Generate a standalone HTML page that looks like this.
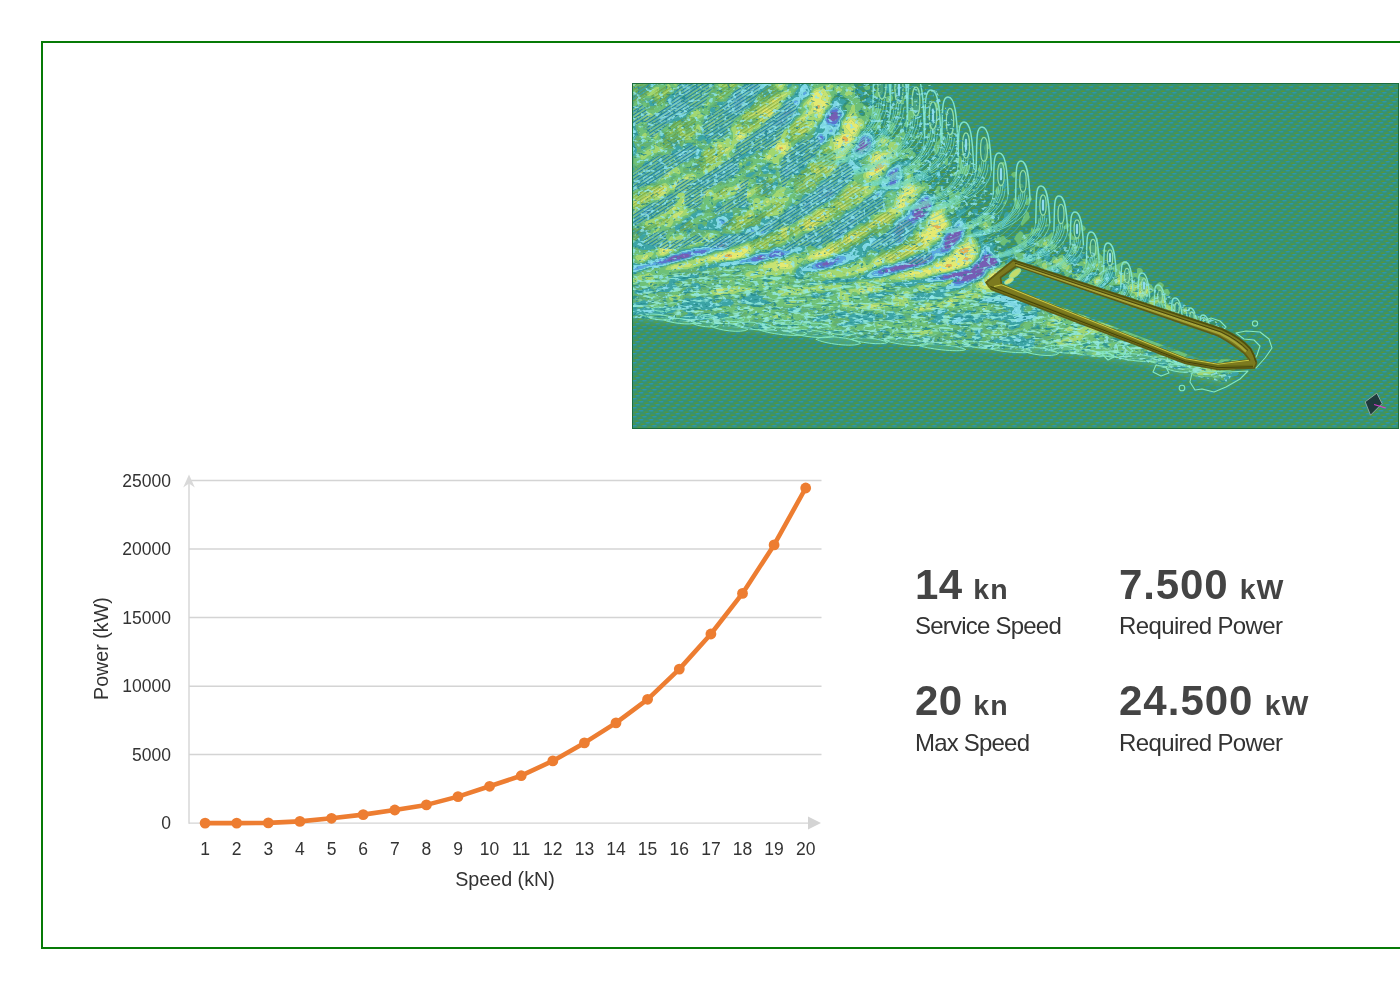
<!DOCTYPE html>
<html lang="en"><head><meta charset="utf-8"><title>Speed / Power</title>
<style>
html,body{margin:0;padding:0;background:#fff;}
body{width:1400px;height:990px;position:relative;overflow:hidden;font-family:"Liberation Sans","DejaVu Sans",sans-serif;}
.frame{position:absolute;left:41px;top:41px;width:1380px;height:903.5px;border:2px solid #077a07;border-right:none;box-sizing:content-box;}
.wave{position:absolute;left:632px;top:83px;width:767px;height:346px;display:block;}
.chart{position:absolute;left:0;top:0;width:1400px;height:990px;display:block;}
.ax{font-family:"Liberation Sans","DejaVu Sans",sans-serif;font-size:17.5px;fill:#333;}
.at{font-family:"Liberation Sans","DejaVu Sans",sans-serif;font-size:19.7px;fill:#333;}
.stat{position:absolute;color:#444;white-space:nowrap;}
.stat .num{font-weight:700;font-size:42px;line-height:40px;letter-spacing:0.45px;}
.stat .unit{font-weight:700;font-size:28.5px;letter-spacing:1.1px;margin-left:-1.5px;}
.stat .lab{font-size:24px;line-height:26px;color:#333;margin-top:4.4px;letter-spacing:-0.8px;}
</style></head><body>
<div class="frame"></div>
<svg class="wave" viewBox="0 0 767 346">
<defs>
<pattern id="mesh" width="10" height="9" patternUnits="userSpaceOnUse">
<rect width="10" height="9" fill="#37926f"/>
<ellipse cx="-2.50" cy="2.25" rx="2.3" ry="0.8" fill="#6f9716" opacity="0.58"/>
<ellipse cx="2.50" cy="0.75" rx="2.3" ry="0.8" fill="#2598dc" opacity="0.58"/>
<ellipse cx="7.50" cy="2.25" rx="2.3" ry="0.8" fill="#6f9716" opacity="0.58"/>
<ellipse cx="12.50" cy="0.75" rx="2.3" ry="0.8" fill="#2598dc" opacity="0.58"/>
<ellipse cx="-0.83" cy="3.75" rx="2.3" ry="0.8" fill="#2598dc" opacity="0.58"/>
<ellipse cx="9.17" cy="3.75" rx="2.3" ry="0.8" fill="#2598dc" opacity="0.58"/>
<ellipse cx="4.17" cy="5.25" rx="2.3" ry="0.8" fill="#6f9716" opacity="0.58"/>
<ellipse cx="5.83" cy="6.75" rx="2.3" ry="0.8" fill="#2598dc" opacity="0.58"/>
<ellipse cx="0.83" cy="8.25" rx="2.3" ry="0.8" fill="#6f9716" opacity="0.58"/>
<ellipse cx="10.83" cy="8.25" rx="2.3" ry="0.8" fill="#6f9716" opacity="0.58"/>
</pattern>
<pattern id="hatch_dark" width="6" height="3" patternUnits="userSpaceOnUse" patternTransform="rotate(-33)">
<rect x="0" y="0" width="6" height="1.5" fill="#1f7f9c"/>
<rect x="0" y="1.5" width="6" height="0.7" fill="#86daea" opacity="0.8"/>
<rect x="0" y="2.2" width="6" height="0.8" fill="#8fc65a" opacity="0.6"/>
</pattern>
<pattern id="hatch_lite" width="6" height="3" patternUnits="userSpaceOnUse" patternTransform="rotate(-33)">
<rect x="0" y="0" width="6" height="1.4" fill="#6f962a"/>
</pattern>
<linearGradient id="hg" x1="0" y1="0" x2="1" y2="0"><stop offset="0" stop-color="#fff" stop-opacity="1"/><stop offset="0.7" stop-color="#fff" stop-opacity="0.8"/><stop offset="1" stop-color="#fff" stop-opacity="0"/></linearGradient>
<mask id="hm"><path d="M0 0 L175 0 L360 188 L250 186 L100 172 L0 182 Z" fill="url(#hg)"/></mask>
<filter id="spk" x="0" y="0" width="100%" height="100%" color-interpolation-filters="sRGB">
<feTurbulence type="fractalNoise" baseFrequency="0.22 0.30" numOctaves="2" seed="11" result="t"/>
<feColorMatrix in="t" type="matrix" values="0 0 0 0 0.13  0 0 0 0 0.52  0 0 0 0 0.56  7 0 0 0 -4.45" result="dark"/>
<feColorMatrix in="t" type="matrix" values="0 0 0 0 0.56  0 0 0 0 0.90  0 0 0 0 0.94  0 7 0 0 -4.0" result="lite"/>
<feMerge><feMergeNode in="dark"/><feMergeNode in="lite"/></feMerge>
<feComposite in2="SourceGraphic" operator="in"/>
</filter>
<filter id="spk2" x="0" y="0" width="100%" height="100%" color-interpolation-filters="sRGB">
<feTurbulence type="fractalNoise" baseFrequency="0.10 0.36" numOctaves="2" seed="5" result="t"/>
<feColorMatrix in="t" type="matrix" values="0 0 0 0 0.15  0 0 0 0 0.55  0 0 0 0 0.56  7 0 0 0 -4.2" result="dark"/>
<feColorMatrix in="t" type="matrix" values="0 0 0 0 0.58  0 0 0 0 0.92  0 0 0 0 0.86  0 7 0 0 -3.9" result="lite"/>
<feMerge><feMergeNode in="dark"/><feMergeNode in="lite"/></feMerge>
<feComposite in2="SourceGraphic" operator="in"/>
</filter>
<filter id="bl" x="-5%" y="-5%" width="110%" height="110%"><feGaussianBlur stdDeviation="5"/></filter>
<clipPath id="wc"><rect x="0" y="0" width="767" height="346"/></clipPath>
</defs>
<g clip-path="url(#wc)">
<rect x="0" y="0" width="767" height="346" fill="url(#mesh)"/>
<path d="M-10 -10 L172 -10 L250 70 L368 186 L372 205 L520 262 L600 288 L596 300 L557 291 L511 278 L419 268 L328 263 L200 252 L-10 233 Z" fill="#7cc77a" opacity="0.6" filter="url(#bl)"/>
<g opacity="0.94">
<path fill="#7858b8" fill-rule="evenodd" d="M199 30l1-1 2 0 2 0 2 1 1 2-1 2 0 1-1 1-1 1-2 1-1 0-1 0-2 0-1 0 0-2 0-2 1-2 0-1zM230 58l2-1 2 1 1 2 1 2-1 2 0 2-1 1-1 1-1 0-2 1-2 0-2-1-1-2 1-1 1-1 0-2 1-1 0-1zM261 90l1-1 1 1-1 2-1 0 0 2-1 1 0-1 0-2 0-1zM292 118l2-1 2 1 1 2 1 2 0 2-1 2-1 1-1 1-1 2-1 2-1 1-2 1-2 1-2 1-1 0-1 0-2 1-1-1 0-2 1-2 0-2 0-1 0-1 1-2 1-1 1-1 1-2 2-2 1 0 1-1zM268 142l2 0 1 0 1 2-1 2-1 2-1 0-1 0-1 0-1-1 0-1 0-1 0-1zM323 146l1 0 2 0 1 0 1 1 0 1 0 2 0 2-1 2-1 2-2 2-1 2-1 0-2 2-1 2-1 1-2 1-2 0-1 0-1-2 1-2 0-2 0-2 1-2 0-1 1-1 1-1 1-1 1-1 1-1 1-2 2-1zM87 162l1-1 2 0 2 0 2 1-2 2-2 0-2 0-1 0zM146 170l2 0 1 0 0 2-1 0-1 0zM48 172l2-1 2 0 2 0 2 0 2 1-1 2-1 0-2 1-2 0-2 0-2 1-2 0-1 0-1 0-2 1-2 0-1 1-1 0-2 0-2 0-1 0 1 0 2-1 1-1 1-1 1-1 1 0 2-1 2 0 2 0zM126 174l2-1 2 0 2 1 1 0-1 1-2 1-2 0-2 0-2 0-2 0 2 0 2-1zM352 174l0-1 2-1 2 0 2 1 2 1 2 1 1 1 1 1 1 1 0 2-1 2-2 1-2 0-2 1-1 0-1 0-2 1-1 1-1 1-1 1-1 2-1 2-1 1-1 1-1 0-2 1-2 0-2 1-2 1-2 1-2 0-2 0-2 0-2 0-2 1-2-1-1 0 1 0 2-2 2-1 1-1-1-1-2 0-2 1-2 0-2 1-2 0-2 0-2 0-2 0-2-1 2-1 2 0 2 0 1-1 1 0 2-1 2-1 2 0 2 0 2-1 2-1 1 0 1 0 2 0 2 0 1 0 1 1 1-1 1-2 2-2 2-2 2-1 1-1 1 0 2-2 1-2zM283 176l1 0 2 0 2 0 2-1 2 0 2 1 0 2-2 1-1 1-1 0-2 1-1 1-1 0-2 1-2 0-2 1-2 0-2 0-2 1-2 1-1 0-1 0-2 0-2 1-2 0-2 1-1 0-1 0-2 0-2 1-2 0-2 0-2 0-1-1 1 0 2-1 2-1 2 0 2 0 2-1 2-1 2-1 2 0 2 0 2-1 2-1 2-1 2-1 1-1 1 0 2-1 2-1zM191 180l1 0 2-1 2 0 2 1-2 2-1 0-1 0-2 1-2-1-1 0 1 0z"/>
<path fill="#5a72d6" fill-rule="evenodd" d="M120 0l2 0 2 0 2 0-2 1-2 0zM156 26l2 1 1 1-1 2-2 1-2 1-1 0-1 0 0-2 1-2 1-1zM199 28l1-1 2 0 2-1 2 1 1 1 1 1 0 1 1 2-1 2-1 2-1 2-1 2-1 1-2 0-2 0-2-1-2 0-2-2 1-2 0-2 1-2 1-2 1-1zM200 29l-1 1-1 1 0 1-1 2 0 2 0 2 1 0 2 0 1 0 1 0 2-1 1-1 1-1 0-1 1-2-1-2-2-1-2 0zM150 36l2 2-1 2-1 1-1-1-1-2zM187 54l1-1 2 0 1 1 0 2-1 1-2-1zM231 54l1 0 1 0 1 0 2 1 1 1 1 2 1 2 0 2 0 2-1 1-1 1-1 1-1 1-1 1-2 1-2 1-2 0-2-1-1 0-1-1-1-1 1-2 1-2 1-2 1-2 1-2 1-2 1-1zM230 58l-2 2 0 1-1 1 0 2-1 1-1 1 1 2 2 1 2 0 2-1 1 0 1-1 1-1 0-2 1-2-1-2-1-2-2-1zM260 88l2-1 2-1 2 2 0 2-1 2-1 2 0 1 0 1 1 2-1 2 0 1-1 1-1 1-2 0-2 0-1-1 1-2 0-1 0-1 0-1 0-1-1-2 0-2 1-2zM262 89l-1 1-1 1 0 1 0 2 0 1 1-1 0-2 1 0 1-2zM195 108l1 0 2 0 1 0 1 1 1 1-1 2-2 2-2 0-1 0-1-1 0-1 0-2zM291 116l1-1 2 0 2 0 1 1 1 1 0 1 1 2 0 2 0 2-1 2-1 2-1 1-1 1-1 2-2 2-2 1-2 1-2 1-2 1-2 2-2 1-1 1-1 0-2 2-2 2-2 2-1 2-1 1-1 1 0 2 1 1 0 1-2 2-2 0 0-2 1-2-1-2-2 0-2-1 0-1 0-1 1-1 1-2 0-1 0-1 1-2 1-1 1-1 1-1 2 0 2-1 2 0 2-2 2-2 2-2 0-2 0-2 1-2 1-2 2-2 2-2 2-1 1-1 1-1zM292 118l-2 1-1 1-1 0-2 2-1 2-1 1-1 1-1 2 0 1 0 1 0 2-1 2 0 2 1 1 2-1 1 0 1 0 2-1 2-1 2-1 1-1 1-2 1-2 1-1 1-1 1-2 0-2-1-2-1-2-2-1zM268 142l-2 2 0 1 0 1 0 1 1 1 1 0 1 0 1 0 1-2 1-2-1-2-1 0zM15 128l1-1 2 1-1 2-1 0-1 0zM325 144l1 0 2-1 2 1 1 2-1 2 0 1 0 1-1 2 0 2-1 1 0 1-2 2-2 2-2 2-2 2-2 2-2 2-1 0-1 0-2 1-2 0-2-1 0-1 1-1 1-2 1-2 1-2 0-2 0-1 0-1 1-2 1-1 1-1 1-1 1-1 1-1 1-1 1-1 1-1 1-1 2-1zM324 146l-1 0-1 1-2 1-1 2-1 1-1 1-1 1-1 1-1 1 0 1-1 2 0 2 0 2-1 2 1 2 1 0 2 0 2-1 1-1 1-2 2-2 1 0 1-2 2-2 1-2 1-2 0-2 0-2 0-1-1-1-1 0zM87 160l1-1 2 0 2 0 2 0 2 0 1 1-1 2-1 2-1 0-2 1-2 0-2 0-2 0-2 0-2 0-1-1 1-1 1-1 1-1 2 0zM88 161l-1 1 0 2 1 0 2 0 2 0 2-2-2-1-2 0zM63 168l1 0 2 0 2-1 2 0 2 0 2 0 1 1-1 1-1 1-1 0-2 1-2 0-2-1-2 0 0-1 0 1-2 1-1 1-1 1-1 1-1 0-2 1-2 0-2 1-1 0-1 0-2 1-2 0-2 1-1 0-1 0-2 1-2 0-2 0-2 1-2 0-2 1-2-1-2 0-2 0 2-1 2-1 2 0 2-1 1-1 1 0 2-1 1-1 1 0 2-1 2-1 2 0 1 0 1 0 2-1 2-1 2 0 2 0 2-1 2 0 2 0 2-1zM48 172l-2 1-2 0-2 0-2 1-1 0-1 1-1 1-1 1-2 1-1 0 1 0 2 0 2 0 1 0 1-1 2 0 2-1 1 0 1 0 2 0 2-1 2 0 2 0 2-1 1 0 1-2-2-1-2 0-2 0-2 0zM143 168l1 0 2 0 2 0 2 1 2 1 0 1 0 1-2 1-2 1-2-1-2 0-2 1-1 0-1 0-2 0-1 0 0-2 1-1 1-1 1 0 2-2zM146 170l1 2 1 0 1 0 0-2-1 0zM128 172l2 0 2 0 2 1 2 1-2 1-1 1-1 0-2 1-2 0-2 1-2 0-2 0-2 0-2-2 2-1 2-1 2 0 2-1zM128 173l-2 1 0 1-2 1-2 0 2 0 2 0 2 0 2 0 2-1 1-1-1 0-2-1zM298 172l2-1 0 1 1 2-1 2-2 1-1 1-1 0-2 2-2 1-2 0-1 1-1 0-2 1-2 1-2 0-2 0-2 1-2 0-2 1-2 1-2 0-2 0-2 1-2 0-2 1-2 0-2 1-1 0-1 0-2 1-2 0-2 0-2 0-2-1 0-2 2-1 2-1 1 0 1-1 2 0 2 0 2-1 1 0 1 0 2-1 2-1 1 0 1-1 2 0 2-1 1 0 1 0 2-1 1-1 1 0 2-1 2-1 2-1 2 0 2-1 2 0 1 0 1 0 2-1 2 0 2 0zM284 176l-1 0-1 0-2 1-2 1-1 0-1 1-2 1-2 1-2 1-2 1-2 0-2 0-2 1-2 1-2 1-2 0-2 0-2 1-2 1-1 0 1 1 2 0 2 0 2 0 2-1 2 0 1 0 1 0 2-1 2 0 2-1 2 0 1 0 1 0 2-1 2-1 2 0 2 0 2-1 2 0 2-1 1 0 1-1 2-1 1 0 1-1 2-1 0-2-2-1-2 0-2 1-2 0zM351 172l1-1 2 0 2 0 2 0 1 1 1 0 2 2 2 1 1 1 1 1 0 1 1 2-1 1 0 1-2 1-2 1-1 0-1 0-2 1-2 0-1 1-1 0-1 2-1 1 0 1-1 2-1 1-1 1-1 0-2 1-2 1-1 0-1 1-2 0-1 1-1 0-2 1-2 0-2 1-1 0-1 0-2 1-2 0-2 0-2-1-2 0 2-2 0-1 2 0 1-1-1-1-2 0-2 0-2 0-2 1-2 0-2 1-2 0-2-1-1 0 0-2 1 0 2-1 1-1 1 0 2 0 2 0 2-1 2-1 2 0 2-1 2 0 2 0 1-1 1-1 2 0 2 0 2 0 2-1 2-2 2-2 2-2 2-1 2-1 1-2 1-2zM352 173l0 1-1 2-1 2-2 2-1 0-1 1-2 1-2 2-2 2-1 2-1 1-1-1-1 0-2 0-2 0-1 0-1 0-2 1-2 1-2 0-2 0-2 1-2 1-1 0-1 1-2 0-2 0-2 1 2 1 2 0 2 0 2 0 2 0 2-1 2 0 2-1 2 0 1 1-1 1-2 1-2 2-1 0 1 0 2 1 2-1 2 0 2 0 2 0 2 0 2-1 2-1 2-1 2 0 2-1 1 0 1-1 1-1 1-2 1-2 1-1 1-1 1-1 2-1 1 0 1 0 2-1 2 0 2-1 1-2 0-2-1-1-1-1-1-1-2-1-2-1-2-1-2 0zM202 176l2 0 2-1 2 1 2 0-2 0-2 1 0 1-2 1-1 1-1 1-1 1-1 0-2 1-2 1-1 0-1 0-2 1-2 0-2 0-2 0-2-1-1-2 1-1 2-1 2 0 2-1 2 0 2-1 2 0 2-1 2 0zM192 180l-1 0-1 2-1 0 1 0 2 1 2-1 1 0 1 0 2-2-2-1-2 0z"/>
<path fill="#5aa8e8" fill-rule="evenodd" d="M117 0l1 0 2 0 2 1 2 0 2-1 2 0 2 0 2 0-2 1-2 1-1 0-1 1-1 1-1 1-1 1-1 1-1 1-1 1-2 0-2 1-1-2 1-1 1-1 1-2 0-2zM171 10l1-1 2-1 1 2-1 2-2 0-1 0zM103 12l1-1 2-1 2 1 2 1 1 2 1 2 0 1 0 1 0 2 0 1-2 1-1 2-1 2-2 2-2 0-2-1-2-1-1 0 1-2 2-2 0-1 0-1 0-1 0-1 0-2 0-1 0-1zM162 18l2-1 2 1 0 2 0 1-1 1-1 1-2-1-1-2zM43 24l1-1 2-1 2 2-2 1-2 0zM155 24l1-1 1 1 1 0 2 2 2 2 0 1 0 1 0 1-2 1-2 0-2 1-1 1-1 2 1 2-1 2-2 2-2 1-2 0-2-1-2 0-2 1-1-1-1-1 0-1 2-2 2 1 0-1 2-2 1-2 1-2 2-2 0-1 1-1 1-1 1-1 1-1zM156 26l-2 1-1 1-1 2 0 2 1 0 1 0 2-1 2-1 1-2-1-1zM150 36l-2 2 1 2 1 1 1-1 1-2zM203 24l1-1 2 0 0 1 1 2 1 1 1 1 1 2 0 2 0 1-1 1-1 2-1 2 0 2 0 2-1 1-2 1-1 0-1 0-2-1-2-1-2 0-2-1-1-1 0-2 0-2 1-2 0-1 1-1 0-2 1-1 1-1 1-1 2-1 2-2zM200 27l-1 1-1 1-1 1-1 2-1 2 0 2-1 2 2 2 2 0 2 1 2 0 2 0 1-1 1-2 1-2 1-2 1-2-1-2 0-1-1-1-1-1-2-1-2 1zM37 30l1-1 1 1-1 2-1 2-1 2-2 2-2-1-1-1 0-2 1-1 1-1 1 0 2-1zM134 46l2 1 1 1-1 1-2 0-2 1 0-2 0-1zM200 46l1 2-1 1-2 0-2-1 2-1zM187 52l1-1 2 0 2 1 1 2 0 2-1 2-2 2-1 0-1 0-1 0-1-2-1-2 0-2 1-1zM188 53l-1 1 1 2 2 1 1-1 0-2-1-1zM232 52l1 0 1 0 2 1 2 1 2 2 0 2 0 2 1 2-1 2 0 1-1 1-1 1-1 1-1 1-2 1-2 1-2 1-2 0-1 0-1 0-2-1-1-1-1-2 1-2 1-2 1-2 1-2 1-2 1-2 0-1 1-1 1-1zM232 54l-1 0-1 1-1 1-1 2-1 2-1 2-1 2-1 2-1 2 1 1 1 1 1 0 2 1 2 0 2-1 2-1 1-1 1-1 1-1 1-1 1-1 0-2 0-2-1-2-1-2-1-1-2-1-1 0zM49 72l1-1 2 0 2 0 2 1-2 1-2 1-2 0zM155 86l1-1 1 1-1 2 0 1 0 1-2 1-1-1 0-2 1-1zM261 86l1-1 2 0 2-1 1 2 0 2 1 2 0 1 0 1 0 2 0 1-1 1-1 2 0 2-1 2-1 2-2 0-2 1-2 0-2 0-2-1 0-2 2-2 0-1 1-1-1-2-1-2 0-2 1-2 2-2 2-2zM260 88l-2 2-1 2 0 2 1 2 0 1 0 1 0 1 0 1-1 2 1 1 2 0 2 0 1-1 1-1 0-1 1-2-1-2 0-1 0-1 1-2 1-2 0-2-2-2-2 1zM214 90l2-1 1 1 1 2-2 2 0 1-1 1-1 0-2 2-1 0-1 0-1 0 0-2 1-1 1-1 1-2zM188 104l2-1 2 0 2 1 2 0 2 1 2 1 2 1 2 0 0 1 0 1-1 1-1 2-1 2-1 1-2 0-1 1-1 0-2 1-2 0-2 1-2 1-2-1 0-2 0-1 0-1 0-2 1-2 0-2 0-2zM196 108l-1 0-1 2 0 2 0 1 1 1 1 0 2 0 2-2 1-2-1-1-1-1-1 0zM246 110l2 0-1 2-1 1-2 1-1-2 1-1zM292 114l2-1 2 0 1 1 1 1 1 1 1 2 0 2 0 2 0 1 0 1-1 2-1 1 0 1-2 2 0 1-1 1-1 2-2 1-1 1-1 0-2 1-2 1-2 2-2 2 0 1-1 1-1 0-2 1-1 1-1 1-2 1-1 2-1 2 0 2 0 2-1 2-1 1-2 1-1 0-1 0-2 0-2-2 0-1-2-1-2-2 1-2 1-2 0-1 1-1 1-2 1-2 1-2 1-2 1-1 1-1 1 0 2-1 2-1 2-2 2-2 2-1 0-1 0-2 1-2 1-1 1-1 1-1 1-1 1-1 1-1 1-1 1-1 1-1 1-1 1-1zM292 115l-1 1-1 1-1 1-1 1-2 1-2 2-2 2-1 2-1 2 0 2 0 2-2 2-2 2-2 2-2 0-2 1-2 0-1 1-1 1-1 1-1 2 0 1 0 1-1 2-1 1 0 1 0 1 2 1 2 0 1 2-1 2 0 2 2 0 2-2 0-1-1-1 0-2 1-1 1-1 1-2 2-2 2-2 2-2 1 0 1-1 2-1 2-2 2-1 2-1 2-1 2-1 2-2 1-2 1-1 1-1 1-2 1-2 0-2 0-2-1-2 0-1-1-1-1-1-2 0zM177 116l1-2 1 2-1 2 1 2 0 2-1 2 0 1-2 1-2 1-1-1 0-2-1-1-1-1 0-2 1-1 2-1 2-1zM16 126l2 0 1 0 1 2-1 2-1 1-2 1-1 0-1 0-2 0 0-2 1-2 1-1zM16 127l-1 1 0 2 1 0 1 0 1-2zM219 134l1-2 2 1 2 0 1 1-1 1 0 1-1 2-1 1-2 1-2 2 0 2-2 2-2 2-2 2-2 2-2 2-1 0-1 1-2 0-1-1 0-2 0-2 1-1 1-1 1-2 2-2 2 1 2 1 2-2 1-2 1-2 0-2 1-2 1-1zM87 136l1 0 2 0 2 1 1 1 0 2-1 1-2 1-2 0-1-2 0-2zM325 142l1-1 2-1 2 1 1 1 1 2 0 2 0 1 0 1-1 2-1 2 0 1 0 1-1 2-1 1-1 1-1 1-1 1-1 1-1 1-1 1-1 1-1 2-2 2-2 1-2 1-1 0-1 0-2 1-2 0-2 0-2-1-1 2-1 2 0 1 0 1-2 2-1 0-1 1-2 1-2 1-2 1-1 0-1 0-2 1-2 1-1 0-1 0-2 1-2 0-2 0-2 1-2 1-2 0-2 1-2 0-2 1-2 0-2 1-1 0-1 0-2 1-2 0-2 1-2 0-2 1-2 0-2 0-2 0-2 0-2-1-1-2 1 0 2-2 2 0 2-1 2-1 1 0 1-1 2-1 2 0 1 0 1 0 2 0 2-1 2-1 1 0 1-1 2-1 1 0 1 0 2-1 2 0 1-1 1 0 2-1 1-1 1 0 2-1 2-1 1 0 1 0 2-1 2 0 2 0 2-1 2 0 2-1 1-1 1-1 2-1 2 0 2-1 0-1 2-1 2-1 1-2 1-2 1-2 0-2 1-2 1-2 1-1 1-1 1-1 1-1 1-1 1-1 1-1 2-1 2-1zM326 144l-1 0-1 0-2 1-1 1-1 1-1 1-1 1-1 1-1 1-1 1-1 1-1 1-1 2 0 1 0 1 0 2-1 2-1 2-1 2-1 1 0 1 2 1 2 0 2-1 1 0 1 0 2-2 2-2 2-2 2-2 2-2 2-2 0-1 1-1 0-2 1-2 0-1 0-1 1-2-1-2-2-1zM298 172l-2 1-2 0-2 0-2 1-1 0-1 0-2 0-2 1-2 0-2 1-2 1-2 1-1 0-1 1-2 1-1 0-1 0-2 1-2 0-1 1-1 0-2 1-2 1-1 0-1 0-2 1-2 0-2 0-1 1-1 0-2 1-2 1 0 2 2 1 2 0 2 0 2 0 2-1 1 0 1 0 2-1 2 0 2-1 2 0 2-1 2 0 2 0 2-1 2-1 2 0 2-1 2 0 2 0 2-1 2-1 1 0 1-1 2 0 2-1 2-2 1 0 1-1 2-1 1-2-1-2 0-1zM136 144l2 0 0 2-2 1-1 1-1 0-2 2-2 1-2-1 2-2 2-1 1-1 1-1zM120 146l1 0 1 1 1 1-1 1-2 0-2-1zM93 156l1-1 2 0 2 0 2 0 2 1 0 2-2 2-2 2-2 2-2 1-2 1-2 0-2 0-2 0-2 0-2 0-2 1-2 1-2 1-1 1-1 0-2 1-2 1-2 0-2 0-2 0-2 1-2 1-2 1-2 0-2 1-2 1-2 0-2 1-2 0-2 0-2 1-2 0-2 1-1 0-1 0-2 1-2 0-2 1-1 0-1 0-2 0-2 1-2-1-2 1-2 0-2 0-2 1-2 1-2 1-1 0-1 0-2 1-2 0-2 0-2 1 0-2 0-2 2 0 2 0 2-1 2 0 2 0 2-1 2 0 2-1 2-1 2 0 2-1 2-1 2-1 2-1 2 0 1 0 1 0 2-2 1 0 1 0 2-1 2-1 2 0 2-1 2 0 2-1 2-1 2 0 2 0 2-1 1 0 1 0 2-1 2-1 2 0 2 0 2 0 2 0 2-1 2 0 2 0 2 0 0-1 2-1 1-1 1-1 2-1 2-1 2-1 2-1 2 0zM64 168l-1 0-1 0-2 1-2 0-2 0-2 1-2 0-2 0-2 1-2 1-1 0-1 0-2 0-2 1-2 1-1 0-1 1-2 1-1 0-1 1-2 1-2 0-2 1-2 1 2 0 2 0 2 1 2-1 2 0 2-1 2 0 2 0 2-1 1 0 1 0 2-1 2 0 2-1 1 0 1 0 2-1 2 0 2-1 1 0 1-1 1-1 1-1 2-1 0-1 0 1 2 0 2 1 2 0 2-1 1 0 1-1 1-1-1-1-2 0-2 0-2 0-2 1zM88 159l-1 1-1 1-2 0-1 1-1 1-1 1 1 1 2 0 2 0 2 0 2 0 2 0 2-1 1 0 1-2 1-2-1-1-2 0-2 0-2 0zM250 158l2-2 2 2-2 1zM353 166l1-1 0 1 0 2 2 1 1 1 1 0 2 1 1 1 1 1 2 1 2 2 1 2 0 2 0 2-1 1-2 1-2 0-2 1-2 0-1 1-1 0-2 2-1 2-1 2-2 2-2 1-2 1-1 0-1 1-2 1-2 1-2 0-2 1-1 0-1 0-2 1-2 1-2 1-2 0-2 0-2 0-2 0-2 0-2-1 2 0 2-2 1-2 1-1 2 0 1-1-1-1-2 0-2 1-1 0-1 0-2 1-2 0-2 0-2 0-2 0-2 0-2 0-2 0-2 0-2-1 2 0 2-1 1-1 1 0 2-1 2-1 1 0 1 0 2-1 2 0 2 0 2-1 1 0 1-1 2 0 2 0 2 0 1-1 1 0 2-1 2-1 2 0 2 0 2-1 1-1 1-1 1-1 1-1 1-1 1-1 2-1 2-2 1-2 1-2 1-2 1-2 1 0zM352 171l-1 1-1 2-1 2-1 2-2 1-2 1-2 2-2 2-2 2-2 1-2 0-2 0-2 0-1 1-1 1-2 0-2 0-2 1-2 0-2 1-2 1-2 0-2 0-1 0-1 1-2 1-1 0 0 2 1 0 2 1 2 0 2-1 2 0 2-1 2 0 2 0 2 0 1 1-1 1-2 0 0 1-2 2 2 0 2 1 2 0 2 0 2-1 1 0 1 0 2-1 2 0 2-1 1 0 1-1 2 0 1-1 1 0 2-1 2-1 1 0 1-1 1-1 1-2 0-1 1-1 1-2 1 0 1-1 2 0 2-1 1 0 1 0 2-1 2-1 0-1 1-1-1-2 0-1-1-1-1-1-2-1-2-2-1 0-1-1-2 0-2 0zM140 168l2-1 2-1 2 0 2 1 2 0 2 1 2 0 2-1 2 0 1 1-1 1-1 1-1 0-2 1 0 1-2 1-1 1-1 0-2 0-2 0-2 0-2 1-2 0-2 0-2 1-2 0-2 1-2 1-2 0-2 1-2 0-2 0-2 0-2 0-2 0-2 0-2 0-2 1-2 0-1-2 1 0 2-1 2 0 2 0 1-1 1 0 2-1 2-1 2-1 2-1 1 0 1 0 2-1 2 0 2 0 2 0 2 0 1-1 1-1zM144 168l-1 0-1 0-2 2-1 0-1 1-1 1 0 2 1 0 2 0 1 0 1 0 2-1 2 0 2 1 2-1 2-1 0-1 0-1-2-1-2-1-2 0zM128 172l-2 1-2 1-2 0-2 1-2 1 2 2 2 0 2 0 2 0 2-1 2 0 2-1 1 0 1-1 2-1-2-1-2-1-2 0zM204 174l2-1 2 0 2 0 2 0 2 1 0 2 0 2-2 1-2 1-2 0-1 0-1 1-1 1-1 0-2 1-2 1-1 0-1 0-2 1-2 0-2 1-1 0-1 0-2 0-2 0-2 1-2-1-2 0 0-2 0-2 2-1 1-1 1 0 2-1 2 0 2-1 1 0 1 0 2-1 2 0 2-1 2 0 2-1zM204 176l-2 0-2 1-2 0-2 1-2 0-2 1-2 0-2 1-2 0-2 1-1 1 1 2 2 1 2 0 2 0 2 0 2-1 1 0 1 0 2-1 2-1 1 0 1-1 1-1 1-1 2-1 0-1 2-1 2 0-2 0-2-1z"/>
<path fill="#80daec" fill-rule="evenodd" d="M48 0l2 0 2 0 2 0 2 2 2 2 2 2-2 2 0 1-2 1 0 1-2 1-2-2 0-2 0-2-2-2-1-2zM72 0l2 0 2 0 2 0-2 1-2 0-2 0zM115 0l1 0 1 0 1 2 0 2-1 2-1 1-1 1 1 2 2-1 2 0 1-1 1-1 1-1 1-1 1-1 1-1 1-1 1 0 2-1 2-1 2 0 2 0 1 0-1 2-2 1-1 1-1 1-2 1-2 1-1 1-1 1-1 1-1 1-1 1-1 1-2 0-2-1-1 0-1 0-2 2 0 2 0 1 0 1 1 2 0 2-1 2-2 1-2 1-1 2-1 1-1 1-1 1-2 0-2 0-2 0-1-1-1 0-2-2-2-2-2-2 2-2 2 0 2-1 1-1-1-2 1-2 1-2 1-2 1-1 0-1 2-2 1 0 1-1 2 0 2 0 1-1 1-1 1-1 1 0 1-2zM104 11l-1 1-1 2 0 1 0 1 0 2 0 1 0 1 0 1 0 1-2 2-1 2 1 0 2 1 2 1 2 0 2-2 1-2 1-2 2-1 0-1 0-2 0-1 0-1-1-2-1-2-2-1-2-1zM170 2l2-1 2 0 1 1 1 2 1 2 1 2-1 2 0 2-1 1-2 1-2 1-2 0-2 1 0 2 0 2-1 2-1 1-1 1-1 1 0 1 0 1 0 1 1 2 0 2-1 1-2 1-1 2-1 2-2 2-2 1-1 1-1 1-2 1-1 0-1 0-2 1-2 0-2 1-1 0-1 1-1 1-1 2 0 1-2 1-1 0-1 1-2 0-2 0-2 0-2 0-2 0-2-1 2-1 1-1 1-1 1-1 1-1 1-1 1-1 2-1 2 0 1-2 0-2 1-1 1-1 1-1 2-1 2-1 1-1 1-1 1-1 1-2 1-2 1-1 1-1 1-1 1-1 0-2 1-2 2-2 1 0 1 0 2-1 1-1 1-1 2-1 2 0 1 0-1-2 0-2 2-2 0-2 1-2zM172 9l-1 1 0 2 1 0 2 0 1-2-1-2zM134 46l-2 1 0 1 0 2 2-1 2 0 1-1-1-1zM156 23l-1 1-1 1-1 1-1 1-1 1-1 1 0 1-2 2-1 2-1 2-2 2 0 1-2-1-2 2 0 1 1 1 1 1 2-1 2 0 2 1 2 0 2-1 2-2 1-2-1-2 1-2 1-1 2-1 2 0 2-1 0-1 0-1 0-1-2-2-2-2-1 0zM162 18l-1 2 1 2 2 1 1-1 1-1 0-1 0-2-2-1zM44 14l2-1 2 1 1 2 0 2 1 2 2-1 2 0 0 1 1 2 0 2 1 2 0 2 0 1-1 1-1 2-2 1-1 1-1 0-2 1-1-1 0-2 0-2-1-1-2 0-1 1-1 0-1 2-1 1 0 1-1 2-1 1-1 1-1 1-2 1-2-1-2 0-2 0-2-1 0-1 0-1 1-2 1-1 1-1 1-1 2-1 2-2 2-1 1-1 1 0 1-2 1-2 0-1 0-1 2-2 1-2zM38 29l-1 1-1 1-2 1-1 0-1 1-1 1 0 2 1 1 2 1 2-2 1-2 1-2 1-2zM44 23l-1 1 1 1 2 0 2-1-2-2zM203 18l1 0 1 0 1 1 1 1 1 2 1 2 0 2 1 1 1 1 1 2 0 2-1 2-1 1-1 1-1 2 0 2 0 2-1 2-1 2-1 0-1 2-1 2-1 1-2 0-2 1-2-1-1 1 0 2 0 2-1 2-2 2-2 1-2 1-2 1-2-1-1-2-1-2 1-2 0-2 1-1 1-1 1-2 1 0 1 0 2 0 2-2 1-2-1-1-2 0-2 0 0-1 0-2 2-2 1-2 1-2 1-2 0-2 1-1 0-1 2-2 2-2 2-2 1-2 0-2 1-2zM204 23l-1 1-1 0-2 2-2 1-1 1-1 1-1 1 0 2-1 1 0 1-1 2 0 2 0 2 1 1 2 1 2 0 2 1 2 1 1 0 1 0 2-1 1-1 0-2 0-2 1-2 1-2 1-1 0-1 0-2-1-2-1-1-1-1-1-2 0-1zM188 51l-1 1-1 1-1 1 0 2 1 2 1 2 1 0 1 0 1 0 2-2 1-2 0-2-1-2-2-1zM200 46l-2 1-2 1 2 1 2 0 1-1zM0 42l0-1 1 1 0 2 1 2 1 2 1 2-1 2-1 2-2 2 0-2 0-1 0-1 1-2-1-1 0-1 0-2 0-2zM232 50l2 0 2 1 2 0 2 1 1 2 1 2-1 2 1 2 0 2 0 2-2 2-2 2 0 1-2 1-2 2-1 0-1 1-1 1-1 0-2 0-2 0-2 0-2-2-1-2-1-2 1-2 1-1 1-1 1-2 1-2 1-2 1-2 1-2 1-2 1-1zM232 52l-2 1-1 1-1 1 0 1-1 2-1 2-1 2-1 2-1 2-1 2 1 2 1 1 2 1 1 0 1 0 2 0 2-1 2-1 2-1 1-1 1-1 1-1 1-1 0-1 1-2-1-2 0-2 0-2-2-2-2-1-2-1-1 0zM66 66l2 2-1 2-1 2-2 0-2-2-2 1 0 1-1 2-1 0-2 1-2 1-2 1-2 0-2 0-2-1-1-2-1-2-2-2 2 0 1-2 1-1 2-1 2 2 1 0 1 0 2 0 2 0 2 0 1 0 1-1 2 0 2 0zM50 71l-1 1 1 2 2 0 2-1 2-1-2-1-2 0zM117 68l1 0 2 0 1 0 0 2-1 1-2 0-2-1zM166 68l2 0 0 2-1 2-1 1-2 0-1-1 1-2zM159 76l1-1 1 1-1 2 1 2 1 1 2 0 1 1 1 2 0 1 0 1 0 2-1 2-1 0-1 0-1-1-2 0-2 1-1 2-1 2-2 0-2-1-1-1-1-2 0-2 1-2 1 0 2-2 0-1 1-1 1-1 1-1 1-2 0-1zM156 85l-1 1-1 1-1 1 0 2 1 1 2-1 0-1 0-1 1-2zM217 78l1-1 2 0 1 1 1 1 1 1 1 2 1 0 1 1 2 1 0 2 0 1-2 1-2 1-2 0-1 1-1 1 0 1-1 2-1 1-1 1-1 1-1 1-1 0-2 2-2 2 0 1-1 1-1 2 0 1-1 1-1 1 0 1-2 2-1 2-1 1-1 1-1 0-2 1-2 1-1 0-1 0-2 1-2 1-2 1-2 0-2 0-2 1-1 2-1 2-2 2-1 0-1 0-2 2-1 0-1 0-2 1-2 0-1-1 1-2 1-2 0-2-1-2 1-2 1-2 2-2 2-2 2-1 1-1 1 0 2 0 2 0 2-1 1-1 0-2 0-2 1-1 0-1 2-2 2-2 2-1 2 0 2 0 2 1 2 2 2 2 2-1 2-1 0-2 0-2 0-1 0-1 2-2 1-2 0-2 0-2 0-2 1 0 2-1 2 0 2 1 1-2-1-2 0-2zM178 114l-1 2-1 1-2 1-2 1-1 1 0 2 1 1 1 1 0 2 1 1 2-1 2-1 0-1 1-2 0-2-1-2 1-2zM190 103l-2 1-1 2 0 2 0 2-1 2 0 2 0 1 0 1 0 2 2 1 2-1 2-1 2 0 2-1 1 0 1-1 2 0 1-1 1-2 1-2 1-1 0-1 0-1-2 0-2-1-2-1-2-1-2 0-2-1zM214 90l-2 2-1 2-1 1-1 1 0 2 1 0 1 0 1 0 2-2 1 0 1-1 0-1 2-2-1-2-1-1zM98 80l2 0 2 0 1 2 0 2 1 0 2 2 0 2-2 1-1 1-1 1-2 1-2 0-1 0 0-2 1-1 1-1-1-1-2 0-2 1-1 2 0 2 0 2-1 2-2-1-2 0-2 0-2 0-2 0-1-1 0-2 1-1 1-1 1 0 2-1 2-1 2-2 2-1 1-1 1-1 1-1 1-1zM169 80l1-1 2 0 1 1-1 1-2 0zM264 82l2-1 2 1 1 2 0 2 0 2 1 2 0 1 0 1 1 2-1 2-2 2 0 1 0 1-1 2-1 2 0 1-2 1-2 0-1 0-1 0-1 0-1 0-2 1-2 0-2-1-2-2 0-1-1-1 0-2 1-2 0-1 1-1 1-1 1-1 1-2 1-2 1-2 2-2 2-1 1-1 1 0zM262 85l-1 1-1 0-2 2-2 2-1 2 0 2 1 2 1 2-1 1 0 1-2 2 0 2 2 1 2 0 2 0 2-1 2 0 1-2 1-2 0-2 1-2 1-1 0-1 0-2 0-1 0-1-1-2 0-2-1-2-2 1zM25 88l1 0 1 0 1 1 0 1-1 2-1 1-2 1-1-2 0-2 1-2zM12 92l2 0 1 0 1 1 2 0 2 1 1 0 1 0 0 2 0 1-2 1-2 1-2 0-2 0-2 0-2-1 1-2 0-2zM285 92l1-1 2 0 2 1 0 1-2 0-2 0zM74 96l2-1 2 0 2 1-2 2 0 1-1 1-1 1-2 1-1 0-1 0-2 0-2-2 2-1 2-1zM126 98l2-2 2 2-2 1zM134 102l2-1 2 1 1 0 0 2-1 2-2 0-2-2 0-1zM248 108l2 0 1 2-1 2-2 2-2 2-2 1-2 0-2 1-1 0-1 1-2 0-1-1 1-2 2-2 2-1 1-1 1-1 1-1 1-1 2-1zM246 110l-2 1-1 1 1 2 2-1 1-1 1-2zM292 112l2-1 2 1 1 0 1 1 2 1 0 1 1 1 1 2 0 2-1 2 0 2-1 1 0 1-1 2-1 1-1 1-1 2-1 2-1 1-2 1 0 1-2 0-1 1-1 0-2 1-1 1-1 2-1 2-1 1-1 1-1 1-2 1 0 1 0 1-2 2-1 2-1 1 0 1-2 2-2 2-2 1-2 1-2 0-1 0-1 0-2 1-2 0-2-1-2 0-2 0-2-1-2 0-1 1-1 1-1 1-1 1-2 1-2 0-2-2 0-1-2 0-1 1-1 2-1 2-1 2-1-2 0-2-1-2 1-2 1-1 2-1 2 0 2 1 0-1 0-1-1-1-1-2 1-2 1-2 1 0 1 0 2 2 2 2 2 1 2-1 2-1 2-1 2-1 2 0 0-1 2-2 0-1 1-1 1-2 2-2 1-2 0-2 1-1 1-1 1-1 2-1 2-1 1-1 1 0 1-2 1-1 1-1 1-1 0-1 2-2 1-2 1-1 1-1 1-1 1-1 1-1 1-1 1-1 1-1 1-1 1-1 1-1zM292 114l-2 1-1 1-1 1-1 1-1 1-1 1-1 1-1 1-1 1-1 1-1 1-1 1-1 2 0 2 0 1-2 1-2 2-2 2-2 1-2 1-1 0-1 1-1 1-1 2-1 2-1 2-1 2-1 1 0 1-1 2-1 2 2 2 2 1 0 1 2 2 2 0 1 0 1 0 2-1 1-1 1-2 0-2 0-2 1-2 1-2 2-1 1-1 1-1 2-1 1 0 1-1 0-1 2-2 2-2 2-1 2-1 1 0 1-1 2-1 1-2 1-1 0-1 2-2 0-1 1-1 1-2 0-1 0-1 0-2 0-2-1-2-1-1-1-1-1-1-2 0zM252 156l-2 2 2 1 2-1zM110 120l2-1 2 1 0 2 0 1-1 1-1 0-1 0-1 0-2-2zM160 124l2 0 1 0 1 2-2 2-2 2-2 1-2 1-1 0 1 0 2 1 1 1 1 0 1 2-1 1-2 1-2 0-2-1-2-1 0-2 2-2 0-1 1-1 0-2 1-1 1-1 1-1zM227 124l1-1 1 1-1 1-1 1-1 1-1 1 1 1 2 0 2 0 2-1 0 2-1 2 0 2 0 2-1 1-1-1-1 0-1 0-1 1-1 1-1 1 0 1-2 2-1 2-1 0-1 2-1 0-2 2-2 2-2 1-1 1-1 1-1 1-1 1-2 1-2 1-2-1-1 0-1-2 1-2 0-2 1-1 1-1 1-2 1-2 1-2 2 0 2 0 2 0 1-2 0-2 0-2-1-1-1-1 1-1 1-1 1-1 1-1 1 0 2-1 1-1 1 0 2-1 1-1 1-1 2 0zM220 132l-1 2-1 1-1 1-1 2 0 2-1 2-1 2-2 2-2-1-2-1-2 2-1 2-1 1-1 1 0 2 0 2 1 1 2 0 1-1 1 0 2-2 2-2 2-2 2-2 2-2 0-2 2-2 2-1 1-1 1-2 0-1 1-1-1-1-2 0zM13 126l1-1 2 0 2-1 2 1 1 1 0 2-1 2-2 2-2 1-2 1-2 0-2 0-2-2 1-2 1-1 1-1 1-1zM16 126l-2 1-1 1-1 2 0 2 2 0 1 0 1 0 2-1 1-1 1-2-1-2-1 0zM87 134l1 0 2-1 2 0 2 1 2 2 1 2-1 2-2 2-2 1-2 1-2 1-2-1-1 0 0-2 0-2-1-2 0-1 0-1 2-2zM88 136l-1 0 0 2 0 2 1 2 2 0 2-1 1-1 0-2-1-1-2-1zM139 138l1-1 2-1 2 0 1 2-1 2-1 0-1 1-1 1 0 2 0 2-1 1-1 1-1 0-2 1-1 1-1 1-1 1-1 1-2 1-2-1-2-1-2 0-2 2-2 0-2-2-2-1-2 1 1 2 1 2-2 2-2 1-2 0-2 0-2 0-1 1-1 0-2 1-1 1-1 0-2 2-2 1-2 1-2 1-2 0-2 0-2 0-2 0-2 1-2 1-2 1-1 0-1 0-2 1-1 1-1 0-2 1-2 0-2 0-2 0-2 1-1 0-1 1-2 1-2 0-2 1-2 0-2 1-1 0-1 0-2 1-2 0-2 1-2 0-2 1-2 0-2 1-1 0-1 1-2 0-2 0-2 1-2 0-2 0-2 0-2 0-2 1-2 0-1 1-1 0-2 1-2 0-2 1-2 1-2 0-2 0 0-1 2-1 2 0 2 0 2-1 1 0 1 0 2-1 2-1 2-1 2 0 2 0 2-1 2 1 2-1 2 0 1 0 1 0 2-1 2 0 2-1 1 0 1 0 2-1 2 0 2-1 2 0 2 0 2-1 2 0 2-1 2-1 2 0 2-1 2-1 2-1 2 0 2 0 2 0 2-1 2-1 1 0 1-1 2-1 2-1 2-1 2 0 2 0 2 0 2 0 2 0 2-1 2-1 2-2 2-2 2-2 0-2-2-1-2 0-2 0-2 0-1 1-1 1-2 0-2 1-2 1-2 1-2 1-1 1-1 1-2 1 0 1-2 0-2 0-2 0-2 1-2 0-2 0-2 0-2 0-2 1-2 1-1 0-1 0-2 1-2 0-2 0-2 1-2 1-2 0-2 1-2 0-2 1-2 1-1 0-1 0-2 2-1 0-1 0-2 0-2 1-2 1-2 1-2 1-2 0-2 1-2 1-2 0-2 1-2 0-2 0-2 1-2 0-2 0 0-1 2-1 2 0 2 0 2 0 2-1 2 0 2-1 1 0 1-1 2 0 2-1 2-1 2-1 2 0 2-1 2 0 2 0 1-1 1 0 2-1 2-1 2-1 2 0 2 0 2-1 2-1 2-1 1 0 1 0 2-1 2 0 2 0 2-1 2-1 2 0 2 0 2 0 2-1 2 0 2 0 2-1 2 0 1-1 1-1 2-1 2-1 2-1 2-1 1-1 1-1 2-1 2-1 2 0 2 0 2 0 2 0 2 0 2 0 2-1 2-1 2 0 1-1 1-2 1-2 1 0 2-1 2-1 2 0 2 0 2 2 2 0 2-1 1-1 1-1 1-1 1 0 2-1 2-1zM120 146l-2 2 2 1 2 0 1-1-1-1-1-1zM136 144l-2 1-1 1-1 1-2 1-2 2 2 1 2-1 2-2 1 0 1-1 2-1 0-2zM325 138l1-1 2 0 2 1 2 2 1 2 0 2 0 2 0 2-1 2 0 1 0 1-1 2-1 2-1 2-1 1-1 1-1 1-2 1-2 2-1 2-1 1-1 1-1 1-2 1-2 1-2 1-2 1-2 0-2 0-2 1-1 2-1 1-1 1-1 1-2 1-2 1-2 1-2 1-2 0-2 1-2 1-2 0-2 0-2 1-2 0-2 1-2 1-2 0-1 0-1 0-2 1-2 0-2 1-1 0-1 0-2 1-2 1-1 0-1 0-2 1-2 0-2 1-2 0-2 0-2 0-2 0-2 1-2 0-2-1-1 0 0-2 1-1 1-1 1-1 2-1 2-1 2 0 2-1 1 0 1-1 2-1 2-1 2 0 2 0 2 0 2-1 1 0 1 0 2-1 1-1 1-1 2 0 2-1 1 0 1 0 2-1 2-1 2-1 2-1 2-1 2 0 2-1 1 0 1 0 2-1 2 0 2-1 2-1 1-1 1 0 2-2 2-2 2-1 2-1 1 0 1-2 1-2 1-1 0-1 1-2 1-1 0-1 2-2 2-2 2-2 2-2 2-2 1-2 1-1zM326 141l-1 1-1 1-2 1-2 1-1 1-1 1-1 1-1 1-1 1-1 1-1 1-1 2-1 2 0 2-1 2-1 2-1 2-2 1-2 1 0 1-2 1-2 0-2 1-1 1-1 1-2 1-2 0-2 1-2 0-2 0-2 1-1 0-1 0-2 1-2 1-1 0-1 1-2 1-1 0-1 1-2 0-2 1-1 0-1 0-2 1-1 1-1 0-2 1-2 1-2 0-1 0-1 0-2 0-2 1-1 1-1 0-2 1-2 1-2 0-2 2-1 0 1 2 2 1 2 0 2 0 2 0 2 0 2-1 2 0 2-1 2 0 2-1 1 0 1 0 2-1 2 0 2-1 2 0 2-1 2 0 2-1 2-1 2 0 2 0 2-1 1 0 1 0 2-1 2-1 1 0 1 0 2-1 2-1 2-1 1-1 1 0 2-2 0-1 0-1 1-2 1-2 2 1 2 0 2 0 2-1 1 0 1 0 2-1 2-1 2-2 1-2 1-1 1-1 1-1 1-1 1-1 1-1 1-1 1-1 1-2 0-1 0-1 1-2 1-2 0-1 0-1 0-2-1-2-1-1-2-1zM0 140l0-1 2 1-2 2 0 1 0-1zM174 152l2-1 2-1 2 0 2 2 1 2 1 2-2 1-2 0-2-1-1 0-1 0-2-1-1-1zM187 154l1 0 1 0 1 1 0 1-2 2-1 0-1-1-2-1 2-1zM6 160l2 0 1 0 1 1 1 1 1 1 1 1-1 0-2 0-2-1-2-1-1 0zM156 164l2-1 2 1 1 0 1 0 2 0 1 0 1 0 1 0 1 0 2 1 1 1-1 1-1 1-1 0-2 0-2 0-2 1-2 1-2 1-2 1-2 1-1 1-1 0-2 1-2 0-2 0-2 0-2 1-1 0-1 0-2 0-2 1-2 0-2 1-1 0-1 0-2 1-2 1-1 0-1 0-2 1-2 0-2-1-2 0-2 0-2 1-2 0-2 0-2 0-2 0-2 1-1 0-1 0-2 0-2 1-2 0-2 0-2 0-2 0-2-1-1 0 1 0 2-1 1-1 1 0 2 0 2-1 2 0 2 0 2 0 2-1 2 0 2 0 2-1 2-1 1 0 1 0 2-1 2 0 2-1 2-1 2-1 2-1 2 0 2-1 2 0 2 0 2 0 1 0 1 0 2-2 2-1 1-1 1 0 2-1 2 0 2 0 2 1 1 0 1 0 2 0zM140 168l-2 1-1 1-1 1-2 0-2 0-2 0-2 0-2 1-1 0-1 0-2 1-2 1-2 1-2 1-1 0-1 1-2 0-2 0-2 1-1 0 1 2 2 0 2-1 2 0 2 0 2 0 2 0 2 0 2 0 2 0 2-1 2 0 2-1 2-1 2 0 2-1 2 0 2 0 2-1 2 0 2 0 2 0 1 0 1-1 2-1 0-1 2-1 1 0 1-1 1-1-1-1-2 0-2 1-2 0-2-1-2 0-2-1-2 0-2 1zM351 164l1-1 2-1 2 1 2 1 0 2 0 1 0 1 2 1 1 1 1 1 1 1 1 1 1 1 1 0 2 2 0 1 1 1-1 2 0 1 0 1-2 1-1 1-1 1-2 0-2 1-1 0-1 0-2 2-2 2-1 2-1 1-1 1-1 1-2 1-1 0-1 1-2 1-2 1-2 0-2 1-2 1-2 1-2 1-1 1-1 0-2 1-2 0-2 0-2 0-2 1-2 0-2 0-2 0-1-2 1 0 1-2 1 0 2-1 1-1 1-1 1-1 1-2 2 1 1-1-1-1-2 1-1 0-1 0-2 1-2 0-2 0-2 1-2 0-2 0-2 0-2 0-2 1-2 0-2 0-2 0-2-1-1 0 0-2 1 0 2-1 2 0 2-1 1 0 1-1 2 0 2-1 1 0 1 0 2-1 2 0 2 0 2-1 1 0 1 0 2-1 2-1 2 0 1 0 1 0 2-1 2-1 1 0 1 0 2-1 2 0 1-1 1 0 2-2 2-2 2-2 2-2 2-2 0-1 0-1 1-2 1-2 1-2zM354 165l-1 1 0 2-1 0-1 2-1 2-1 2-1 2-2 2-2 1-1 1-1 1-1 1-1 1-1 1-1 1-2 1-2 0-2 0-2 1-2 1-1 0-1 1-2 0-2 0-2 0-1 1-1 0-2 1-2 0-2 0-2 1-1 0-1 0-2 1-2 1-1 0-1 1-2 1-2 0 2 1 2 0 2 0 2 0 2 0 2 0 2 0 2 0 2 0 2-1 1 0 1 0 2-1 2 0 1 1-1 1-2 0-1 1-1 2-2 2-2 0 2 1 2 0 2 0 2 0 2 0 2 0 2-1 2-1 2-1 1 0 1 0 2-1 2 0 2-1 2-1 1-1 1 0 2-1 2-1 2-2 1-2 1-2 2-2 1 0 1-1 2 0 2-1 2 0 2-1 1-1 0-2 0-2-1-2-2-2-2-1-1-1-1-1-2-1-1 0-1-1-2-1 0-2zM221 166l1-2 2 1 2 1-2 2-2 1-1 1 0 2 1 0 2 1 1-1 1 0 2 0-1 2-1 0-2 1-1 1-1 1-2 0-2 0-1 1-1 1-2 1-2 1-2 1-1 0-1 0-2 1-2 0-2 1-2 1-2 0-2 0-2 1-2 1-2 0-2 0-2 0-2 1-2 0-2 0-2 0-1 0-1 0-2 0-2 0-2 1-2 1-1-2 1-1 1-1 1 0 2-2 1 0 1-1 2-1 2-1 2-1 1 0 1-1 2 0 2 0 2-1 1 0 1 0 2-1 2-1 1 0 1 0 2-1 2 0 2-1 2-1 2-1 1 0 1 0 2-1 2-1 2 0 2 0 2-1 2-1 0-1zM204 174l-2 1-2 1-2 0-2 1-2 0-2 1-1 0-1 0-2 1-2 0-2 1-1 0-1 1-2 1 0 2 0 2 2 0 2 1 2-1 2 0 2 0 1 0 1 0 2-1 2 0 2-1 1 0 1 0 2-1 2-1 1 0 1-1 1-1 1 0 2 0 2-1 2-1 0-2 0-2-2-1-2 0-2 0-2 0zM408 168l1 0 1 1 0 1-2 1-1-1zM396 172l2-1 1 1 1 0 1 2 0 2-1 2-1 0-1 0-2 1-1-1 0-2 0-2zM446 186l1 0 0 2-1 1-2-1zM475 194l1 0 1 0 0 2-1 1-1 1-1 0 0-2 0-2zM41 196l1 0 2-1 2 0 2 1-2 0-2 1-2-1zM453 196l1-1 2-1 1 2-1 1-2 1-2 0zM381 198l1-1 1 1 1 2-2 1-2-1zM270 200l2 0 2 0 2 0 2-1 2 0 1 1-1 1-2 0-2 0-2 0-2 0zM33 204l1 0 2 0 2 0 1 0-1 0-2 2-2 0-2 1-2-1-1 0 1-1 2-1zM483 206l1-1 2 0 1 1-1 1-2 1zM382 210l2 1 1 1 1 1 1 1-1 2 0 1 0 1-1 2 1 1 2 0 2 1 1 0-1 1-1 1-1 2 2 2-2 2 0 1-2 0-2 0-2 0-2 0 0-1 0-2 2-2-2-2-2 0-2 0-2-1-2-1 0-1 0-1-2-1-2-1-2 0-2 0-2 1-2 0-2 0-2 0-2 0-2 0-2-1 2-1 2-1 2-1 2 0 2 0 2-1 2-1 2-1 2 0 2 1 2 0 2 0 2-1 1 0 1 0 2-1zM242 212l2 0 2-1 2 0 2 0 1 1-1 0-2 1-2 0-2-1zM299 212l1 0 1 0 1 1 0 1 0 1 0 1-2 0-2 0-2 0-2 0-1 0 1-1 2 0 1-1 1-1zM287 214l1-1 2 1 1 0-1 1-2 1zM400 216l2-1 2 0 2 0 2 0 0 1-2 1-2 1-1 0-1 0-2 0-1 0zM52 224l2-1 2 0 2-1 2 0 1 2-1 0-2 1-2 1-2 0zM12 228l2-1 2 0 2 0 2 0 2 0 0 1 0 1-2 1-2 0-2 0-2 1-2-1zM307 228l1 0 2 0 1 0-1 2-2 1-2 0-2-1-1 0 1 0 2-1zM400 232l1 2-1 1-2 1-2 0-2 1-2 0-1 1-1 0-2 1-2 0-2 0-1-1-1-2 0-2 2-1 2-1 2 0 2 0 2 1 2 0 2 0 2-1zM326 234l2-1 2 0 2 1 1 0 0 2-1 1-1 1-1 0-2 2-1 0-1 1-2 0-2 0-2-1 0-2 1-2 1-1 2 0zM370 234l2-2 2 2 2 0 2 0 1 0-1 1-2-1-2 0-2 0zM381 256l1 0 2-1 2 0 2 1 1 0 0 2-1 1-2 0-2-1-2 0z"/>
<path fill="#3aa4a8" fill-rule="evenodd" d="M15 2l1-1 2-1 2 0 2 0 2 0 2 0 1 0-1 1-2 0-1 1-1 0-2 2-2 2-2 1-2 1-2 2-2 2-1 0-1 0-2 1-1 1-1 1-1 1-1 1-2 1 0-2 0-2 0-2 2 0 2-1 1-1 1-2 0-2 0-2 2-1 2 1 2-1 2-1zM47 0l1 0 1 2 1 2 2 2 0 2 0 2 2 2 2-1 0-1 2-1 0-1 2-2-2-2-2-2-2-2 2 0 1 0 1 2 2 1 2 0 2 0 2 0 1 1-1 1-2 1-2 1-1 1-1 0-1 2-1 1-1 1-1 2 0 2 0 2 0 2 1 2 1 2 2 0 2-1 2 0 0 1-2 1-1 1-1 1-1 1-1 1-1 1-1 1-1 1-1 2-2 2 0 2-2 0-2-1-2 1-2 0-1 0-1 0-2 2-2 0-2 1-2 0-2 0-2 0-2 0-2 0-2-1 0-1-1-1 0-2 1-2 2-2 2-2 2-1 1-1 1-1 1-1 1-1 2 0 1-1 1-2-2-2-1-2-1-2 1-2 1-1 2-1 2-1 2-1 0-2 2-1 1 1-1 2-1 0 0 2 1 0 2-1 2 0 2-1 1-2-1-2-1-2-1-1 0-1zM46 13l-2 1-1 2-1 2-2 2 0 1 0 1-1 2-1 2-1 0-1 1-2 1-2 2-2 1-1 1-1 1-1 1-1 2 0 1 0 1 2 1 2 0 2 0 2 1 2-1 1-1 1-1 1-1 1-2 0-1 1-1 1-2 1 0 1-1 2 0 1 1 0 2 0 2 1 1 2-1 1 0 1-1 2-1 1-2 1-1 0-1 0-2-1-2 0-2-1-2 0-1-2 0-2 1-1-2 0-2-1-2zM70 0l2 0 0 1 2 0 2 0 2-1 2 0 2 0 1 0-1 1-2 1-2-1-2 1-2 1-2 0-2-1zM112 2l2-2 1 0 0 2-1 2-1 0-1 1-1 1-1 1-2 0-2 0-1 1-1 0-2 2 0 1-1 1-1 2-1 2-1 2 1 2-1 1-2 1-2 0-2 2 2 2 2 2 2 2 1 0 1 1 2 0 2 0 2 0 1-1 1-1 1-1 1-2 2-1 2-1 1-2 0-2-1-2 0-1 0-1 0-2 2-2 1 0 1 0 2 1 2 0 1-1 1-1 1-1 1-1 1-1 1-1 2-1 2-1 1-1 1-1 2-1 1-2 1 0 1 0 0 2 0 2-1 1-2 0-1 1-1 2 2 1 2-1 1 0 1-1 0 1 0 2-2 1-2 1-2 1-1 1-1 0-1 0 0-2 1-2-2-1-2 1-2 2-2 2-1 2 0 2-1 2-1 2-1 1-1 1-1 1-2 0-2 1-1 0-1 0-1 2-1 1-1 1-1 2-2 1-2 0-1 1-1 1-2 1-2-2-2-1-2 0-2 0-1-1 0-2 1-2-1-2-1-1-2-1-2-2-1 0 0-2 1-1 2 0 2 0 2 0 2 0 1-1 1-2 2-2 1-2 1-1 1-1 1-2 2-1 2-1 2-1 1-1 1-1zM116 14l-1 2 1 2 2 2 1-2 0-2-1-1zM156 2l2-2 2 0 2 0 2 0 2 0 2 0 2 0 2 0 2 0 2 0 1 2 1 1 0 1 1 2 0 2-1 2 0 1 0 1-2 2-2 1-1 1-1 0-2 2 0 1-1 1-1 2 0 1-1 1-1 2 0 1 0 1 2 2-1 2-1 1-2 1-2 2 0 1-1 1-1 2-2 1-1 1-1 1-2 1-2 1-2 1-2 0-2 1-2 1-1 2-1 2-1 2-1 2-1 2-1 1-2 1-2 0 0-2-1-2-1-1-2 0-2 0-2 0-2 1-2 2-2 1-2 1 0-2 1-2 1-2 1-2 1-1 1-1 1 0 2-1 2-1 1-2 1-1 1-1 1-1 2-1 1-2 1-1 1-1 1-1 2-1 2-1 1-1 1 0 2-2 0-1 1-1 1-2 1-2 1-1 1-1 0-2 1-2 0-1 1-1 1-1 2-1 2-1 2-1 2-2 1-2 1-2 2-2 1-2-1-2-2 0-2-1-2-1 0 2-2 2-2 1-1-1zM170 2l-1 2-1 2 0 2-2 2 0 2 1 2-1 0-2 0-2 1-1 1-1 1-2 1-1 0-1 0-2 2-1 2 0 2-1 1-1 1-1 1-1 1-1 2-1 2-1 1-1 1-1 1-2 1-2 1-1 1-1 1-1 1 0 2-1 2-2 0-2 1-1 1-1 1-1 1-1 1-1 1-1 1-2 1 2 1 2 0 2 0 2 0 2 0 2 0 1-1 1 0 2-1 0-1 1-2 1-1 1-1 1 0 2-1 2 0 2-1 1 0 1 0 2-1 1-1 1-1 2-1 2-2 1-2 1-2 2-1 1-1 0-2-1-2 0-1 0-1 0-1 1-1 1-1 1-1 1-2 0-2 0-2 2-1 2 0 2-1 2-1 1-1 0-2 1-2-1-2-1-2-1-2-1-1-2 0zM255 0l1 0 2 0 2 0 0 2 0 2-1 2-1 2 0 1-2 1-2-1 0-1-1-2 1-2 0-1 1-1zM226 8l0-1 2 0 2 1 1 2 1 2-2 0-2-1-2-1zM206 14l2 1 2 1 1 0 1 0 2 2-1 2-1 1-1 1-1 2 1 2 1 1 1 1 1 2-1 2-1 2-1 2-1 1-1 1 0 2 0 2-1 2 0 2-1 2-1 1 0 1-2 1-2 1-2 1-2 1-2 2 0 1-1 1-1 2-2 1-1 1-1 0-2 2 0 2-2 1-2-1-2-2-2-2-2-1-1 1-1 1-1 1-1 2-1 2 0 2-1 1-1 1-1 1 0 1 2 1 2 1 1 2 0 2 0 2 0 2-1 1-1 1-1 1-2 0-1 1-1 2-1 2-1 1-2-1-2-1-2 0-1 1-1 2 0 2-2 0-2-1-2 0-1-1-1-1 0-1-1-2 0-2 0-2 1-1 2-1 1-2 1-2 1-2 1-1 1-1 1-1 1-1 1-1 1-1 1-2 0-1 1-1 1-2 0-2 0-1 0-1 0-1 0-1 2-1 2 1 2 2 2 0 2-1 2 0 1-1 1-1 1-1 1-1 0-1 1-2 1-2 0-2 1-2 1-1 0-1 1-2 1-1 0-1 2-2 2-2 1-2 1-2 1-2 0-2 1-1 1-1 1-2 1 0 1-1 1-1 1-2 0-2 0-2 2-2 2-2zM170 79l-1 1 1 1 2 0 1-1-1-1zM160 75l-1 1-1 1 0 1-1 2-1 1-1 1-1 1 0 1-2 2-1 0-1 2 0 2 1 2 1 1 2 1 2 0 1-2 1-2 2-1 2 0 1 1 1 0 1 0 1-2 0-2 0-1 0-1-1-2-1-1-2 0-1-1-1-2 1-2zM166 68l-2 2-1 2 1 1 2 0 1-1 1-2 0-2zM204 18l-1 0-1 0-1 2 0 2-1 2-2 2-2 2-2 2 0 1-1 1 0 2-1 2-1 2-1 2-2 2 0 2 0 1 2 0 2 0 1 1-1 2-2 2-2 0-1 0-1 0-1 2-1 1-1 1 0 2-1 2 1 2 1 2 2 1 2-1 2-1 2-1 2-2 1-2 0-2 0-2 1-1 2 1 2-1 2 0 1-1 1-2 1-2 1 0 1-2 1-2 0-2 0-2 1-2 1-1 1-1 1-2 0-2-1-2-1-1-1-1 0-2-1-2-1-2-1-1-1-1zM233 16l1-1 2 0 2-1 1 2 1 0 2 2 0 1 2 1 2 0 2 0 0 1-2 0-2-1-2 1-2 0-2 0-2-1-2-2zM16 18l2-1 2 0 2 0 1 1 1 1 1 1-1 2-2 1-2 0-2 0 0-1-1-2zM80 24l1 0 1 1 1 1 0 2-1 1-2 1-2-1 0-1 0-2zM297 26l1-1 2 1 0 1-2 1zM313 28l1-1 2 1 0 1 0 1-2 0-1 0zM0 38l0-1 1 1 1 1 1 1 0 2 1 2 0 1 0 1 1 2 1 2-1 2-1 2-1 2-1 1-1 1 1 2 1 2 0 2 1 1 1 1 0 2-1 2 0 1-1 1-1 1-2 1 0 2 0-2 0-2 0-2 0-2 0-2 0-2 0-2 0-2 0-2 0-2 2-2 1-2 1-2-1-2-1-2-1-2 0-2-1-1 0-1zM239 38l1-1 2 0 1 1 0 2-1 1-2 0-1-1zM88 42l2-1 0 1 1 2 1 1 1 1 1 2-1 2-1 0-2 2-2 0-2-1-1 1-1 0-2 1-2 1 0 1 0 1-1 2-1 2-2 1-1-1-1-2-2-2-2 1-1 1-1 0-2 0-1-2 1-1 0-1 2-1 1-1 1-1 2-1 2 1 2 0 2-1 2-2 2-1 1-1 1-1 1-1 1-1zM249 46l1 0 2-1 2 0 0 1 1 2 1 2-2 2-2-1-2-1-2 0-1 0-1-1-1-1 1 0 2-2zM232 48l2 0 2 0 1 0 1-1 2 1 1 0 1 1 0 1 1 2 0 2 0 2 0 2 0 2 0 2 0 2-1 2-2 2-2 2-2 2-2 1-1 1-1 1-2 1-2 1-2 0 0 1 2 2 2 2 0 1 0 1 0 1 0 1-1 2-1 1-2 1-1 0-1 0-2 1-1 1-1 2 0 1-1 1-1 1-1 1-1 1-2 1-1 2-1 1-1 1-1 2-1 2-1 1-1 1-1 1-1 1-1 2-1 2-1 1-2 0-2 1-2 1-2 1-2 0-2 2-1 0-1 1-2 0-2 0-2 1-1 2-1 2-2 1-2 1-2 1-2 1-1 0-1 1-2 0-2 0-2-1-1 2 0 2-1 2 0 1-2 1-2 0-2 0-2 0-2-1-2-1-2 0-2 2-2 2-1 2 0 2-1 2-2 1-2 1-1 0-1 1-1 1-1 1-2 1-2 1-2 0-2 0-2 1-2 1-2 1-2 0-1 0-1 0-2 1-2 1-2 0-2 1-2 0-1 1-1 0-2 1-2 1-1 0-1 1-2 1-2 1-2 0-2 1-2 0-1 0-1 0-2 0-2 1-2 1-2 1-2 0-2 1-2 1-2 0-2 0-2 0-2 1-1 0-1 1-2 0-1 1-1 0-2 1-2 0-2 1-1 0-1 0-2 1-2 0-2 1-1 0-1 0-2 1-2 0-2 1-1 0-1 1-2 0-2 1-2 0-2 1-2 0-2 0-2 0-2 0-2 1-1 0-1 1-2 0-2 1-2 1-2 0-2 1-2 1-2 0 0-1 0-1 2 0 2 0 2-1 2-1 2 0 2-1 1 0 1-1 2 0 2-1 2 0 2 0 2 0 2 0 2-1 2 0 2 0 1-1 1 0 2-1 2 0 2-1 2 0 2-1 2 0 2-1 1 0 1 0 2-1 2 0 2-1 2 0 2-1 1-1 1 0 2-1 2 0 2 0 2 0 2-1 1 0 1-1 2-1 1 0 1 0 2-1 2-1 2-1 2 0 2 0 2 0 2 0 2-1 2-1 2-1 2-2 1 0 1-1 2-1 1 0 1-1 2 0 2 0 2 0 2-1 2-2-1-2-1-2 2-1 2 1 2 2 2 0 2-2 2 0 2 1 2 1 2-1 1-1 1-1 1-1 1-1 2-1 1 0 1-1 1-1 0-2 0-2 1-1 1-1 1 0 1-2-1-2-2 0-2 1-1 1-1 2-2 1-2 1-1 0-1 1-1 1-1 1-2 1-2 0-2-2-2 0-2 0-2 1-2 1-1 0-1 2-1 2-1 1-2 0-2 1-2 1-2 0-2 0-2 0-2 0-2 0-2 0-2 1-2 1-1 1-1 1-2 1-2 1-2 1-2 1-1 1-1 1-2 0-2 1-2 0-2 0-2 1-2 0-2 0-2 0-2 1-2 1-2 0-2 0-2 1-1 0-1 0-2 1-2 1-2 1-2 0-2 0-2 1-2 1-2 1-1 0-1 1-2 0-2 0-2 1-2 0-2 1-2 1-2 1-2 0-1 1-1 0-2 1-2 0-2 1-2 0-2 0-2 0-2 1 0-1 0-2 0-1 2 1 1 0 1 1 2 0 2 0 2 0 2-1 2-1 2-1 2 0 2-2 1 0 1 0 2-1 2 0 2 0 2 0 1-1 1 0 2-1 2-1 1 0 1-1 2 0 2-1 2 0 2-1 1-1 1-1 2 0 2-1 2 0 2 0 1 0 1 0 2-1 2-1 2 0 2 0 2-1 2 0 2 0 2-1 2 0 2 0 2-1 1-1 1-1 2-1 2-1 1-1 1-1 1-1 1-1 1-1 1-2 2 1 2 0 2 0 2 0 2 0 2 0 2 0 2-1 2-1 1-1 1-1 1-1 1-1 2-1 2-1 2 0 2 0 2 0 2 0 2 0 1-1 0-2 0-2 0-2 1-1 2 0 2 1 1 0 1 0 2 0 2-1 2 0 2 0 2 0 2 1 2-2 0-1 1-1 1-2 2-2 0-1 1-1 1-1 1-1 1-1 1-1 1-1 2 0 2 1 2 0 1-2 1-1 1-1 0-2 1-1 0-1 2-2 1 0 1-1 2 0 2-1 1 0 1 0 2 0 2-2 0-1 0-1 1-2 1-1 1-1 1-2 1-2 1 0 2-1 2 0 2 1 2 1 2 0 2 1 1 0 0-2 1-1 0-1 2-2 1-2 0-2 0-2 0-2 1-2 2-1 2 0 1-1 1-1 0-1 1-2 1-2 0-1 2-1 2-2-1-2 0-2 1-1 0-1 2-2 2-2 0-1 0-1 1-2 1-2 1-2 1-2 1-2 1-1zM232 50l-2 1-1 1-1 2-1 2-1 2-1 2-1 2-1 2-1 1-1 1-1 2 1 2 1 2 2 2 2 0 2 0 2 0 1 0 1-1 1-1 1 0 2-2 2-1 0-1 2-2 2-2 0-2 0-2-1-2 1-2-1-2-1-2-2-1-2 0-2-1zM160 124l-2 1-1 1-1 1-1 1 0 2-1 1 0 1-2 2 0 2 2 1 2 1 2 0 2-1 1-1-1-2-1 0-1-1-2-1-1 0 1 0 2-1 2-1 2-2 2-2-1-2-1 0zM218 77l-1 1-1 2 0 2 1 2-1 2-2-1-2 0-2 1-1 0 0 2 0 2 0 2-1 2-2 2 0 1 0 1 0 2 0 2-2 1-2 1-2-2-2-2-2-1-2 0-2 0-2 1-2 2-2 2 0 1-1 1 0 2 0 2-1 1-2 1-2 0-2 0-1 0-1 1-2 1-2 2-2 2-1 2-1 2 1 2 0 2-1 2-1 2 1 1 2 0 2-1 1 0 1 0 2-2 1 0 1 0 2-2 1-2 1-2 2-1 2 0 2 0 2-1 2-1 2-1 1 0 1 0 2-1 2-1 1 0 1-1 1-1 1-2 2-2 0-1 1-1 1-1 0-1 1-2 1-1 0-1 2-2 2-2 1 0 1-1 1-1 1-1 1-1 1-2 0-1 1-1 1-1 2 0 2-1 2-1 0-1 0-2-2-1-1-1-1 0-1-2-1-1-1-1-1-1zM29 52l1-2 2 1 1 1 0 2 1 2 1 0-1 0-1 0-1 0-2 0-2-2zM45 58l1 0 0 2 1 2 1 1 1 1 1 1 2 1 2 0 0-2-1-2 1-1 1-1 1 0 2 0 2 1 1 1 0 2 1 0 2 1 2-1 2 1 2 1 0 2-1 2 0 2-1 2 0 1-2 0-2 0-2 0-2 0-1 1-1 1-2 1-1 0-1 1-2 0-2 0-2 0-2 0-2-1 0-1 0-1-2-2-2-1-1-1 0-2 1-2 2-1 1-1-1-1-2-1-2-2 1-2 1-1 2 0 2-1zM66 66l-2 1-2 0-2 0-1 1-1 0-2 0-2 0-2 0-1 0-1 0-2-2-2 1-1 1-1 2-2 0 2 2 1 2 1 2 2 1 2 0 2 0 2-1 2-1 2-1 1 0 1-2 0-1 2-1 2 2 2 0 1-2 1-2zM274 58l0-1 2 1 1 2-1 2-2 1-1-1-1-2zM9 64l1-1 2 0 0 1 0 1-1 1-1 0-1 0zM119 66l1 0 2-1 2 0 2 0 0 1-2 2-1 2-1 1-1 1-1 0-2 1-2 1-1 0-1 0-2 1-1 1-1 0-2 1-1 1-1 0-1 2-1 2 2 2 2 2 1 0-1 2-2 2-1 0-1 1-1 1-1 1-2 1-1 0-1 0-2 1-1 1-1 2-2 0-1 0-1 0-2 0-2 0-2 0-1 0-1 1-1 1-1 1-1 1-1 1-2 0-2 1-2 0-2 0-2-1-2-1-2-1-1-1 1-1 1-1 1 0 2-1 2 0 2-1 2-2 2-1 2-1 1 0 1-1 1-1 1 0 2-2 2-1 2-1 2-1 1-1 1-1 1-1 1-1 2-1 2-1 2-1 2 0 2-1 1-1 1-2 0-1 1-1 1-1 2 0 2 0 2 0 0-1 1-2 1-1 2-1zM76 95l-2 1-2 2-2 1-2 1 2 2 2 0 1 0 1 0 2-1 1-1 1-1 0-1 2-2-2-1zM100 80l-2 0-2 1-1 1-1 1-1 1-1 1-2 1-2 2-2 1-2 1-1 0-1 1-1 1 0 2 1 1 2 0 2 0 2 0 2 0 2 1 1-2 0-2 0-2 1-2 2-1 2 0 1 1-1 1-1 1 0 2 1 0 2 0 2-1 1-1 1-1 2-1 0-2-2-2-1 0 0-2-1-2zM118 68l-1 0-1 2 2 1 2 0 1-1 0-2-1 0zM128 70l2-1 1 1-1 1-2 1 0-1zM335 70l1-1 1 1 1 1 0 1 0 2-2 1-1-1-1-2zM179 72l1-1 2 0 1 1 1 1 1 1-1 1-2 0-2-1zM31 76l1-1 2 0 0 1-2 1-1 1 0 2 1 2 2 2-2 2-1 2 0 2-1 1-1 1-1 1-1 1-1 1-1 1-1 2-2 2-1 0-1 0-2 0-2 1-2 0-1 1-1 1-2 0-2-1-2-1-2-1 0-2 1-2 1-2 1 0 1-1 0-1 2-2 2-1 2-1 2 2 2 1 2-1 1-2 1-2 0-2 2 1 0-1 0-2 2-2 2-2 1 0 1-1zM12 92l-1 2 0 2-1 2 2 1 2 0 2 0 2 0 2-1 2-1 0-1 0-2-1 0-1 0-2-1-2 0-1-1-1 0zM26 88l-1 0-1 0-1 2 0 2 1 2 2-1 1-1 1-2 0-1-1-1zM0 78l0-2 0 2 0 2 1 2 0 2 1 1 1 1-1 1-2 1 0-2 0-2 0-2 0-2zM15 78l1 0 1 2-1 1-1 1-1 1-2 0-1-1 1-2 2-2zM272 78l2-1 2 0 2 0 1 1 0 2-1 1-1 1-1 1-2 0-2-1-2 2 0 2 1 2 0 2 1 2 0 1 0 1 0 1 0 1-2 2-1 2-1 2 0 1 0 1-1 2-1 1-2 1-2 0-2-1-2 1-2 0-2 2-1 2-1 2-1 2 0 2-1 1-1 1-1 0-1 2-1 2 0 1-2 0-2 0-2 1-2 2-1 2 0 2 0 2 0 2-1 2-2 2-2 1-2-1-2 0-2 0-1 2-1 1-1 1-1 1-1 1-1 0-2 2-2 1-1 1-1 1-2 1-2 2-2 2-1 0-1 1-2 1-2 0-2-1-2-1-2 0-2 0-1 2-1 1-1 1-1 2-1 2-1 0-2 1-2 0-2-1-2-2-2 0-2 1-1 1-1 0-1 2-1 2-2 1-2 1-2 0-2 0-1 0-1 0-2 1-1 1-1 0-2 1-2 1-2 1-2 1-2-1-2 0-2 1-1 0-1 0-2 1-2 0-2 1-2 0-2 1-2 0-2 1-1 0-1 1-2 1-2 0-2 0-2 0-2-1-2 0-2 1-2 0-2 0-1 0-1 0-2 1-2 0-2 0-2 1-2 0-2 0-2 0-1 0-1 0-2 0-2 0-2 0-2 1-2 0-2 0-2 0-1 1-1 1-2 1-1 0-1 1-2-1-1 0-1-1-1-1 1 0 2-1 2-1 2-1 2-1 2 1 2-1 2-1 2 0 2-1 1 0 1 0 2 0 2-1 2 0 2 0 2 0 2-1 2 0 2 0 2-1 2 0 2-1 1 0 1 0 2-1 2 0 2-1 1 0 1-1 2-1 2-1 2-1 1 0 1 0 2-1 2 0 2 0 2 0 2-1 1 0 1-1 1-1 1-1 2-1 2 0 2 0 2 0 2 0 2 0 2-2 2-1 2-1 2 1 2-1 2 1 2 1 2 0 2 1 2 0 1-1 1 0 2-1 1-1 0-2-1 0-2-1-2-1-2-2 1-2 1-1 2-1 2 0 2-1 2 0 2 0 2-1 1 0 1-1 1 1 0 2 1 1 2 1 2 1 1-1 1-1 1-1 1-1 2 0 2 0 1-1 1-2 1-2 0-2 0-2 1-1 2 0 1 1 1 0 2 0 1-2-1-2-1 0 0-2 1-1 1-1 1-1 1-1 1-1 2-1 1 0 1-1 2-1 2-1 2-1 2-1 1-1 1 0 2-1 1-1 1-1 0-1 2-2 2-2 1 0 1-1 1-1 1-1 2-1 2-2 2-1 2-1 1 0-1-2 0-1-1-1 0-2 1-2 2-2 0-1 1-1 1-1 1-1 1-2 0-1 1-1 1-2 2-2 1 0 1-2 1 0 1-1 2-1 2-1 2 0 2 0 2 0zM158 163l-2 1-2 2-2 0-1 0-1 0-2-1-2 0-2 0-2 1-1 0-1 1-2 1-2 2-1 0-1 0-2 0-2 0-2 0-2 1-2 0-2 1-2 1-2 1-2 1-2 0-2 1-1 0-1 0-2 1-2 1-2 0-2 0-2 1-2 0-2 0-2 0-2 1-2 0-1 0-1 1-2 1-1 0 1 0 2 1 2 0 2 0 2 0 2 0 2-1 2 0 1 0 1 0 2-1 2 0 2 0 2 0 2 0 2-1 2 0 2 0 2 1 2 0 2-1 1 0 1 0 2-1 2-1 1 0 1 0 2-1 2 0 2-1 2 0 1 0 1 0 2-1 2 0 2 0 2 0 2-1 1 0 1-1 2-1 2-1 2-1 2-1 2-1 2 0 2 0 1 0 1-1 1-1-1-1-2-1-1 0-1 0-1 0-1 0-2 0-1 0-1 0zM174 152l-1 2 1 1 2 1 1 0 1 0 2 1 2 0 2-1-1-2-1-2-2-2-2 0-2 1zM188 154l-1 0-1 1-2 1 2 1 1 1 1 0 2-2 0-1-1-1zM228 123l-1 1-1 1-2 0-1 1-1 1-2 1-1 0-1 1-2 1-1 0-1 1-1 1-1 1-1 1 1 1 1 1 0 2 0 2-1 2-2 0-2 0-2 0-1 2-1 2-1 2-1 1-1 1 0 2-1 2 1 2 1 0 2 1 2-1 2-1 1-1 1-1 1-1 1-1 2-1 2-2 2-2 1 0 1-2 1 0 1-2 2-2 0-1 1-1 1-1 1-1 1 0 1 0 1 1 1-1 0-2 0-2 1-2 0-2-2 1-2 0-2 0-1-1 1-1 1-1 1-1 1-1zM234 121l-2 1 0 2 2 1 2-1 1-2-1 0zM248 108l-2 0-2 1-1 1-1 1-1 1-1 1-2 1-2 2-1 2 1 1 2 0 1-1 1 0 2-1 2 0 2-1 2-2 2-2 1-2-1-2zM266 81l-2 1-2 2-1 0-1 1-2 1-2 2-1 2-1 2-1 2-1 1-1 1-1 1 0 1-1 2 0 2 1 1 0 1 2 2 2 1 2 0 2-1 1 0 1 0 1 0 1 0 2 0 2-1 0-1 1-2 1-2 0-1 0-1 2-2 1-2-1-2 0-1 0-1-1-2 0-2 0-2-1-2zM115 80l1-1 2-1 1 2-1 2-2 1-2 0 0-1 0-1zM62 82l2-1 2 0 2 1 0 1 0 1-2 1-2 0-2 0-1-1zM134 82l0-1 2 0 1 1-1 2 1 2 1 2 2-1 2-1 2 1 0 1 0 1-1 1-1 1-2 0-2-1 0-2-2 2-2 1-2 0-1-1-1-2-1-2 1-2 2-1zM117 90l1 0 2-1 2 0 2 1-2 1-1 1-1 1-2 1-2 0-2 0 0-2 2-1zM284 90l2-1 2-1 2 0 2 1 1 1 1 1 1 1 1 1 2 0 1 1 1 2-2 1-1 1-1 0-2 0-2-1-2 0-2-1-2 0-2 0-1-2 0-2zM286 91l-1 1 1 1 2 0 2 0 0-1-2-1zM303 90l1-1 2 0 2 1 1 2 0 2-1 2 0 1-2 0 0-1-1-2-1-1-1-1zM124 96l2-1 2-1 2 0 2 1 1 1 1 2 2 2 1 0 1 0 2 0 2-1 1-1 1-2 1 2 1 1 0 1 0 2-2 2-2 1-2 1 0 1-1 1 0 2-1 1-2 1-2-1-2 0-2 0-2-1 1-2 1-2 1-2 1-2-2-1-2-1-2 0-1 0-1-1 0-1 0-1zM128 96l-2 2 2 1 2-1zM136 101l-2 1 0 1 0 1 2 2 2 0 1-2 0-2-1 0zM372 96l2 0 0 2 0 2 1 2-1 2-2 2-2-2 1-2 1-2 1 0-1-2zM300 100l2-1 2 1 0 2-1 2-1 1-1 1-1 0-1-2 0-2zM0 102l2-1 2 1-1 2-1 2-2 1 0-1 0-2zM60 106l1 0 0 2-1 1-1-1zM382 106l1 0 1 0 1 2-1 2-2 0 0-2zM292 110l2 0 1 0 1 0 2 1 2 1 2 2 1 2 1 2-1 2-1 2 0 1 0 1-1 2-1 1 0 1-2 2-1 2-1 1-1 1-1 2-1 0-1 2-1 0-1 1-2 0-1 1-1 1-1 1-1 2-1 2-1 1-1 1 0 2-1 2-2 1-1 1-1 1-1 1-1 1-1 1-1 2-2 1-1 1-1 0-2 1-2 0-2 1-1 0-1 1-2 1-2 1-2 1-2-1-1-1 0-2-1-1-2 0-1 1-1 2 2 2-2 2-2-2-2 0-2-1-2 0-2 1-1 2-1 2 0 1-2 1-1 0-1 0-2 1-1 1-1 1-2 1-2 1-2 0-2 1-2 1-2 0-2 1-1 0-1 1-2 0-2 0-2 1-2 1-2 0-2 1-2 0-2 1-2 0-2 0-2 0-2 1-2 1-2 0-2 0-2 0-2 0-2 1-2 2 0 1-1 1-1 0-2 1-2 0-2-1-2 0 1-2 1-2 0-1 0-1 1-2 1-1 2-1 1 0 1 0 2-1 1-1 1-1 2 0 2-1 2-1 2 0 2-1 1 0 1 0 2-1 2 0 2-1 1 0 1 0 2-1 2 0 2-1 2-1 2-1 1 0 1-1 2 0 2-1 2-1 2 0 2-1 2-2 1-2 1-1 2-1 1 0 1 0 2 0 1 0 1-1 1-1 1-1 1-1 1-2 2-1 1-1 1-1 1-1 1-1 1-1 1 0 1 0 1 0 1 2 1 1 2 1 2 0 2-1 2-1 2-2 2-2 2-2 2-1 1-1 0-2 0-2 1-2 2-1 2-1 2-2 1 0 1 0 2-2 1-2 1-1 1-1 1-1 0-1 2-2 2-2 2-2 2-2 2-2 2-2 0-1 1-1 1-1zM292 112l-2 1-1 1-1 1-1 1-1 1-1 1-1 1-1 1-1 1-1 1-1 1-1 1-1 2-2 2 0 1-1 1-1 1-1 1-1 2-1 0-1 1-2 1-2 1-1 1-1 1-1 1 0 2-1 2-2 2-1 2-1 1 0 1-2 2 0 1-2 0-2 1-2 1-2 1-2 1-2-1-2-2-2-2-1 0-1 0-1 2-1 2 1 2 1 1 0 1 0 1-2-1-2 0-2 1-1 1-1 2 1 2 0 2 1 2 1-2 1-2 1-2 1-1 2 0 0 1 2 2 2 0 2-1 1-1 1-1 1-1 1-1 2 0 2 1 2 0 2 0 2 1 2 0 2-1 1 0 1 0 2 0 2-1 2-1 2-2 2-2 0-1 1-1 1-2 2-2 0-1 0-1 2-1 1-1 1-1 1-1 1-2 1-2 1-1 2-1 1 0 1-1 2 0 0-1 2-1 1-1 1-2 1-2 1-1 1-1 1-2 0-1 1-1 0-2 1-2 0-2-1-2-1-1 0-1-2-1-1-1-1 0-2-1zM222 164l-1 2-1 1 0 1-2 1-2 1-2 0-2 0-2 1-2 1-1 0-1 0-2 1-2 1-2 1-2 0-2 1-1 0-1 0-2 1-2 1-1 0-1 0-2 1-2 0-2 0-1 1-1 0-2 1-2 1-2 1-1 1-1 0-2 2-1 0-1 1-1 1 1 2 2-1 2-1 2 0 2 0 1 0 1 0 2 0 2 0 2 0 2-1 2 0 2 0 2 0 2-1 2-1 2 0 2 0 2-1 2-1 2 0 2-1 1 0 1 0 2-1 2-1 2-1 1-1 1-1 2 0 2 0 1-1 1-1 2-1 1 0 1-2-2 0-1 0-1 1-2-1-1 0 0-2 1-1 2-1 2-2-2-1zM37 112l1-1 2-1 1 2 0 2-1 1-2 1-2 0-1 0 0-2 1-1zM111 118l1 0 2 0 1 0 1 2 0 2 0 2-2 1-2 1-2 0-2-1-2-1 0-2 1-2 1 0 2-1zM112 119l-2 1-2 2 2 2 1 0 1 0 1 0 1-1 0-1 0-2zM85 120l1-1 2-1 2 1 0 1 0 2-1 2-1 1-1 1-1 1-2 1-2 1 0-1 0-1 1-1 0-2 1-2zM378 122l0-1 2 0 0 1 0 1-2 1zM15 124l1-1 2 0 2 0 2 0 2 1 0 2-1 2 1 2-2 1-2 1-2 1-1 1-1 1-2 0-2 1-2 0-2 0-1 2-1 2-2 1-1 1-1 1-1 1 0 2 1 1 2 1 0 1 0-1 2-1 2-1 2 0 2 0 2 1 2 1-1 2-1 2-1 2-1 1-1 1-1 2 2 2 2 1 2-1 2-1 2 0 1 1 1 0 2 1 2 1-1 2-1 1-2 1-2 0-2 1-2 0-2 0-2 0-2 0-2-1-2-1-2-1-1 0-1 0-2-1 0-1 0-1 1-1 1-1 1-1 1 0 2-1 1-1 0-2-1-2-2-2-2 1-1 1-1 1 0-1 0-2 0-2 0-2 0-2 0-1 0-1 2-2-2-1 0-1 0-1 2 0 1-1 1-1 2-1 0-2 1-2 1-2 2-1 1-1 1 0 2-2zM6 160l-1 2 1 0 2 1 2 1 2 0 1 0-1-1-1-1-1-1-1-1-1 0zM14 125l-1 1-1 1-1 1-1 1-1 1-1 2 2 2 2 0 2 0 2-1 2-1 2-2 1-2 0-2-1-1-2-1-2 1zM330 126l2-2 1 2 1 2-1 2-1 1-2 1-2 2 2 1 1 1 1 0 2 1 0 1 0 2 0 2 0 2 0 2 0 1 0 1-1 2 0 2-1 2-1 2-1 2-2 2-2 1-1 1-1 1-1 1-1 1-1 1-1 2-2 2-2 1-2 1-2 1-2 1-2 1-2 0-1 1-1 0-1 2-1 0-2 2-2 1-2 1-1 0-1 1-2 0-2 1-1 0-1 0-2 1-2 0-2 1-1 0-1 0-2 1-2 0-1 1-1 0-2 0-2 1-2 0-2 1-2 1-2 0-2 1-1 0-1 0-2 1-2 1-2 0-1 0-1 0-2 1-2 0-2 0-2 0-2 1-2 0-2 0-2 0-2 0-2 0-2-2 2-1 1-1 1 0 2-2 2-1 2-1 2-1 2 0 2-1 2-1 2-1 2-1 2-1 2 0 2 0 2 0 2 0 2-1 2-1 2-1 2-1 1 0 1 0 2-1 2-1 2-1 2-1 2-1 2 0 1-1 1 0 2-1 2 0 2-1 2-1 2 0 2-1 2-2 1 0 1-2 2-2 2-1 2-1 2-2 1-2 1-1 1-1 1-2 0-1 1-1 1-1 1-1 1-1 1-1 1-1 1-1 1-2 0-2 0-2 0-2 2-2 2 1 2 0 2-1-2-1-1-1-1-1 0-1 0-2 2-1 2 0zM326 137l-1 1-1 1-1 1-1 2-2 2-2 2-2 2-2 2-2 2 0 1-1 1-1 2 0 1-1 1-1 2-1 2-1 0-2 1-2 1-2 2-2 2-1 0-1 1-2 1-2 1-2 0-2 1-1 0-1 0-2 1-2 0-2 1-2 1-2 1-2 1-2 1-1 0-1 0-2 1-2 0-1 1-1 1-2 1-1 0-1 0-2 1-2 0-2 0-2 0-2 1-2 1-1 1-1 0-2 1-2 0-2 1-2 1-1 1-1 1-1 1 0 2 1 0 2 1 2 0 2-1 2 0 2 0 2 0 2 0 2-1 2 0 2-1 1 0 1 0 2-1 2-1 1 0 1 0 2-1 2 0 2-1 1 0 1 0 2 0 2-1 2-1 2 0 2-1 2 0 2 0 2-1 2-1 2 0 2-1 2-1 2-1 2-1 1-1 1-1 1-1 1-2 2-1 2 0 2 0 2-1 2-1 2-1 2-1 1-1 1-1 1-1 1-2 2-2 2-1 1-1 1-1 1-1 1-2 1-2 1-2 0-1 0-1 1-2 0-2 0-2 0-2-1-2-2-2-2-1zM343 126l1 0 1 0 1 1 0 1 0 2-2 2 0 1-1-1-1-1 0-1-2-2 2-2zM65 128l1-1 2 0 2 1 0 2-2 2-2 1-2 1-2 1-2 1-2 1-1 1-1 1-1 1-1 1-1 1 0 2-1 1-2 1-1 0-1 1-2 1-2 0-1-2 0-2 1-1 2-1 2-1 2-1 1-2 1-1 1-1 1-1 2 0 1-1 1 0 1-2 1-1 2-1 2-1zM93 130l1 0 2 0 2 0 2-1 1 1 0 2 0 2-1 2-1 2-1 2-2 2-2 2-1 0-1 1-1 1-1 2-1 0-1 0-2 0-2-1-2 0-2 0-2 0-2 0-2 0-2 0-2 0-2 0-2-1 0-2 0-2 2-1 2 0 1 1 1 1 2 1 1-2 0-2 1-2 2-1 2-1 1 0 1-1 2-1 2-1 2 0 1-1 1 0 2-2zM88 134l-1 0-1 0-2 2 0 1 0 1 1 2 0 2 0 2 1 0 2 1 2-1 2-1 2-1 2-2 1-2-1-2-2-2-2-1-2 0zM373 130l1-1 2 0 1 1 1 2-1 2 0 2-1 2-2 2 0 1-1 1-1 2-2 1 0-1 0-2 0-1 0-1 1-2 0-2 1-2 0-2zM342 134l1 2-1 1-2 0-1-1 1-1zM54 146l2-1 2 0 2 1 2 0 1 0-1 0-2 1-1 1-1 1-1 1-1 1-1-1-1-2zM344 146l1 0 1 0 2 1 2 1 1 0 1 2-1 2 1 2 1 2-1 1-1 1-1 2 2 1 2 0 2-1 2 0 2-1 2 1 2 2-1 2-1 1-1 1 1 1 0 1 1 2 1 1 0 1 2 1 1 1 1 1 1 1 1 2-1 2 0 2-1 1-2 1-2 1-2 1-1 0-1 0-2 1-1 1-1 1-1 1-1 2-1 2-1 0-2 2-1 0-1 0-2 2-1 0-1 1-2 1-2 0-2 1-1 1-1 1-1 1-1 0-2 1-2 0-1 1-1 0-2 1-2 0-2 1-1 0-1 0-2 1-2 0-2 0-1 1 0 2 1 1 1 1-1 0-2 1-2 1-2-1-2 1-2 1-2 0-2 0-2 0-2 0-2 0-2 0-2 1-2 0-2 0-1 0-1 0-2-1-2 0-1-1 1-1 2-1 1 0 1-1 1-1 0-2 1 0 2 0 2 0 2 0 2 0 2 0 2 0 2-1 2-1 2 0 2-2 2-1 2-1 2 0 2-1 1-1 1-1 2 0 1-1 1-1 1-1-1-1-2 0-2 0-2 1-2 1-2 0-2 0-2 0-2 0-2 0-2 1-1 0-1 0-2 0-1 0-1 0-2 0-2 0-2 0-1 0-1 0-2 2-2 1-2 0-2 0-2 1-2 0-1 0-1 0-2-1-2 0-2 0-2 0-2 0-2 0-2-1 2-1 2-1 2-1 2 0 2 0 2 0 2 0 2 0 2-1 1 0 1 0 2-1 2 0 2 0 2 0 2 0 2-1 2 0 2-1 2 0 2-1 1 0 1-1 2 0 2-1 2 0 2-1 2 0 2-1 2 0 1 0 1 0 2-1 2 0 2-1 2 0 2-1 2 0 1-1 1 0 2-1 2 0 2-1 2-1 1-1 1-1 1-1 1-1 1-1 1-1 1-1 1-1 1-1 0-2 1-2 1-2 0-2 0-2 0-2-1-2-1-2 0-2-1-2-2-2-2-1-1-1 0-2 1-1zM352 163l-1 1 0 2-1 2-1 2-1 2 0 1 0 1-2 2-2 2-2 2-2 2-2 2-1 0-1 1-2 0-2 1-1 0-1 0-2 1-2 1-1 0-1 0-2 0-2 1-2 1-1 0-1 0-2 1-2 0-2 0-2 1-1 0-1 0-2 1-2 0-1 1-1 0-2 1-2 0-2 1-1 0 0 2 1 0 2 1 2 0 2 0 2 0 2-1 2 0 2 0 2 0 2 0 2-1 2 0 2 0 2-1 1 0 1 0 2-1 1 1-1 1-2-1-1 2-1 1-1 1-1 1-2 1-1 0-1 2-1 0 1 2 2 0 2 0 2 0 2-1 2 0 2 0 2 0 2-1 1 0 1-1 2-1 2-1 2-1 2-1 2 0 2-1 2-1 1-1 1 0 2-1 1-1 1-1 1-1 1-2 2-2 2-2 1 0 1 0 2-1 2 0 1-1 1-1 2-1 0-1 0-1 1-2-1-1 0-1-2-2-1 0-1-1-1-1-1-1-1-1-1-1-2-1 0-1 0-1 0-2-2-1-2-1zM288 213l-1 1 1 2 2-1 1-1-1 0zM300 212l-1 0-1 1-1 1-1 1-2 0-1 1 1 0 2 0 2 0 2 0 2 0 0-1 0-1 0-1-1-1zM270 200l2 1 2 0 2 0 2 0 2 0 1-1-1-1-2 0-2 1-2 0-2 0zM393 146l1-1 2 1-2 2zM406 152l2-1 2 1-2 2-2 0zM398 156l2-1 2 1 0 1 0 1 0 1 0 1-2 2-2 1-1-1 0-2 0-2zM374 166l2-1 0 1 2 1 1 1 0 2 0 2-1 2-2 0-2-1-1-1-1-2 1-2zM406 166l2 0 1 0 1 0 2 1 2 1 2 0 2 2-1 2 1 0 0 2 0 2-2 1-2 0-2-1 0-2 2-2-2 0-2 1-2 0-1-1-1 0-1-2 0-2zM408 168l-1 2 1 1 2-1 0-1-1-1zM396 170l2 0 2 1 1 1 1 1 1 1 0 2-1 2-2 1-2 1-2 2-1 2-1 1 0-1-1-2 0-2 0-2 0-2 0-2 1-1 0-1zM398 171l-2 1-1 2 0 2 0 2 1 1 2-1 1 0 1 0 1-2 0-2-1-2-1 0zM448 170l2-1 0 1 2 2-1 2-1 0-2 2-1 2-1 1-2 1-1 0-1 1-2 0-1-1-1-1-1-1 0-2-1-2-1-2 1-1 2 0 1 1 1 1 2 1 2 0 1 0 1-1 1-1zM376 176l0-1 2 0 0 1 2 1 1 1 1 1 1 1 1 2 0 2-2 1-2 1-1 0-1 0-2-1 0-1-1-2 0-2 0-2zM402 186l1 0 1 2-1 2-1 1-2 1 0 1 0-1-1-2 0-2 1-1zM421 186l1 0 2-1 2 1 2 2-1 2-1 0-2 0-2 0-2-2zM442 186l0-1 2 0 2 0 2-1 2 2-1 2-1 1-1 1-1 0-2 0-2-2zM446 186l-2 2 2 1 1-1 0-2zM391 190l1-1 1 1 0 2-1 1-1-1zM460 190l2-1 2 0 2 1-1 2-1 1-2 0-1 1-1 1-1 1-1 1-1 1-1 1-2 1-2 0-2-1-1-1 1-1 1-1 1-1 2-1 2-2 1 0 1-1zM454 195l-1 1-1 2 2 0 2-1 1-1-1-2zM477 190l1 0 2-1 1 1 1 2-1 2-1 2-2 2-2 2-2 1-1 1-1 2-2 2-1 0-1 0-2 2-2 0-1 0-1-2 2-1 2-1 2-1 1-1 1-1 2-1 0-1 0-1 0-2 0-2 1-2 1-1 2-1zM476 194l-1 0-1 0 0 2 0 2 1 0 1-1 1-1 0-2zM58 192l2-1 2 0 2 0 2 1 1 0 0 2-1 0-2 1-2 0-2 0-2 0-1 1-1 0-2 1-2 1-2 0-2 0-2 0-2 1-2 1-1 0 1 0 2 2 2 2-2 2-1 0-1 0-2 1-1 1-1 1-2 0-2 0-2 0-2 0-2 0-2 0-1-1-1-1-2-1-2 2-2 1-2 0-2 1-2 0-2 0-2 0-2 1-2 0-2-1 1-2 1-1 2 0 2 0 2 0 1-1 1 0 2 0 2 0 2-1 2 1 2 0 2 0 2-2 2-1 2 0 2 0 2-1 2-1 1-1 0-2 1-2 2-2 2-1 2 0 2 0 2 0 2 0 2-1 2 1 2 0zM34 204l-1 0-1 0-2 1-1 1 1 0 2 1 2-1 2 0 2-2 1 0-1 0-2 0zM42 196l-1 0 1 0 2 1 2-1 2 0-2-1-2 0zM83 194l1 0 2 1 1 1-1 0-2 1-2 0-1-1 1-2zM209 196l1 0 2 0 2 0 2 0 2-1 2 0 2-1 2 0 2 1 1 1-1 0-2 1-1 1-1 0-2 1-2 0-2 0-2 0-2 0-2 0-2 0-2 1-2 0-2 0-2 0-1 0-1 0-2 1-2 0-2-1-2 0 1-2 1 0 2-1 2 0 2 0 2 0 2 0 2 0 2 0 2-1zM380 196l2-1 2 1 2 2-1 2 0 2-1 1-1-1-1 0-2-1-2-1 1-2zM382 197l-1 1-1 2 2 1 2-1-1-2zM60 200l2 0 2 0 2 0 2 1 0 1 1 2 0 2-1 0-2 1-2 0-2-1-2 0-1 2-1 0-2 1-2 1-1 0-1 0-1-2 1-1 2-1 2-1 2 0 2 1 2-1 1-1-1 0-2-1-1-1zM177 200l1-1 2 0 2 0 2 0 2 1-2 0-2 1-1 1-1 0-2 0zM406 200l2-1 2 1 2 1 1 1 1 2 0 1-2 0-1-1-1-1-1-1-1-1zM492 202l1 2 0 2-1 1-2-1-2 1-1 1-1 1-2 0-2 1-2 0-2 0 1-2 1-2 0-1 2-1 2-1 2 0 2 0 2 0zM484 205l-1 1 1 2 2-1 1-1-1-1zM382 208l1 0 1 0 2 1 1 1 1 1 1 1 1 1 2 1 0 1 2 1 2 0 2-1 2-1 1 0 1-1 2 0 2-1 2 0 2 0 2 0 0 1 0 1-1 2-1 1-2 1-1 0-1 1-2 1-2 1-2 0-2 0-2 1-2 1-1 1-1 1-1 1 1 2 1 2 1 0 2 0 2-2 2-1 2-1 2-2 1 0 1-2 2 2 1 0 1 0 2 0 2 0 2 0 2 0 1 0-1 0-2 1-1 1-1 1-2 0-2 0-2 1-2 1-1 1 1 2-2 2-2 2-2 1-2 0-2 1-1 0-1 0-2 1-2 1-2 2 0 2-2 1-2 0-1 1-1 0-2 1-2-1-1 0-1-1-1-1 1-1 1-1 1-2-2-1-1-1-1 0-2-1-2 1-2 0-2-1-2 0-2 0-2-1-1 0-1 0-2-1-2 0-2 1-2 1-2 1-2 2-2 0-2 0-2-1-2-1-2 1-2 0-2 1-2 1-2 1-1 0-1 0-2 0-2 0-2 0-2-1-1-1 0-2 0-2 1-1 2-1 2-1 1-1 1-1 1-1 1-1 1 1 1 0 2 1 2-1 2-2 2-1 2 0 2 1 2-1 1-1 1 0 0 2-2 1-2 0-1 1 0 2 1 1 2-1 1 0 1 0 2 0 2 0 2-1 2 1 2 0 2-1 1-1 1 0 2-1 2 1 2 0 2 0 2 0 2 0 2-1 2 0 2 0 1-1 1-2-2 0-2 0-2-1-1-1-1-1-1-1-1-2-2 0-2 0-2 0-1 0-1 0-2 0-2 0-2 0-2 0-2 0-2 0-2 0 1-2 1-1 2-1 1 0 1-1 2 0 2-1 1 0 1-1 2-1 1 0 1-1 2-1 1 0 1 0 2 0 2 0 2 0 2 0 2 0 2-1 2-1zM382 210l-2 1-2 1-1 0-1 0-2 1-2 0-2 0-2-1-2 0-2 1-2 1-2 1-2 0-2 0-2 1-2 1-2 1 2 1 2 0 2 0 2 0 2 0 2 0 2-1 2 0 2 0 2 1 2 1 0 1 0 1 2 1 2 1 2 0 2 0 2 2-2 2 0 2 0 1 2 0 2 0 2 0 2 0 0-1 2-2-2-2 1-2 1-1 1-1-1 0-2-1-2 0-1-1 1-2 0-1 0-1 1-2-1-1-1-1-1-1zM400 216l-1 2 1 0 2 0 1 0 1 0 2-1 2-1 0-1-2 0-2 0-2 0zM400 232l-2 0-2 1-2 0-2 0-2-1-2 0-2 0-2 1-2 1 0 2 1 2 1 1 2 0 2 0 2-1 1 0 1-1 2 0 2-1 2 0 2-1 1-1zM328 233l-2 1-2 1-2 0-1 1-1 2 0 2 2 1 2 0 2 0 1-1 1 0 2-2 1 0 1-1 1-1 0-2-1 0-2-1zM370 234l2 0 2 0 2 0 2 1 1-1-1 0-2 0-2 0-2-2zM191 210l1 0 2-1 2 0 2 0 2 1-1 2-1 0-2 1-2 0-2-1-2 0-2 1-2 1-2 1-2 0-2-1-1 0 0-2 1-1 2-1 2 0 2 0 2 1 2 0zM242 210l2 0 2 0 2-1 2 0 2 0 2 0 2 0 2 0 2 0 2 0 1 1-1 0-2 1-2 0-2 1-2 0-2 1-2 1-2 1-2 0-2 0-2 1-2-1-2 0-2-1 0-2 2-1 2 0zM242 212l2 0 2 1 2 0 2-1 1 0-1-1-2 0-2 0-2 1zM114 212l2 0 2-1 2 0 2 0 2 1 1 0 1 0 2 1 2 0 2 1-2 2 2 1 2 0 2 1 2 1 1 1-1 1-2 0-2 0-2 1-2 0-2 1-2-1-2 0-2 0-2 0-2 0-2 0-2-1-2 0-2 0-1-1 0-2 0-2 1-1 2-1 2 0 2 0zM67 214l1-1 2 1 2 1 2-1 2 0 2 0 2 1 1 1-1 2 1 2 1 0 2 0 2 0 1 0 1-1 1-1 1-1 2-1 2 0 2 0 2 0 2 1 1 1 1 2-2 2-2 1-2 0-2 0-2 0-2 0-1 1-1 0-2 1-2 0-2 0-2 1-1 0-1 1-2 0-2 0-2 0-2 0-2-1-2 0-2 0-1 0-1 0-2 2-1 2 1 0 2 2 2 1 2 0 2-1 2-1 2 0 2 0 2 0 2 0 2 1 2 0 2-1 2-1 2 0 2 0 2 0 2 1 2 0 1 1-1 2-2 0-2 1-2 0-2 1-2 1-2 0-2-1-2 0-2 0-2 1-2 0-2 0-2 0-2 0-2 0-2 0-2 1-2 0-2 0-1 0-1 0-2 0-2 0-2 0-2-1-2-1 2-1 2-1 2-1 2-1 1 0 1-2-2-1-2-1-2-1-2-1-2 0-2 1-1 1-1 1-2 1-2 0-1 0-1 0-2 1-2 1-2 0-2-1-2 0-2 0-2 1-2 0-1 0-1 0-2 1-2 0-2 0-2-1-2 0-2 0-2 0-2 0-2 1 0-1 0-2 0-2 0-2 0-2 0-2 0-1 2-1 2-1 2 0 2-1 1 0 1 0 2-1 2 1 1 0 1 1 1 1-1 1-1 1-1 1-2 1-2-1-2 0-2 1-2 2 2 0 2 0 2-1 2-1 2 0 2 1 2 0 2 0 2 0 2 0 2 0 2 0 2 0 2-1 1 0 1 0 2 0 2 0 2 0 2 0 2-1 2 0 2-1 1 0 1-1 0-1 0-2 2-2 2-1 2 0 2 1 2-1 2 0 2 0 2-1zM12 228l0 2 2 1 2-1 2 0 2 0 2-1 0-1 0-1-2 0-2 0-2 0-2 0zM52 224l2 2 2 0 2-1 2-1 1 0-1-2-2 0-2 1-2 0zM466 216l2-1 2 0 0 1 0 1 0 1-2 2-2 0-2-2zM512 216l2-1 2 1 0 1 0 1-2 1-2 0-1-1zM242 218l0-1 2 0 2 1 2 0 2-1 1 1-1 0-2 0-2 0-2 0zM537 218l1-1 2 0 2 0 2 1-2 1-1 1-1 0-2 0-1 0zM482 220l2-1 1 1 0 2-1 2-1 0-1 0-1 0 0-2zM545 220l1-1 2 1 1 0 1 0 2 1 1 1-1 1-1 1-1 1-1 1-1 1-2-1 0-2 0-2zM155 226l1 0 2-1 2 0 2-1 2 0 2 1 2 0 1 1 0 2-1 1-2 0-2 0-2 1-2 0-2 0-1 0-1-2zM208 228l2 0 2 0 2 0 2 2 2 2 2-1 2-1 2 0 2 0 1 0 1 1 2 1 2 0 2-1 2-1 2 0 2 0 2 1 2 1 2 0 2-1 2 0 1 1 0 2-1 1-2 0-2 0-2-1-2 2-1 2-1 1-2 0-2 0-1 1-1 0-2 1-2 0-2 0-2 0-2 1-2 1-2 0-2 0-2 0-2 0-2 0-2 0-2 0-2-1 2-1 2-1 2 0 2 0 2-1 2-1-1-2-1-2 0-1-2 0-1 1-1 1-2 0-2-1-1 0-1-1-2 0-1-1 0-2 1 0 2-1zM260 228l1 0 1 0 1 2 1 1 1 1 1 0 2 0 2 0 2 1 2 1-2 1-2 1-1 0-1 0-2 0-2 0-2 0-2 1-2 0-2 0-2 0-1-1 1-1 0-1 1-2 1-1 1-1 1-1zM301 228l1 0 2-1 2 0 2 0 2 0 2-1 2 0 2 1 1 1-1 0-2 2-1 0-1 2 0 2 0 2-2 2-1 0-1 1-2 0-2 1-2 0-2-1-2-1 2-1 2-1 2-2 0-1-1-1-1 0-2-1-2 0-1 1-1 0-2 1-2 0-2-1-2 0-2 0-2 1-2 0-2 0-1-1 1 0 2-1 2 0 2 1 2-1 1-1 1 0 2-1 2 0 2 0 2 0 2 0zM308 228l-1 0-1 1-2 1-1 0 1 0 2 1 2 0 2-1 1-2-1 0zM190 232l2 0 1 0 1 0 2 1 1 1-1 2-2 1-2 1-2 0-1 0-1 0-2 1-2-1-2 0-2-2 2-1 2-1 2-1 2 0zM437 232l1-1 2-1 2 0 1 2-1 1-1 1-1 0-1 0-1-1zM460 236l2 0 1 2-1 0-2 1-2 1-2 0-1 0 1 0 1-2 1-1zM128 240l2 0 2-1 2 1 1 0 0 2 0 2-1 1-2 0-2 0-2 0-2-1 0-2zM405 242l1 0 2 0-2 2-2 1-1-1 1-1zM359 244l1 0 2-1 2 1 1 0 0 2-1 0-2 0-2 0-2 0-2 0-2 0-2 0 2 0 2-1 2 0zM512 244l2-2 2 1 2 1-1 2-1 0-2 0zM345 246l1 0 1 0 1 0 2 1 1 1-1 0-2 2 0 2 2 2 0 1 0 1-2 1-2 0-2 0-2 0-2-1 0-1 0-1 2-1 2-1-1-2-1-1-1-1 1 0 2-2zM244 248l2 0 2 0 2-1 2 0 2 1-2 1-2 0-2 0-2 0zM211 250l1 0 2-1 2 0 2 1 2 0 2 0-2 1-2 1-2 1-2 0-2-1zM325 250l1-1 2-1 2 0 2 1 2 1 0 1-1 1-1 1-2 0-2 1-2 0-1-2zM416 250l2 0-1 2-1 0-1 0zM383 252l1 0 1 0 1 0 2 1 2 0 2 1 2 2 2 0 2-1 2 0 2 1 1 0 0 2-1 2 0 1 1 1-1 1-2 1-2 1-2 0-2 0-2 0-2 0-2-1-2-1-2-1-1 0-1 0-2-1-2 0-2 0-2 0-2 0-2-1 0-1-2 1-2 0-1 0-1 0-2-1-1-1 1-1 2-1 2-1 1 1 1 0 2 1 1-1 1-1 2-1 2 0 2-1 2 0 2-1zM382 256l-1 0 1 2 2 0 2 1 2 0 1-1 0-2-1 0-2-1-2 0zM291 254l1 0 2-1 2 0 2 1 2 0-2 2-2 0-2 0-2 0-2 0-2 1-2 0-2-1-1 0 1 0 2 0 2 0 2 0zM495 256l1 0 2 0 1 0 1 2-2 2-2 1-2 0-2 0-1-1 1-2 2-2zM581 260l1-1 2 0 2 0 0 1-2 2-2 0zM550 262l2 0 2-1 2 0 2 0 2 1 0 1 1 1-1 0-2 1-2 0-2 1-2 0-2 0-2 0-1 0-1 0-2 0-2 0-1 0-1-2 2-2 2 0 2 1 2 0zM576 264l2-1 1 1-1 2 0 2 0 1 2 0 1 1 1 1 2 0 2 0 2 0 1 1 1 2-2 1-2 1-1 0-1 1-1 1-1 0-2 1-2 0-2 0-1 1-1 0-2 0-1 0 1 0 2-2 1-2 1-2-2-1-2 0-2 0-2-1-1 0 0-2 1-1 1-1 1 0 2-1 2 0 2-1zM412 266l2-1 2 0 2 1-1 2-1 0-2 1-2-1-1 0zM529 266l1-1 2-1 2 1 1 1-1 0-2 2-2 1-2 0-2 1-2 1-2 0-1 1-1 0-2 1-2 0-2 0-2 0-2-1 2-1 2 0 2 0 2-1 1 0 1 0 2-1 1-1 1 0 2-1 2-1zM489 274l1 0 2-1 2 1-2 1-2 0zM557 274l1-1 2 0 1 1 1 2-2 2-2 1-2 0-2 1-2 1-2 1-1 0-1 1-2 0-1-1-1-1-1-1 1 0 2-2 2-1 2 0 2 0 1-1 1 0 2-2zM530 276l2 0 2 0 0 1 0 1 2 2-1 2-1 0-2 1-2 0-2 0-1-1 0-2 1-1 2-1zM600 290l2-1 2 0 2 0 1 1-1 2-2 1-2 0-2 1-1 0-1 1-2 1-1 0-1 2-1 0-1-1 0-1 0-1 1-1 1-2 2-1 2 0z"/>
<path fill="#70c278" fill-rule="evenodd" d="M4 0l2 0 2 0 2 0 2 0 2 0 1 0-1 1-2 1-2 0-2 0-2 0-2 2 0 1-1 1 1 1 0 1 0 1-2 1-2 1 0-1 0-2 0-2 0-2 0-1 2 0 1-1zM28 2l2-1 0-1 2 0 2 0 2 0-1 2 0 2 0 2-1 1-2 1-2 2 0 1-1 1-1 1-2-1 0-2 1-2 0-2 0-2-1 0-2 0-2 1-1 1-1 1-1 1-1 1-2 1-2 2 2 1 2 0 2-1 2 0 1 2 1 0 2 2 1 0 1 0 2-2 2-1 1-1 1-1 1-1 1-1 2 0 1-1 1-2-1-2-1-2-1 0 0-2 1 0 1 0 1 0 2 2 2 1 1-1 0-2 1 0 1 2 0 2 1 2 1 2-1 1-1-1 0-2-1-1-2 0-2 1-1 2-1 1-2 1-2 1-1 1-1 1-1 1-1 2 0 2 1 2 1 2-2 2-1 2-1 1-1 1-1 1-2 1-1 0-1 1 0 1-2 2 0 1-1 1-1 1-1 1-1 1-1 1-1 1-2 0-2 1-1 2 0 2 1 1 2 0 2 0 2-1 1 0 1-2 2-1 2-1 2 0 2 1 2 1 2-1 2 0 2 0 2 0 2 1 2 0 1-2 1-2 2-1 2 0 2 1 2 2 2 2 0 1 1 1 1 0 2 0 2-2 0-2-2 1-2-1-1-2-1-2 0-2 1-2 1-1 1-1 1-1 0-1 2-1 1-1 1-1 1-1 1 0 2-1 2 0 1 1 1 1 2-1-2-2 0-1 0-1 0-2 0-1 1-1-1-1-1 1-1 1-2 1-2 1-2 1-1 0-1 0-1 0-1-1 0-1 0-2 1-2 0-2 0-2 1-2 2-2 2-1 2 0 2-1 2-1 2 0 2 0 1-1 1 0 2-1 2 0 1 1 1 2-2 2-2 1-1 1 0 2 1 2 2 1 1-1 1-2 1-2 1-1 1-1 0-2-1-2-1 0 0-2 1-1 1-1 1 0 1 0-1 2 2 2 2 0 2 0 2 0 2 0 2 0 2 0 2 0 2-2 2-2 2 0 2 0 2 0-2 1-1 1-1 1-2 1-2 1-1 1-1 1-1 1-1 1-1 1-1 2-2 1-1 1-1 1-1 1-1 1-2 1-2 0-2-1-2 0-1 1-1 2-2 2-2 1 0 1-2 2 0 2 0 2 1 2 0 2 1 1 2 0 1-1 0-2 1-1 1-1 1-2 1-2 1-1 2 1 2 2-1 2-1 2 0 1 0 1-2 2 0 2 0 2 0 1 0 1-2 2-1 0-1 1-1 1-1 0-2 2-1 0-1 1-2 0-2-1-2 1-1 1-1 1-2 1-2 1-1 1 0 2-1 2 0 1-2 0-2 0-2 0-2 0-2 1-2 1-1-1 0-2 0-2-1 0-1-2-1-2 0-2-2-2-1 2-1 1 0 1-1 2-1 1-2-1-1 0-1-1-1-1 0-2-1-1-2-1-2-2-1 2-1 2 0 2-1 2 0 2 1 1 1 1 1 1 1 1 1 1 2 0 1 1-1 2 0 2 0 1 2 1 1 2-1 2-2 1-2 0-1-1-1-2-2 0-2 1-2 0-1 1-1 1-1 1 1 0 2 1 2 0 2 1-1 2-1 1-1 1-1 1-2 1-2 0-2 0 0-2 0-2-2-2-2 1-1 1-1 1-2 1-1 0-1 1-2 1-2 1-1-1-1-2 0-2 0-2 1-2 1-1 1-1 1-1 1-1 1-1 2-1 1 0 1-1 1-1 1-1 2-1 2-1 1-1 1-2 1-2-1-1-2 1-2 1-2 0-2 1-1-2-1-1-1-1-1-1-1-1 1-2 0-1 0-1 0-2-2-2 0-1 0-1 0-2-1-2-1-2-2-2-2-1 0-1 0-1 0-1 2-2 1-2 0-2 0-2-1-2 0-2 1-2 1-1 1-1 1-1 2 0 2-1 2-1 0-1 2-2 2-2 1 0 1-1 1-1 1-1 2-1 2-1 2-1zM12 50l-2 2 0 2 2 1 2 0 0-1 1-2-1-2zM22 49l-1 1-1 0-2 2 0 1 0 1 2 1 2 0 2 1 1-2 1-1 0-1 0-2 0-1-2-1zM40 47l-2 1 0 1 0 1 0 1 2 0 1-1 0-2zM48 42l-1 0-1 1 0 1-1 2 1 1 1 1 1 2 0 2 0 1 1 1 1 0 2 1 0 1 2 1 2 0 2 0 2-1 0-2 1-2 1 0 2-1 2-1 2-2 2-2 0-2-2-2-2-1-1 1-1 2-1 2-1 1-1 1-1 1-2 1-2 1-2 1 0-2-1-2-1-2-1-2-1-2-1 0zM64 27l-1 1-1 0-2 2 0 1-1 1-1 1 0 1-1 2 0 2 1 1 0-1 1-2 0-2 1 0 2 0 1 0 1 1 2 1 2-1 2-1 2-2 0-1-2 0-1-1-1-1-1-1-1-1zM62 16l-2 2 2 2 2-1 1-1-1-2zM76 19l-2 1-1 2 1 1 2-1 2-2zM86 14l2 2 2 0 2-2-2-1-2 0zM80 38l-2 1-1 1-1 1-1 1 0 2 1 2 2-2 1 0 1-1 2 0 1-1 1-2-2-2zM22 77l-2 1 2 2 2-1 1-1-1-1zM12 15l-1 1-1 1-1 1-1 1-1 1 1 1 2 1 1-2 1-1 2 1 1 2-1 2-2 2 0 2 2-1 2 0 2 0 2 0 2 0 0-1 1-2 1 0 2-2 1-2-1-1 0-1-2-1-2-1-2-1-2 0-2 0-2 0zM24 59l-1 1-1 2 1 2 0 2-1 1-2 0-2-1-2 0-2 2-2 2-2 1-1 1-1 2 1 2 1 1 2-1 1 0 1-1 1-1 1-1 2-1 2-1 2-1 2 0 2-1 2 0 2-1 2-2-2-2-1 0-1 0-2 0-1-2 1-2zM74 36l-1 0-1 0-2 1-1 1 0 2 1 1 2 1 2-2 0-1 1-1zM6 28l-1 2-1 1-1 1 0 2 1 0 2 1 2-1 0-2-1-2zM14 29l-1 1-1 1-1 1 0 2 0 2 0 2 1 0 2 1 2-1 2-2 2-2 1-2-1-1-1-1-1 0-2-1zM58 0l2 0 2 0 2 0 1 0 1 0 1 0 1 0 1 0-1 2-2 0-2-1-2 0-2 0zM141 0l1 0 2 0-1 2 1 2 2 2 2 1 2 0 1-1 1-2 1-2 1-2 2 0-2 2 0 1-1 1 1 1 2 1 2 0 2-2 2-1 2 0 1 1-1 2-2 2-1 2-1 2-2 2-1 0-1 1-2 1-2 1-1 1-1 2 0 2 0 1 0 1-2 2-1 2-1 2-1 2-1 1-2 1-2 1-1 1-1 1-2 1-2 2-2 2-2 2-2 2-2 2-1 0-1 0-2 0-1 2-1 2-1 2-1 1-1 1-1 2-2 2-1 0-1 1-2 1-2 0-2 1-1 1-1 1-1 1-1 1-1 1-1 2 2 1 1 1 1 2-2 2-2 1-2 1-1 0-1 1-2 1-2 1-1 1-1 1-1 1-1 1-2 1-2 1-1 1-1 0-2 2-2 1-2 0-2 1-2 2-2 2-2 0-2 0-2 1-2 1-2 2 0 2 0 2-2 2-1 2 0 2 1 1 2-1 2-1 1-1 1-2-1-2 1 0 2 0 1 0 1 1 2 0 2 0 2 0 2 0 2 0 2-1 2-1 2-1 2 0 1 0 1 0 2 0 2 0 2-1 2 0 1-1 0-2 0-2 1 0 2-1 2-1 2-2 1 0 1-1 2-1 2-1 2 0 0-1 2-2 2-2 1 0 1-1 2-1 1-2 0-2-1-1-2-1 2-2 2-1 2 1 2 2 2-1 1-1 1-1 1-1 1-1 2-1 1-2-1-2-2-2 2-1 1-1 1-1 2-1 2-1 0-1 1-2 1-1 1-1 1-2 1-2 1-1 1-1 1 0 2-1 2-1 2-1 2-1 2-2 2-1 1-1 1-2 2-2 2-2 2-1 1-1 1-2-2-2 0-1-1-1 1-1 0-1 2-2 0-1 1-1 1-2 2-2 2-1 1-1 1-1 0-1 1-2 1-2 1-2-1-2-1-2-1-2 2 0 2 0 2 0 2 0 2 0 2 1 2 0 2-1 2 0 2 0 2 0 2 0 2 0 0 1 2 1 2-1 1-1 1 0 2 0 2 0 2 0 2 0 2 0 2 0 0 1 0 1 1 2 1 2-1 2 0 2 0 2 1 1 2 1 2 2 0 2 2 2 2 2 2 1 2 1 1 0 1 2 2-1 2-1 2 0 2 1 2 1 2 0-1 2-1 2 0 2 0 2 1 2 0 2 0 2 0 2 0 2-1 0-2 2-1 0-1 1-2 0-1-1-1-1-1-1 1-1 2 0 1-1 1-1 1-1 0-2-1-1-1-1-1-1-2 0-1 1-1 1-1 1-1 1-1 1-1 2 0 1 0 1-1 2-1 0-2 1-1 1-1 2-1 2-1 2-1 2-1 2 0 2-1 2-1 1 0 1-2 2-2 2-1 2-1 2-1 2-1 2 0 1 0 1-2 2-2 0-2-1-2 1 0 2 0 2 0 1 0 1-1 2 0 2-1 2-1 2-1 2-2 1-2 0-2 0-2-1-1 0-1 0-2 0-1 0-1 1-1 1 0 2-1 1 0 1-2 2-1 2-1 2-2-1-1-1-1 0-1 2-1 1-2 0-2 0-1 1-1 1-2 1-2 0-2 2-2-1-1 1 1 1 2-1 2 1 1 1 0 2-1 2-2 1-1-1-1-1-2-1 0-1 0 1-2 2-1 0-1 2-1 2-1 1 0 1-2 2-1 2-1 1 0 1-2 2-1 0-1 0-1 0-1 0-2 0-1 0-1 0-2 1-2 0-2-1-1 0-1-1-1-1-1-1-1-1-1 0-2-1-2 1 0 2-1 2 0 2 0 2 1 1 1 1-1 0-2 1-2 0-2 1-2 0-1 0-1 1-1 1-1 1-1 1-1 1-2 1-2 1-2 0-2 1-2 0-2-1-2 0-2-1 0-2 1-2 1 0 2-2 1 0 1-1 2-1 0-2 0-1 0-1 0-2 1-2 1-1 2-1 2 1 2 0 1-1 1-2 2-1 2-1 1-2 0-2 0-2 1-2-2-1-2 0-2 0-2 0-2 1-2 2-2 2 0 1-2 1-1 0-1 0-2 2 0 1-2 1-2 1-2 0-2 1-2 1-2 1-2 0 1-2 1-1 1-1 1-1 1-1 1-1 1-1 0-2 0-2 0-2-1-1-2 0-2 1-2 2-1 0-1 2-2 2-1 0-1 0-2 0-2 2-2 2-2-2-2-2 1-2 1-2 1-2-1-1-1 1-1 1-2 1-2 1-2 1-2 1-1 1-1 2 2 1 2 0 1 1-1 0-2 2-2 2-2 1-2 1-2 1-1 1-1 2-2 2-2 1-2 0-1 1-1 1-1 1-1 2-2 0-2 0-2 0-2 1-2 1-1 2-1 2 1 2 1 2 0 2 1 0 1 0 2-2 0-1 0-1 1-2 1-1 1-1 1-1 2 0 2 1 2 1 2 0 1-1 1-1 2-1 2 1 1 1 1 2 2 2 2 0 2-2 2 0 0 2 1 2 1 1 2-1 2-2-1-2 1-1 2 1 2-1 2-1 2-1 2 0 2-1 2 0 2 1 2 1 2 2-1 2-1 1-1 1-1 1-2 1-2 2-2 1-2 1-2-1-2 0-2 1-1 0-1 0-2 1-2 0-2 1-1 0-1 0-2 1-2 0-1-1 0-2-1-2-2 1-1 1-1 2-1 0-1 1-1 1-1 1 0 1-2 1-2 1-2 0-2 1-2 1-2 1-2 0-2 1-2 0-2 0-2 0-2 1-2 0-2 1-2 1-1 1-1 0-2 1-2 1-1 0-1 0-1 0-1 0-2-1-2-1-2 0 0-2 0-1 1-1 1-1 0-1 0-2 0-1-2-1 0-2 2 0 2 1 2 0 2 1 2 2 2-1 2 0 2-1 1 0 1 0 2-1 2 0 2 0 1-1 1-1 0-1 1-2-1-2-2-1-1-1 0-2-1-2-2 1-1 1-1 1-1 1-1 0-2 1-1-1 0-2 1-1 1-1 1-1 1-1 1-2 1-2 0-2-1 0-2-1-2 0-2-1-2-2 0-1-1-1 0-2 1 0 2-1 2-1 2 0 2-1 1-1 1 0 2-1 2 0 2-1 2-2 0-1 0-1 1-2 1 0 2-1 2-1 0-1-2 0-1-1-1-2-2-1-2 0-2 0-2 1-2 1-2 0-2 1-2 1-1 1-1 0-2 1-1 1-1 0-2 2-1 2 0 2-1 2-2 1-1 1-1 0 0-1 2-1 1-2 1-2 0-2 0-1 1-1 1-1 2-1 1 0 1 0 2-1 1-1 1-1 1-1 1-1 1-1 1 0 2-1 2 0 2 0 2 0 2 0 2-1 1-2 1 0 2-2 2-2 2-2 0-1 2 0 2 0 1-1 1 0 2-1 2 1 0 1 0 1-1 2-1 1-1 1-1 2 2 1 1 1-1 2 0 1-1 1-1 1-2 1-1 0-1 1-2 1-2 2-1 0-1 1-2 1-2 1 0 1-2 2 0 1-2 1-2 1-2 0-2 1-2 1-2 1-1 0-1 0-1 2 0 2 1 1 2 0 2 0 1-1 1-1 2 0 2 0 1 1 0 2-1 2 0 1-2 1-1 2 1 1 2-1 0-1 2-1 2-2 1-2 1-2 2 0 2 2 2 0 2 0 2-2 1-2 1-2 2 0 2 0 2 0 1-2 1-2 2-1 2-1 1 0 1 0 1-2-1-2-1-2-1-1-2-1-2 0-2 0 2 0 2-1 1-1 1-1 1-1 1-2 0-1 1-1 0-2-1 0-2-1-1-1 1-2 2-2 1-2 0-2 0-2 0-2 1-2 2-1 2-1 2-2 1 0-1-1 0-1-2-1-2-1-2 1-2 0-2 1-1 0-1 1-1 1-1 1-1 1-1 0-2 0-2 1-1 1-1 1-1 1-1 1-1 1-1 1-2-1-2-2-2 0-2 1-1 1-1 0-2 1-2 1-2 0-2 0-2-1-2 0-1 1-1 2-1 2-1 1-2-1-1 0-1 0-2 2-2 2-2 0-2 1 0-1 0-2 2-2 2-2 2-2 2 1 2 0 2 0 0-1 2-1 1-1 1 0 2 0 2 0 2 0 2 0 2-2-1-2 1-1 0-1 2-2 1 0 1-1 1-1 1-2 0-1 0-1 2-2 1 0 1 0 2-1 2-1 0-1 2-1 2 0 2-1 2-1 2 0 2 1 2 1 2-2 2-1 1-1 1 0 2-1 2 1 2 0-2 0-2 1-1 1-1 1-1 1-1 2-2 0-2 0 0-1-2 1-1 2 0 2 1 2 2 0 1 0 1 0 2-1 2 0 1-1 1 0 2-1 2 1 2 0 1-2 1-2 0-2 0-1 0-1 1-2 0-2-1-2 0-1 0-1 0-1 0-1 1-2 1-2 1-2 1 0 2-1 2-1 2-2 0-2 1-2 1-1 2 0 2 0 1 1 1 0 2 1 1-1 0-2 1-1 1-1 1-1 2-1 0-2-1-2-1-2 1-2 1-2 2-2 2 1 1-1 1 0 2-2 2-1 2-1 1-2 1-2 2-2 2-1 2 0 2 0 2-1 2-2 2-2 1-2 0-2 0-2 1-2 2-1 0 1 2 2 1 0 1 0 2 0 2-2 1 0 1-1 2 0 2-1 2-2 2-2-2 0-1-2-1-1-1-1 0-2zM152 8l-2 1-1 1-1 1-2 0-2 1-2 1-1 1-1 0-2 1-1 1-1 1-1 1-1 1-2 0-2 0-2 1-1 2-1 1-1 1-1 1-2 1-2 2-2 1-2 0-2 0-2 1-1 2-1 2 0 2 1 2 1 2-2 1-2 0-2 0-2 1-1 0-1 1-1 1-1 0-1 2 1 2 1 2 0 2 0 2 0 2-1 2 0 1 0-1-2-2-2-1-2 0 0 1-2 2-2 1-2 0-2-1-1 0-1 0-1 0-1 1 0 1-1 2-1 1-1 1-1 1-2 1-2 1-1 1-1 1 0 1-1 2 1 1 0 1 2 2 0 2 0 2 0 2-2 1 0 1-1 2 0 2 0 2 1 1 2-1 1 0 1 0 2-1 2-1 2-1 1-1 1-1 2 0 2-1 2-2 1-2 1-2-2-1-1-1 0-2 1-1 2 0 2 0 1 1 0 2 1 1 2-1 1-2-1-1-1-1 0-2 1-1 1-1 1-1 1-1 1-2 0-1 1-1 1-1 2 0 2-1 1 0 1 0 2-1 2-1 2-2 1-2 1-2 1-2 1-2 2-2 2 0 2-1 2-1 2-2 2-1 1-1 1-1 0-1 2-1 1-1 1 0 2-2 1 0 1-1 1-1 1-1 1-1 1-2 0-1 1-1 1-2 1-2 0-2 1-2 2-2 2-2 1 0 1-1 2-1 1-2 0-2-1 0-2-1-2 0zM110 98l-2 1 0 1-2 1-2 1-2 1-2 1-2 0-1 0-1 1-2 0-2 0-1 1-1 2-2 1-2 1-1 0-1 0-2 0-1-2-1-1-2 0-2-1-2 0-2 1-2 1-2 1-1 1-1 1-2 0-2 0-1 1-1 1-1 1 0 2 1 1 0 1 2 1 2 0 2-1 2-2 2-1 2 0 2-1 2-1 2 0 1 1 1 1 1 1 1 2 2-1 2-1 1 0 1 0 2 0 2 0 2-1 2-1 2-1 2-1 2 0 2-2 2-1 2 0 2 0 1-1 1-1 0-1 2-2 2-2 2-2-2-2-2 0-2 0zM122 82l-2 2-1 0-1 1-1 1 1 1 2-1 2 0 1 0 1-1 0-1 0-2zM194 2l-2 1-2 0-2 1-1 0-1 1-2 0-1 1-1 0-1 2-1 2-1 2-1 2-2 2-2 2-2 2-1 2 0 2 1 1 2-1 2 0 1 0 0 2-1 1-2 0-2 1-1 2-1 2-2 2-2 1-1 1-1 1-1 1-1 2-2 2-2 2 0 1-2 1-2 1-2 1-2 1-1 1-1 1-1 1-1 1-1 1-1 1-1 1-1 1 0 1-1 2-1 1-2 1-2 2 1 2 0 2-1 2-2 1-1 1-1 1-1 1 0 2 1 1 2 0 2 1 2 0 1 0 1 0 1 2 1 2 2 1 2-1 1 0 0-2 0-2 0-2 1-1 2-1 2 2 1 0 1 0 2-2 2-2 1-2 0-2 1-1 0-1 0-2-1-2 0-2-1-2-2-1-2-1 0-2 2-2 2-1 2 1 1 2 0 2 1 1 2 0 1-1 1-1 2-1 2-1 2-1 2-1 1-1 1-1 2-1 1-2 1 0 2-2 1-2 1-1 0-1 2-2 2-1 1-1 1-1 0-1 1-2 1-2 1-2 1-2 2-2 2-2 0-2 0-2 1-2 1-2-1-2-1-2-1-2 1-2 1 0 1-1 2-1-1-2-1 0-2-1-2 1zM206 3l0 1-2 1-1 1 1 2 0 1 2 1 2-1 2-1 0-2-2-2zM218 3l-1 1-1 0-1 2-1 2-1 2 0 2 1 1 2 0 2-1 1 0 1 0 1-2 0-2 0-2-1-1-1-1zM228 27l-1 1 0 2 1 2 2 1 2 0 1-1 0-2-1-2-2-1zM48 152l-2 1-2 1-1 0-1 0-1 0-1-1-2 0 0 1-1 2-1 1-1 1-1 0-2 1-1 1-1 1-2 1 0 1-1 1-1 2 0 1-1 1-1 2-2 0-2-1-2 0-2 1-2 0-2 1-1 1-1 0-2 0-1 0-1 0-1 0-1 1-1 1 1 2 2 2 2 1 2 0 2-1 1 0 1-1 2-1 2-2 1 0 1-1 1-1 1-2 2 0 0 2 2 1 2 0 2 0 2 0 2-1 2-1 2-1 2-1 2-1 1 0 1-1 0-1 0-2 2-1 2-1 2-2 2-2 1-2-1-2-1-2-1-1zM74 152l-2 2-1 0-1 1-1 1-1 1-1 1-1 1-2 0-2-1-2-1-2 1 0 2-1 2 1 1 2 0 2-1 2 0 2-2 1 0 1 0 2-1 1-1 1-1 2 1 1 2 1 0 2 0 2-2 0-2 2-2 1-2-1-1-2-1-2 0-2 0zM38 109l-1 1-1 1-1 1-1 2-1 0-1 2 1 2 1 1 1 1 0 2 1 0 2 0 2-1 2-1 1-2-1-2 0-2 0-2 0-2 0-1-2 0zM44 84l-1 0-1 0-2 1-1 1-1 0-2 1-2 1-1 2-1 2 0 1-1 1-1 1-2 1 2 1 2-1 2 0 2-1 1-1 1-1 1-1 1-1 2-1 2 0 2 1 2 0 1-1-1-2-1-2-1-2zM94 121l-1 1-1 2-1 2 1 1 2 0 2-1 1-2-1-1-1-1zM106 111l-1 1-1 1-2 1-2 0-2 1-2 1-1 2 1 1 0 1 2 1 2-1 1-2 1-1 2-1 2 0 2-2 1-2-1-1zM206 12l-1 0-1 0-2 1 0 1-2 2 0 1-1 1 0 2 0 2-1 1 0 1-2 2-2 2-1 2-1 2-1 2-1 2 0 1-1 1-1 0-2 2-1 2-1 2-2 2-2 2-2 2-2 1-1 1-1 0-2 1-1 1-1 0-2 2-2 1-1 1-1 1-2 1 0 2 1 2 0 2-1 1-1 1-1 2 0 1-1 1-1 2-2 2-2 2-2 0-2-1-1 1 1 2 1 2-1 2-2 1-2 0-2 0-2 0-2-1-1-2 0-2-1-1-2 0-2 0-2 1-2 1-2 1-1 2-1 2 0 1-2 1-2 0-2 0-2 0-2 1-2 1-2 1 0 1-2 2 2 2 2 0 2 0 2 0 2-1 1 1 1 2-1 2-1 1 0 1 0 2 2-1 2-1 2 0 2 0 1 0 1 2-2 2-1 2-1 2-2 2 2 1 2 0 2 0 2 0 2 0 2 0 2-1 1 0 1-2 1-2 1-1 1-1 1 0 2-1 1-1 1-2 0-2-1-2 0-2 0-2-1 0-1-2 0-2 1-1 2 1 0 2 0 2 2 1 2 1 2 1 2 0 2 1 2 1 2 0 2 0 2 0 2 0 1-1 1-2-1-2 1-2 2-1 2-1 1-2 1-2 0-2 0-2 0-2 1-2 1-2 2 0 2 1 2 0 2 0 2 0 2-1 1 0 1-1 1-1-1 0-2-1-2 0-2-1-2-2 2-1 2 0 1-1 1-2 0-2 2-2 1 0 1-1 2-1 0-1 0-1 2-2 0-1 2-1 2-1 2-1 1 0 1-1 1-1 1-1 0-1 1-2 0-2 0-2 0-2 1-2 2-2 1-2 1-2 1-2 0-2 0-2-1-1-1-1 1-2 2-2 2-2-2-2-2-1-2-1-2-2-2 0zM220 22l-1 2 0 2-1 1-1 1 0 2-1 1-1 1 0 2-1 1-1 1-1 1-1 1-1 2 0 2 0 1 0 1 0 2 0 1 0 1-1 2-1 1-1 1-1 1-2 0-2 1-2 1-1 1-1 2 0 1 0 1-1 2-1 2-1 0-1 0-2 1 0 1 0 2 2 2 1-2 1-1 2-1 2 2 0 2 0 2 0 1 0 1 0 2 0 1-1 1-1 1-2 1-2 0-2-1-2 0-2 0-2 0-2 0-2 0-2-1-2 1 0 1 0 2 0 2 0 2 0 2-1 2-1 1 0 1-2 1-1 1 0 2-1 2-2 2-2 1-1 1-1 1 0 1-1 2-1 1 0 1 0 1 2 0 1-1 1-1 2-1 2 0 1 0 1 0 2-2 2-1 2 0 2 1 2-2 1-2 0-2 0-2 1-1 2-1 2 0 2 0 2 1 2 0 2 0 1-1 0-2 1-1 1-1 1 0 1-2 1-1 0-1 1-2 0-2 0-2 0-2 1 0 2-1 2 0 2 0 1-1 0-2 1-2 1-2 1-1 1-1 1-2 2-1 1-1 1-2 1-2 1-2 0-2 1-2 1-2 1-2 1-2 0-1 1-1 1 0 2-2 0-2 0-2 0-1 0-1-2-2-1 0-1-1-1-1-1-1-1-1-1-2-1-2 0-2 0-2 0-2-1-1zM40 93l-1 1 0 2-1 1-1 1 1 2 2-1 1-1 1-2 2-2 1 0-1 0-2-2zM126 104l-2 0-2 1-1 1-1 0-2 1-1 1-1 0-2 1-1 1-1 1-1 1-1 2 2 1 2 0 2 0 2-1 1 0 1-1 1-1 1-1 1-1 1-1 1-1 1-2 1-2zM150 98l0 2 2 1 1 1 1 1 2-1 1-2-1 0-2-1-2 0zM150 104l-2 1-1 1-1 1-2 1 0 1-1 1-1 1-1 1-1 1-2 1-2 1-2 0-1 1-1 1-2 1-2-1 0-1-2-1-2 0-2 1-1 2-1 2-1 2 0 2 0 2-1 1-2 1-1 0-1 2-1 2-1 1-2 0-2 0-2 0-2 1 0 2 1 2 0 2-1 2-2 2-2 0-2 1-1 1 1 0 2 1 2 0 2-1 2-1 2 0 2-1 2-1 1-1 1-2 2-1 2 0 1-1 1-1 1-1 0-2 1-2 0-2-1-2 1-1 2 0 2-1 2 1 2 0 1-1 1-2 2 0 2-1 2-1 2-1 1 1 1 1 0 1-2 2-2 1-2 1-2 2 0 2 2 2 2 0 2-1 2-1 2 0 2 1 2-1 1-2 1-1 0-1 1-2 1-2 1-2 0-2 1-1 1-1 1 0 1-2 0-2-1-1-2 0-2-1 0-2 1-2 1-2-1-2-1-1zM248 0l2 0 1 2 0 2 0 2 0 2 0 2-1 1-1 1-1 1-2 1 0 1-2 0-1-1-1-2 1-2 1-1 0-1 1-2 1-2 1-2zM263 0l1 0 2 0 0 2 0 2 0 2-2 2-2 0 0-2 0-2 1-2zM231 4l1-1 2 0 2 0 2 0 0 1 0 2-2 1-2 0-1-1-1-1zM284 6l2 0 2 2-2 1-2-1zM255 14l1-1 2-1 2 0 1 2 0 2-1 2-2 1-2 1-2-2 0-2zM272 14l0-1 2-1 1 2-1 1-1 1-1 2 0 2-2 2-1-2 1-2 0-1 1-1zM286 14l0 2 0 2 1 2 1 2-1 2-1 2-1 2-1 2-1 2-1 1-1 1-1 1-1 1-1 2-1 2 0 2-1 1-1 1-1 1-1-1 0-2 0-2 1-2 1-2 0-2 0-2 1-2 0-1 1-1 1-1 1-1 1-2 0-2 0-2 1-2 1-2 2-1zM303 20l1-1 2 1 1 2 1 2 0 2 0 1-2 1-1-2-1-2-2-2zM267 28l1-1 1 1 0 2-1 1-1 1-1 1-1-1 0-2 1-1zM119 36l1 0 2-1 2 0 1 1 1 2-2 2-2 1-2 1-1 0-1 0-2 1-2 1-1 0-1-2 0-2 2-2 2-1 2-1zM120 38l-1 0-1 1-2 1 2 1 2-1 2-1 1-1-1 0zM257 40l1-1 2 0 2 1 1 2 0 2-1 1 0 1-1 2 0 2-1 1-2-1-1-2-1-2 0-2 0-2zM297 40l1-1 2 1 1 2-1 2 0 2-2 0-1-2 0-2zM326 42l1 0 1 2-2 1-1-1zM272 46l0 2 1 2 0 2 0 2-1 2 0 1-1 1-1 2 0 2 0 1 0 1-1 2 1 1 2-1 2 0 2-1 2 1 1 0 1 1 1 1 1 1 1 1 1 2-1 2-1 1-2 1-2-1-2 0-2 0-2 1-2 0-2 0-2 1-1 1-1 0-2 1-2 1-1 2-1 1-1 1-1 1-1 1-1 2-1 2-1 1-1 1-1 2-1 2-1 1-1 1-1 1-1 1 1 2 1 2-1 2-2 1-1 1-1 1-2 1-2 2-2 1-1 1-1 1-1 1-1 1-1 1-1 1-1 1-1 1-2 1-2 1-2 1-2 1-2 1-2 1-1 1-1 0-2 2-1 0-1 1-1 1-1 1-2 1-2 1-1 1-1 0-2 2-2 1-2 1-2 1-2 1-1 0-1 0-2 1-1 1-1 1-1 1-1 1-2 1-2 0-2 1-2 0-2 0-2 1-1 0-1 1-2 1 0 1-2 1 2 1 1 1 1 0 2 1 1 1 0 2-1 1-2 0-2 0-1-1-1-2 0-2-2 1-2 0-2 0-2 0-1 1-1 1-2 1-2 1-1 1-1 0-2 1-2 0-2 0-2-1-1 0-1-1-1 1-1 2 0 1-1 1-1 1-1 1-1 0-2 0-2 0-2 0-2 0-2 1-2 1-2 1-1 1-1 0-2 2-2 1-2 0-2 0-2 1-2 1-2 0-2 0-2 1-2 0-2 0-2 0-2 0-2 1-2 0-2 0-2 0-2 1-2 0-2 1-2 0-2 0-2 0-1 1-1 1-2 1-1 0-1 0-2 1-2 1-1 0-1 0-2 1-2 0-2 0-2 0-2 0-2 1-1 0-1 0-2 1-2 0-2 0-2 1-1 0 1 1 2 1-2 2-2 1-2 1-1 0 0 2 0 2-1 1-2 1-1 0-1 0-2 1-2 1-2 0-2 0-2 0-2 0-2 0-2-1-2 0-2 0-2 0-1-1-1 0-2 0-2-1 0-1 0-1 2 0 2 0 2 0 2 0 2-1 0-1 1-1 1-2 2 2 2 2 0 2 1 2 1 0 2 1 2-1 2 0 0-2-2-1-2-1 2-2 0-1 1-1-1-1-1-1-1-1-2-1-2 0-2 1-2 1-1 0-1 0-2 0-2 1-2 1 0 1-2 1-2 0 0-2 2-1 1-1 1-1 2 0 1-1 1 0 2-1 2 0 1-1 1 0 2-1 2-1 2 0 2 0 2 1 2-1 2-1 2 0 2-1 2-1 2-1 1 0 1 0 2-1 2 0 2-1 2 0 2-1 2 0 2-1 1 0 1 0 2-1 2 0 2-1 2-1 2-1 2 0 2 0 2 0 2-1 2 0 1-1 1 0 2-1 2 0 2-1 2-1 2 0 2-1 2 0 2 0 2-1 2-1 1 0 1-1 2 0 2-1 2 0 2-1 2-1 2-1 2 0 2-1 2-1 2 0 2 1 2 0 2-2 1 0 1-1 2-1 2 0 1 0 1 0 2-2 2-2 2-1 2 0 2-1 1 0 1-2 1-2 1-2 0-1 1-1 1-1 2-1 2 0 2 1 2 1 2-1 2 0 2 0 1-1 1-2 0-2 2-1 2 0 2-1 2-1 2-1 2-1 2-1 2-1 1-1 1-2 2-2 1 0 1 0 2 1 2-1 1-2 1-1 2 0 2-1 1 0 1-1 2-1 1 0 1 0 2-2 1-2 1-1 1-1 1-1 1-1 1-2 1-2 1-1 1-1 1-2 2-2 2-1 1-1 1-1 0-1 2-2 0-1 1-1 1-1 2 0 2 0 1-1 1-1 0-1 1-2 0-2 1-2 1 0 1-1 0-1-2-2 1-2 1-1 1-1 1-1 1-1 1-1 1-1 1-1 1-1 1-1 2-1 0-2 0-2 0-2 0-2 0-1 1-1 1-2 0-1 2-1 2 0 2 0 2 1 2 1 2-1 2 1 0 2 2 1 1-1 0-2 1-2 2-1 2-1 2-2 1 0zM274 69l-1 1 0 2 1 1 2 0 1-1-1-2zM250 54l-2 1-1 1-1 1 0 1-1 2 1 2 2 1 2 1 1 0 1 0 2-1 2 1 0 2-2 1-2 0-2 1-2 0-2 0-2 0-1 0-1 0-2 2 0 1-1 1-1 1-1 1-1 1 0 1 0 2 1 2-1 2-2 2-1 2-1 2 0 2-1 2 0 2 1 2 1 2 0 2-1 1-2 1-2-1-2-1-2-1-1-1-1 0-1 2-1 1-2 1-2 0-1 2-1 1-1 1-1 2-2 2 0 1-1 1-1 2-2 2-2 2-2 1-2 1-2 2-2 1-2 0-1 1-1 1-2 1-1 0-1 0-1 0-1 0-2 0-1 2-1 1-1 1-1 1-2 1-1 0-1 1-2 1-2 1-1 1-1 0-2 1-2 1 0 2-1 2-1 1-2 1-2 0-2 0-2-1-2-1-1 0-1 0-2 0-2 2-1 2 0 2-1 2 0 1-2 1-1 0-1 1-2 0-2 0-1 1-1 1-1 1-1 1-2 0-2 1-2 0-2 1-1 1-1 1-2 1-2 0-2-1-2-1-2 1-2 1-2 1-2 0-1 1-1 1-2 0-2 1-2 0-1 0-1 0-2 1-2 1-1 0-1 0-2 1-2 0-2 1-2 0-2 1-2 1-2 0-1 0-1 1-2 0-2 1-2 1-2 0-2 0-2 0-2 1-2 1-2 1-2 0-2 1-2 0-2 1-2 0-1 0-1 0-2 1-2 0-2 1-1 0-1 1-2 0-1 1-1 1-1 1 1 1 2 0 2 0 2 0 2 0 2 0 2 0 2 0 2-1 2 0 2 0 2 0 2-1 2 0 2-1 1 0 1-1 2 0 2-1 2-1 1-1 1 0 2-1 2 1 2 0 2-1 2 0 2 0 2 0 2-1 2 0 2 0 2 0 2-1 2 0 2 0 2 0 2-1 1 0 1 0 2-1 2 0 2 0 2-1 2-1 1-1 1-1 2-1 2-2 1-2 1-1 2 0 1 1 1 0 2 0 2 0 2 0 1 0 1-1 0-1 1-2 0-2 1-1 2-1 2 1 1 1 1 1 2 0 2 0 2-1 2-1 2-1 2-1 1-1 0-2 0-2 0-2 1-1 2-1 2 2-1 2 1 1 2 0 1-1 1-1 2-1 2-2 2 0 2 0 2 0 1 0 1 0 2 0 2-1 1-1 1-1 1-1 1-1 1-1 1 0 2-1 2-1 2-1 2-1 2-1 1-1 1-1 1-1 1-2 1-2 1-2 0-1 2 0 1 1 1 0 2 1 2-1 2-1 2-1 2-2 2-1 2-1 2 0 2-1 1-1 1 0 2-2 1-2 1-1 1-1 1-1 2-1 2-1 1-1 1-1 1-1 1-2 2-2-2-2-1-2-1-1-1-1 1-1 2 0 1 1 1 1 1-1 1 0 1-2 1-2 1-2 1-1 1-1 1-1 1-1 1-2 2-2 1-2 1-2 0-2 0-2 2 0 2 0 2-1 1-1 0-2 0-2 0-2 1-2 0-1 0-1 1-2-1-2-2-1-2 0-2 0-2-1-2-2-2-1-2-1zM268 53l0 1 0 2 0 1 2-1 0-2 0-1zM298 50l0-1 1 1-1 2 0 1-2 1-1-2 1-1zM309 50l1-1 0 1 1 2 1 2 0 1 0 1 0 1-1 1-1 0-2 2-1 2 0 2 0 2 0 2-1 2-2 2-1-2-1-1 0-1 0-2 0-1 0-1 1-2 1-2 2-2 2-2 0-1 1-1 0-2zM282 52l2 0 2 0 2-1 2 1-2 1-1 1-1 1-2 1-2 0-1-2zM127 56l1 0 2 0 1 0 1 1 0 1 0 1-2 1-2 1-2 1-2 1-2 1-2 0-2 1-1-1 1-1 1-1 1-1 2-1 2-2 2-2zM69 60l1 0 1 0 1 2-2 1-2 0-2-1-2 1-1-1 1-2 2 1 2 0zM333 60l1-1 2 1 1 0 1 2-2 1-2 0-2 0-1-1 1-1zM353 62l1-1 2-1 1 2 1 2-1 2-1 0-2 2 0 2 1 2 1 2-1 2-1 2 0 1-2 0 0-1 0-2 0-2 0-2 1-2 0-2-1-2 0-2zM178 64l2 1 1 1-1 2-2-1-1-1zM108 66l2-2 2 1 2 1 0 2-2 2-1 0-1 0-2-2zM142 72l2-1 1 1-1 2zM325 74l1-1 2 0 1 1 1 2 0 2 0 2 1 2 1 2 2-2 2-1 2 1 0 2-1 2 0 2-1 2 0 1-2 1-2 0-2-1-2 0-2 0-1 1-1 1-2 0-2 0-1-1 1-1 1-1 1-1 2 0 2-1 2-2-1-2-1 0-1-2 0-2-1-2 0-2zM37 76l1-2 2 0 2 2 0 1 0 1 0 1-2 1-2-1-1-1zM313 76l1-1 2 1 0 2 0 2-1 2-1 0-2-1 0-1 0-2 0-1zM109 78l1 0 2-1 2-1 0 2-1 2-1 1 0 1-2 2-2 0-2-1 0-1 0-2 2-1zM108 80l-1 2 1 0 2 0 0-2zM283 78l1-1 2 0 2-1 2 2 0 2 0 1 0 1-2 1 0 1-1 2-1 1-1 1-1 1-2 0-1 1 0 2 0 2-1 2 0 2 2 1 2 1 2-1 2 0 2 0 2 0 2 1 1 0 1 1 0 1 1 2 0 2 0 2-1 0-2 0-2 0-2 1-1 1-1 1 0 1-1 2-1 1-1 1-1 1-1 1-1 1-1 1-1 1-1 1-1 1-1 1-1 1-1 1-1 2-2 2-2 2-2 1-1 1-1 0-2 2-2 1-1 1-1 1 0 1 0 2-1 2-1 1-2 0-2-1-2 1-2 1 1 2 0 2-1 1-1 1-1 0-1 0-1-1-1-1 1-1 1-1 1-2-2 0-2 0-1 0-1 0-2 2-2 1-1 1-1 1-1 1-1 2-1 0-1 0-2 1-1 1 0 2-1 1-1 1-1 0-2 0-2 1-2 0-1 1-1 1-1 1-1 2-2 1-2 0-1 1-1 1-2 1-2 1-2 1-2 1-2 0-2 1-2 1-2 0-2 1-2 0-2 1-2 0-2 1-2 0-2 1-2 0-2 1-1 0-1 0-2 1-1 1-1 0-2 1-2 1-2 2-1 0-1 2 0 2 0 1-2 1-2 1-2 0-2 1-2 0 2 1 2 0 2 1 2 0 2 0 2 0 1 0-1 2-2 1-2 0-2 0-2 0-2 0-2 1-2 0-2-1-2 1 0 1 0 1 2 1 2-1 1 0 1-2 2 1 2 0 2 0 2 1 2 0 2 1 2 0 2-1 1 0 1-1 2-1 2 1 1 1 1 0 2 1 2 0 2 0 2-1 2-1 2 0 2 0 2 0 2 1 2 0 2-1 2 0 2 0 2 0 2 0 2-1 2 0 2 1 2 0 2 0 2 0 2 0 1-1 1-1 2 0 2-1 2-1 2 0 2 0 2 0 2 0 2 0 2 0 2-1 2 0 2-1 2 0 2 0 2-1 2 0 1 0 1 0 2-1 2-1 2 0 2-1 2-1 1 0 1 0 2-1 2 0 2 0 1-1 1 0 2-1 2 0 2-1 1 0 1 0 2 0 2-1 2-1 1 0 1 0 2-1 2-1 1 0 1 0 2-1 1-1 1-1 2-1 2-2 2 0 1 0 1 0 2-2 2-1 2-1 2-1 1-1 1-1 1-1 1-2 1-2 1 0 2-2 2-1 1-1 1-1 1-1 1-2 1-2 1-2 1-2 0-2 0-2 0-2 0-2 0-2 1-1 2-1 2 1 2 0 2 0 2-1 0-2 0-1 1-1 1-1 2 0 1-1 1-1 1-1 1-1 2 0 1 1 1 1 2 1 0 1 1 1 1 2 1 2-1 0-2 2-1 2 1 2-1 2-1 2-2 2-1 0-1-1-1-1-1-1-1-1-1-1-2-1-1 0-1-2-2 1-1 1-1 1-1 1-1 1-1 1 0 2 1 1 1 1 1 2 2 2 1 2 1 1 0 1 1 2 1 2 0 2 0 2-1 2-1 2 0 1 0 1-2 2-2 2-2 2-2 2-2 2-1 0-1 0-2 1-2 0-1 1-1 0-2 1-2 0-2 1-1 0-1 0-2 1-2 0-2 1-1 0-1 0-2 0-2 1-2 0-2 1-1 0-1 0-2 1-2 1-1 0-1 0-2 1-2 0-2 0-2 1-1 0-1 0-2 1-2 0-2 0-2 0-2 1-2 0-2 0-2 0-2 1-2 0-2 0-2 0-2 0-2 1-2 1-1 1 1 1 2 0 1 1 1 1 1 1-1 1-2 0-2 1-2 0-2 0-2 1-2 0-2 0-2 0-2 0-2 1-2 0-2 1-2 1-1 2 1 1 1 1 1 0 2 1 1 1 1 1 2 0 2 0 2 0 2 0 2 0 2 0 2-1 0-1-1-1 0-2 1-1 2 0 2 0 2-1 2-1 2 0 1-1 0-2 1-1 2-1 2-1 2 0 2 0 2 0 2 0 2-1 2 0 2-1 2-1 1 0 1-1 2 0 2 0 2 0 2 0 2 0 2 0 1-1 1 0 2 0 2-1 2 0 2 0 2 0 2 0 1-1 1 0 2-1 2 0 1 1-1 1-1 1-1 1-2 0-1 1-1 1-2 0-2 0-2 1-1 0-1 1-2 1-2 1-2 0-2 1-1 0-1 0-2 0-2 1-2 0-2 0-2 0-2 0-1 1-1 1-2 0-2 1 1 2-1 1-1 1 1 1 1 1 1 1 2 0 2 0 2 0 2 0 2 0 2-1 2 0 2 0 2 0 1 0 1 0 2 0 1 0 1 0 2-1 2 0 2 0 2 0 2-1 2-1 1-1 0-2 1-1 2 0 1-1 1 0 2-1 2-1 2-1 2 0 2-1 2 0 2 0 2-2 1 0 0-2 1 0 2-2 1 0 1 0 2-2 1 0 1-1 2-1 2-1 1-1 1-1 1-1 1-2 2-2 2-1 2-1 2-1 2 0 1-1 1-1 1-1 1-1 1-1 1-1 1 1 1 2 0 1 0 1 2 2 2 1 2 0 2 0 2 0 2 0 1-1 1-2 2-1 0 1 1 2-1 1-2 1 0 2 0 1 0 1 1 2 1 1 2 0 2 0 2 0 0 1 2 1 2 0 2 0 1 1 0 2-1 2-2 2-2 1-2 0-1 1 1 1 2 0 2 0 2 1 1-2 0-2 1-1 2 0 2 1 2 2 1 2 1 1 2-1 1 0 1-1 1-1 0-2-1-2-2-2 0-1-1-1 1-2 2 0 2 0 1 0 1 0 2 2 0 2-2 2 0 1 0 1 0 2 0 2 0 2 0 2 2 0 2-2 1-2 1-2 0-2 1-2 1 0 2 1 1 1 1 2-1 2 0 2 1 1 1 1 1 1 1 1 0 2-1 2 1 2-1 0-2 1-2 0-2 0-2 1-2 0-2 0-2-1-2 1-2 0-1 0-1 0-2 0-2 0-1 0-1-1-1-1 1 0 1-2 1 0 2-1 2-1 2 0 1 0 1-1 1-1-1-1-2 0-2 0-1-1-1-1-2-1-2 0-2-1-2 1-2 1-1 1-1 0-2 2-1 0-1 0-1 0-1-1-1-1-1-2-2-1-2 0-1-1-1 0-2-1-2-1-2 1-2 1-1 0-1 0-2 1-2 0-2-1-2 0-2 1-2 0-2 1-2 0-2 1-1 1-1 0-2 1-1 1-1 0-2 1-1 1-1 0-2 1-1 1-1 1-2 0-2-1-2-1-2 1 1 2 1 1 2 0 2 0 2 0 2 1 2 0 2-1 2 0 2 0 2 1 2 0 2 0 0 2-2 2-1 2-1 1-2 1-1 0-1 0-2 0-2-1 0-1-1-2-1-2 0-1-2 0-2 1-2 1-2 1-2-1-2 1-2 1-2 1-2-1-2-1-2 0-2 1-2 0-1-1-1 0-2-1-2 0-2 0-2 1-1 0-1 0-2 0-2 1-2 0-2 1-2 0-2 0-2 0-2 1-2 0-2 0-2 1-2 0-2-1-2 1-2 1-2 0-2 0-2-1-1 0 0-2 1-1 2-1-2-1-2 0-2 0-2 0-2 1-1 0-1 0-2 0-2 0-2 1-2 1-2 1-2 0-2 1-1 0-1 0-2 0-2-1-2-1-1 0-1 0-2 0-2 0-2 1-2 0-2-1-1 0-1 0-2 0-2 0-1 0-1 0-2 0-2-1-2-1-2 0-2 0-2 0-2 1-2 0-2 0-2 0-2 0-2 0-2 1-2-1 0-1 0-2 2 1 1-1 1 0 1-2 0-2-1 0-2 1-1 1-1 2-2 1-2 0-2 0-2 0-2-1-2 0-1 0-1 0-2 0-2-1-2 0-2 0-2 0-2 0-2 0-2 0-2 0-2 1-2 0-2 0-2-1-2 0-2 1-1 0-1 2 2 2 2 2 2 1 2 0 2 0 2 0 2 1 2-1 2 0 2 0 2 0 2-1 2-1 2 0 2 0 2 0 2-1 2 0 2-1 2 1 0 2-2 2-2 1-2 1-2 1-2 0-2 0-2 0-2 0-2 1-2 1-2 1 2 1 2 1 2 0 2 0 2-1 2 0 2 0 2 0 2 1 1 0 1 0 2 1 2 1 2 0 2-2 2 0 2-1 1-1 1-1 2 0 2 1 1 0-1 1-1 1-1 2 2 1 2 0 2 1 2 1 2 1 1 0-1 0-2 1-2 1-2 1-2 0-2 0-2-1-2 0-2 0-1 0 1-2 2-1 1-1-1-1-2-1-2 0-2 0-2 0-2 1-2 0-2 1-2 0-2 1-2 0-2 1-2 0-1 0-1 1-2 1-2 0-2-1-2 0-2 0-2 0-2 0-2-1-1 0 0-2 0-2-1-1-2 1-2 1-2 0-1-1-1-2-2-2-1 0-1 0-2-1-2 0-2-1-2 0-2 0-2 0-2-1-2 0-2 1-2 1-2 1-2 1-2 0-2-1-2 0-2 1-2 1-1 0-1 2-2-1-2 0-2-1-1 0-1 0-2-1-2 0-1-1 1-1 2 0 2-1 2-1 2-1 0-1 2-1-2-2-2-1-2 0-2 0-2 0-2 0-2-1-1 0 0-2 1 0 2-1 2-1 1 0 1 0 2 0 2 0 2 0 2-1 2 0 2 0 2 1 2-1 2 0 2 0 2 0 2 0 2 0 2 0 2 0 2 1 2 1 2 0 2-1 1 2 1 1 2 1 2-1 1-1 1 0 1-2-1-2 2-1 1-1 1-2 1 0-1 0-2-1-2 0-2 0-2-1 1-2-1-2-1 0 0-2 1-1 1-1-1 0-2-1-2 0-2 0-2 1-2 1-2 0-2 0-2 0-2 1-2 0-2 0-2 0-2 1-2 0-2 0-2 1 2 2 0 2-2 1-2-1-1-2-1-1-2 0-2 0-2 1-2 1-2 0-2 1-2 1-1-1-1-1-1-1-1 0-2-1-2-1-2 0-1 0-1 0-2 0-1 0-1 0-2-1-2 1-2 1-2 1-2 0-2-1-2-1 2-1 0-1 2-1 2 0 2-1 2 0 1 0 1 0 2 0 2-1 2 0 1-1 1-1 2 0 2-1 2 0 2-2 1 0 1-2 1-2 1-1 2-1 2-1 2 0 1-1-1-1-2 0-2 1-2-1-1-1 1-1 2 0 2 0 1-1-1-1-2 0-2 0-2 1-2 0-1 0-1 1-2-1-1 0-1 0-2 0-1 0-1 0 1-2 1-1 2 0 2 0 2-1 2-1 2 0 2 0 2 0 2 0 2 0 2 0 2 0 2 0 2 0 0-1 2 0 2-1 2 0 2 0 2 0 2 0 2 0 2 0 2 0 2 0 2 0 2-1 2-1 1-1 1 0 2-1 2 0 2-1 1 0 1 0 2-1 2 0 2-1 2 0 2 0 1 0 1 0 2 0 2-1 2-1 2-1 2-1 2-1 2 0 2 0 2 0 2 0 2 0 1-1 1-2 0-1 1-1 1-1 2 0 2 0 2 1 2 0 2 0 1 0 1 0 2-2 2-2 1 0 1-2 2-2 1 0 1 0 1 0 1 0 2 0 2 0 1 0 1-1 2-1 1 0 1-1 1-1 1-1 1-1 1-1 2-1 2-2 1 0 1-1 2-1 2-1 1-1 1-1 2-1 2 0 2 0 2-1 2-1 1-2 1-1 1-1 0-2 0-2 0-2 1-2 2-1 2 0 1 1 1 0 2 1 2-1 0-1 0-1-2-2 2-2 2 2-1 2 1 0 2-1 1-1 1-2-1-2 0-2 0-2 0-2 0-2 1-2 2 0 2-1 2 0 2 0 2-1 2-2 1-2 1-2 0-2 2-2 1-2 0-2 0-2-1-2 0-2 0-1 0-1 0-1 2-1 2 1 2-1 1-2 1-1 1-1 1-1zM224 200l0 1 1 1 1 1 1 1-1 0-2 1-2 1-2 0-2 0-2 1-2 1-2 1-2-1-1 0 0-2 1-1 1-1 0-2-1 0-2 0-2 0-2 0-1 0-1 0-2 0-1 0-1 0-2 1-2 0-2 0-2-1-2 0-2 0-2 1-2 1-2 0-2 0-2 0-2 0-2 0-1 0-1 0-2 1-2 0-2 1-2-1-2 0-1-1-1 0-2-1-2 0-2 0-2 1-2 1-1 1-1 2 0 1 0 1 2 2 2 1 2 0 2-1 2 0 1 0 1 0 2 0 2 0 2 0 1 0 1 0 2 0 2-1 2 0 2-1 2 0 2-1 2-1 2 0 2 0 2 0 2 0 2 0 2-1 2 0 2-1 2 0 2 0 2 0 1 0 1 0 1 0 1 1 2 1-1 2 0 2-1 2 0 1 2 1 2 0 0 2 1 2-1 2 0 2 2 0 2 0 2 0 2 1 2 0 2 0 2 0 2 0 2 1 1 0 1 0 2 0 2 0 2 0 2 0 2 1 2 0 2 0 2 1 2-2 2-1 2 0 2-1 2 0 2-1 2 0 2 0 2 0 2 0 2 0 2 0 2 0 2 0 2 0 2-1-1-2-1-2 0-1-1-1 1-1 1-1-1-2 2-2 0-1-2-1-2 0-2 1-2 1-2 1-2 0-2 1-2 1-2 1-1 0 1 1 0 1 1 2-1 1-2 0-2 1-2 0-2 0-2 0-1 0-1 0-2 0-2 0-2 0-1 0-1 0-2 0-2 0-2 1-2 0-2 0-2 0-2 0-2 1-2 0-2-1-2-1-1 0 0-2 0-2 0-2 1-1 1-1 1-2 2-1 2 0 1 1 1 1 2 1 2 0 2 0 2-1 2-1 2-1 2 0 2 0 2 0 2-1 2 0 2 0 2-1 2 0 2-1 1 0-1-1-2 0-2 0-2-1-1-2-1 0-1 0-1 1-2-1-2-1-2 0-2-1-2-1-2 0-2 0-2 0-2 0-2 0zM248 196l-1 0-1 1-2 0-2 1-1 0 1 1 2 0 2 0 2 0 2 1 2-1 1-1 1-1 1-1-1 0-2-1-2 1zM336 153l-1 1-1 2 0 1-1 1-1 1-1 1-1 1-2 1-2 1-1 1-1 1-1 1-1 1 0 1-2 2-2 2-2 1-2 1-2 1-1 1-1 1-2 1-2 0-2 1-2 1-2 2-2 1-2 0-2 1-2 1-2 0-2 1-2 0-2 1-2 0-2 0-2 1-1 0-1 0-2 1-2 0-2 1-1 0-1 0-2 1-2 1-1 0-1 0-2 1-2 1-1 2 1 0 2 1 2-1 2 1 2 0 2 0 2 0 2 0 2 0 2-1 2 0 2 0 1 0 1 0 2 0 2-1 2 0 2 0 2-1 1 0 1 0 2-1 2 0 2-1 2-1 2 0 2-1 2 0 1 0 1 0 2 0 2-1 2 0 2-1 1 0 1 0 2-1 2 0 2-1 1 0 1 0 2-1 2-1 1 0 1 0 2-1 1-1 1-1 2-1 2-2 0-1 1-1 1-1 0-1 1-2 1-2 0-2 0-2 0-1 0-1-1-2-1-2 0-1-1-1-1-2-2-2-2-1zM338 140l-1 2-1 2 1 2 1 1 1-1 1-1 1-1 0-2-1-2-1 0zM352 139l-1 1 0 2 1 2 2 2 1 0 1 0 1-2-1-2-1-2-1-1zM290 202l-2 0-2 2-1 0 1 2 2 2 2 0 2-1 2 0 2 0 2-1 1 0 0-2 1-1 2 0 2 0 1-1-1-1-2 0-2 1-2 0-2 0-2 0-2 0zM318 198l-1 0-1 1-2 1-2 0-1 0 1 0 2 2 2-2 2 0 2-2 0-1zM330 208l-2 1-2 1-2 2-2 2-2 1-2 0-2 1-2 1-2 1-1 0-1 1-2 1-2 1-1 1-1 0-2 0-2 0 0-2-2-1-2 0-2 0-2 0-2 1 1 2-1 0-2 1-1 1-1 0-2 1-2 1-1 0-1 1-2 1 2 0 2 0 2 0 2 1 2-1 2 0 2 0 2-1 2 0 2 0 2 0 2-1 2 0 2-1 2 0 2 0 2-1 2 0 1 0 1 0 2 0 2 0 2 0 2-2 0-1 1-1 1-2 0-1 2-1 2-1 2 1 2-1 2-1 2 0 2 2 2 1 2 0 2-1 1 0 1-1 2-1-1-2-1-1-2 0-2-1-1 0-1 0-2-1-1-1-1 0-2 0-2 0-2 0zM370 184l-2 1-2 0-2 1-2 1-2 0-1 1-1 1-1 1-1 1 0 1-2 2-2 2-2 1-2 1-2 2-1 0-1 1-1 1 1 1 0 1 1 2 1 1 2 1 2 2 1 0 1 1 1-1 1 0 2-1 2 0 2 0 2-1 1 0 1 0 2-1 2-1 2 0-1-2 1 0 2-2 2 0 2-1 0-1 0-1-2 0-2 0-1-1 0-2 1-2 1 2 1 0 2 1 1-1 1-1 0-1 2-2 0-2-2-1-2 0-1-1-1-1-1-1-1-2-1 0zM382 193l-1 1-1 1-1 1-1 2-1 2 1 1 1 1 0 2 1 1 2 1 2-2 2-2 0-1 1-1 0-2 0-2-1 0-2-1-1-1zM390 199l-1 1-1 1 0 1 0 2-2 1-1 1 1 0 2 1 2-1-2-2 2-2 2-2 1 0-1-2zM396 199l-1 1 1 1 0 1 2 1 1-1 1-1 0-1-2-1zM422 216l-2 1-2 1-2 0-2 0-2 1-2 1 2 0 2 0 2 0 2 0 2 0 1 0 1 0 2 0 2 0 1 0 1 0 2 0 1-2-1-1-2-1-2 0-2-1zM352 223l-2 1 1 2 1 1 2 0 1-1 0-2-1-1zM154 234l-1 0 1 0 2 1 2 0 2-1 2 0 2 0 2 0 1 0-1 0-2 0-2 0-2 0-2 0-2-1zM104 230l-1 0-1 2 2 1 2 1 2 0 2 0 2 0 2-1 2-1-1-2-1-1-2 0-2-1-2 0-2 1zM118 226l-1 0 1 2 2 0 2-1 1-1-1 0-2-1zM124 230l-1 0-1 0-2 2 2 1 2 1 2-1 1-1 1-2-2-1zM144 231l-1 1-1 1-2 1 2 1 2 0 2 0 2-1-2-2zM86 204l-1 0-1 0-2 1-2 1 0 1-2 1 1 2 1 1 2 1 2 1 2 0 2 0 2 0 2 0 1-1 1 0 2-1 2 0 2 0 2 0 2-1 2-1 2 0 2 0 2 0 2-1 2 0 1 0 1 0 2-1 2 0 2-1 2 0-2 0-2 0-2 0-2-1-2 0-2 0-2-1-2 0-2 0-2-1-2 0-2 0-2 1-1 0-1 0-2 1-2 0-2 0-2-1-1 0-1 0zM90 201l-1 1 1 0 2 1 2 0 2 0 2-1 1 0-1-1-2 0-2 0-2 0zM98 197l-2 1 2 0 2 1 2 0 1-1-1 0-2-1zM104 186l-1 0-1 0-2 1-2 1 2 1 1 1 0 2-1 2 2 1 2 1 2 0 2-1 2-1-2-2-2-2-1 0 1 0 2-1 2 0 2-1 1 0-1-2-2-1-2 0-2 1zM276 89l-2 1 0 1 0 1 1 2 0 2-1 2-2 2-1 2-1 2 0 1-1 1-1 2-2 2 0 1-2 1 0 1 0 1-1 2-1 2 0 2 0 1-1 1-1 1-2 1-2 2-2 2-2 1-1 1-1 0-2 1-2 1-2 0-1 0-1-2-1 2 1 1 1 1-1 1-1 1-1 1-1 1-1 1-1 1-1 1-1 1-1 1-2 0-2 0-2 1-2 2-2 1-2 0-1 1-1 0-2 1-1 1-1 1-2 1-2 2-2 2-2 1-1 1-1 1-2 0-2 0-2 0-2 1-2 1-1 1-1 1-2 1-2 1-1 1-1 1-2 0-2 0-2 1-2-1-1 1-1 1-1 1-1 1-1 1-1 2-2 2-2-1-2 0-1-1-1-1-2 0-2-1-2 2-1 0-1 1-2 1-1 0-1 0-2 1-2 0-2-1-2 0-2 1-2 1-2 0-2 1-2 0-2 1-2 0-2 1-2 1-2 2 0 2-2 2-2 0-2 0-2 0-2 1-2 1-1 2 1 1 1 1-1 2 2 0 2 0 2 0 2 0 2-1 2-1 2 0 2 0 2-1 2 0 2-1 2 0 2 0 2 1 2 0 2 0 1-1 1 0 2-1 2 0 2 0 2 0 2 0 2-1 0-2 2-2 2-2 2-2 2-2 2-2 2-1 2 0 2 1 2 0 1 0 1 0 2-1 2 0 2 0 2-1 1 0 1 0 2-1 2 0 2-1 2-1 2 0 2-1 2-1 2-1 2-2 1 0 1-2 2-1 2-1 2-1 1-1 1-1 2-1 1 0 1-1 2 0 2-1 2-2 1-2 1-1 2 0 2-1 2-2 2-2 0-1 2-1 2-1 2-1 2-1 2 0 2 0 2-1 2 0 2 0 1 0 1-1 0-1 1-2 1-1 1-1 1 0 2-2 2-1 2-1 2-1 0-1 2-2 2-2 1-2 1-1 1-1 1-1 2-1 2-2 2-2 1-2 0-2 1-1 1-1 1-1 1-1 1-1 1-1 1 0 2-2-2-1-2 1-2-1-2 0-1-1-1 0-2-1-1-1-1-1-1-1-1-2 1-2 0-2-1-2zM156 218l-2 0-2 2 2 2 2 0 2 0 1 0 1 0 2-1 2 0 2-1 2 0 2 0 1 0 0-2-1 0-2 0-2 0-1 0-1 0-2 0-2 0-1 0-1 0zM196 208l-1 0-1 0-2 1-2 0-2 0-2 0-2 0-2 0-2 1-2 1-2 1-1 0-1 0-2 1-2 1-2 0-2 0-2 0-2 0 2 1 2 0 2-1 2 0 2 1 2 0 2 0 2 0 2 1 1 0 1 0 2 0 2 0 2-1 2-1 2 0 2 0 2 0 2 0 2 0 2-1 1-1 1-2 0-2-2 0-2 0-2 0zM224 212l-1 0-1 1-1 1 1 1 2 1 2 0 1-2-1-1-1-1zM118 200l2 2 2 0 1 0 1-2 0-1-2 0-2 1zM140 197l-1 1-1 1-2 1-2 0-2 0-2 2 1 2 1 1 1-1 1-2 0-2 2 0 2 1 2 0 2 0 1-1 0-2-1-1zM192 216l-1 0-1 0-2 2-1 0 1 1 2 0 2 0 1-1 1-1 0-1zM368 80l2-1 2 0 1 1 0 2-1 1 0 1-2 2-1 0-1 0-1-2 0-2zM74 82l2-1 2 0 1 1-1 1-2 1zM8 84l1 0 1 0 2 2-1 2-1 0-2 2-2 1-1 1-1 1-1 1 0 2-1 1-2 1 0-2 0-2 0-2 0-2 2-1 2 0 0-1 2-2zM348 84l1 2 1 2-2 1-2 0 0-1 0-2 0-1zM380 90l2-1 2 0 1 1-1 2 0 1-1 1-1 1-1-1-1-1-1-1zM135 94l1-1 2-1 2 0 2 2 1 0 0 2-1 1-1 1-1 1-2 0-2-1-1-2zM138 94l-1 2 1 2 2-1 1-1-1-2zM160 94l2-1 1 1-1 2zM387 102l1-1 2 0 1 1 1 2-2 1-2 0-1-1zM305 104l1-1 2 0 1 1-1 2-1 2 1 2 2 2 1 0-1 1-2 0-2-1-1 0-1-1-2-1 1-2 1-2zM365 104l1-1 0 1 1 2 1 2 0 1 0 1-2 2-2-1 0-1-1-2 1-2 0-1zM315 106l1-1 2-1 1 2 1 2 1 2 1 1 1-1 1 0 1-2 1 0 2-1 1-1 1-1 2-1 1 2 0 2-1 2-2 1-2 1-1 2 1 2 1 2 0 2-1 2 0 1 0 1-2 1-2 1-2 2 0 1-1 1-1 0-1 0-1 0-2-2-1 2-1 2 1 2 1 2 1 0 1 2 1 2 0 2-1 1 0 1-2 2-2 2-2 2-1 2-1 2-1 2-1 1-2 1-2 2-1 0-1 0-2 2-1 2-1 1-1 1-1 1-2 1-1 0-1 0-2 1-2 0-2 1-2 1-2 1-2 1-2 0-1 1-1 0-2 1-1 1-1 0-2 1-2 0-2 1-2 1-1 1-1 0-2 1-2 0-2 0-2 0-2 1-1 0-1 0-2 1-1 1-1 0-2 1-1 1-1 0-2 1-2 0-1 1-1 0-2 1-2 1-2 1-2 1-1 0-1 0-2 1-2 0-2 0-2 1-2 1-2 0-2 0-2 0-2 0-2 0-2 0-2 1-2 0-2 0-2 0-2 0-2 1-2 0-2 0-2 0-2 0-2 0-2 0-2 1-1 0-1 0-2 1-1-1-1-1 0-1 1-2 1-1 2-1 1 0 1 0 2 1 2 0 0-1 0-1-1-1 1 0 2-1 2 0 2-1 2 0 2 0 2-1 2 0 2-1 1 0 1 0 2-1 2 0 2-1 2 0 2-1 2-1 1 0 1 0 2 0 2 0 2-1 2-1 2-1 2-1 2-1 1-1 1 0 2-1 1 1 1 2 0 1 2 1 2-2 0-1 1-1 0-2-1-1-1-1 0-2 1-1 2 0 2 1 0 1 1 1 1 0 2 0 2-1 2-1 2-1 2 0 2-1 1 0 1-1 2 0 1-1 1 0 2-1 2-1 2-1 2-1 2-1 1-1 1-1 1-1 1-1 1-1 1-1 2 0 1-1 1-2 0-2 1-2 1-1 2-1 0-2 0-1 0-1 2-1 2-1 2-1 1-1 1-2 2-2 1-2 1-1 1-1 1-2 2-2 0-1 0-1 1-2 1-2 2-1 2 0 2 0 2 0 2 0 2-1 0-1 1-1 0-2 0-2-1-1-1-1 0-2zM320 122l-1 2 1 2 1 0 1-2 0-1-1-1zM306 121l-2 1 0 1 0 1-1 2-1 1 0 1-2 1 0 1-2 2-1 2-1 1-1 1-1 2 0 2 0 1 0 1-1 2-1 2-2 1-1 1-1 0-2 1-2 1-1 2 0 2-1 2 0 1-2 1-2 1-2 1-2 1-2 1-2 2-2 1-2 1-1 0-1 1-1 1-1 0-2 1-2 0-2 0-2 1-2 1-2 1-2 1-2 0-2 1-2 2-1 0-1 1 0 1-2 2-2 2-2-1-1-1-1-2-2-1-2 1-2 2-2 2-1 0-1 1-2 1-2 0-2-1-2 0-2 1-1 0-1 1-2 0-2 0-2 1-1 0-1 1-2 0-2 0-2 0-2 1-2 1-2 0-2 0-2 1-1 0 1 1 1 1 1 0 2 2 2 1 2 0 2 0 2 0 2 0 2 0 2-1 2 0 1 0 1 0 2 0 2-1 2 1 2-1 2 0 2-1 2 0 2-1 2 0 2-1 2 0 2-1 2-1 1 0 1-1 2-1 2 0 2-2 1 0 1 0 2-1 2-1 1 0 1-1 2-1 1 0 1-1 2 1 2 0 2 0 1 0 1 0 2-2 1 0 1-1 2 0 2-1 2-1 2-1 2-1 2-1 2 0 2-1 2-1 2-1 1-1 1 0 2-1 2 0 2 0 1-1 1 0 2-2 0-1 1-1 1-2 2-1 2-1 2-1 1-1 1-1 1-1 1-2 1-2 1-1 1-1 1-2 2-2 1-2 0-2-1-2-2-2 0-1-1-1 0-2 0-2 0-2 1-2 0-1 0-1 0-2-2-1-2 0-2 0zM221 114l1-1 1 1 0 2-1 1-2-1zM397 114l1-2 1 2 1 2-1 2-1 2-2 2-2 0-1-2 1-2 1-2 1-1zM374 116l0-1 0 1 0 2 0 2 0 1-2 0-1-1 1-1 1-1zM381 116l1-1 2-1 1 2 1 2 1 2 1 2 0 1 0 1-2 2-1 0-1 0-1-2 0-2 0-2-1-2zM394 128l2 1 1 1 0 2 1 2-1 2-1 1-1 1-1 1-1 1-1 1-1 1-1 1-1-1 0-2 1-2 0-1 1-1 0-2 1-1 1-1 1-2zM74 130l2 0 2-1 1 1 1 1 1 1-1 2-2 1-2 1-1 0-1 0-2 1-1 1-1 0-2 1-2 1-1 0-1 1-1 1-1 1-2 0-2-1 0-1 0-1 1-2 1-1 2-1 1 0 1-1 2-1 1 0 1-1 2 0 1-1 1-1zM35 132l1-1 2 0 0 1 0 1 0 1-2 2-2 0-2 0-2 2 0 1-2 0-2-1 2-2 2 0 2 0 1-2 1 0zM336 132l2 0-1 2-1 0-2 0-1 0 1-1zM449 140l1-1 0 1 0 2 2 1 1 1 1 2-2 2-1 0-1 0-1-2 1-2 0-2zM413 142l1 0 2-1 1 1-1 1-2 1zM433 142l1-1 2-1 2 2-1 2-1 1-2 1-2 0-1-2 1-1zM191 146l1-1 2 1 1 2-1 1-1 1-1 1-2 0-1-1 0-2 1-2zM399 146l1-2 1 2 1 1 1-1 1 0 2-1 2 0 1 1-1 1-2 1-1 0-1 0-1 2-1 1-2 0-1 1-1 0-2 2-1 2 0 2 0 2 0 2-1 2-1 0-1 0-2-2-1 0-1-1-2 1-1-2-1-2-2-2 1-2 1-2 2-2 2-2 2 1 1 1 1 2 2-1 2 0 2-1 1-2zM419 150l1-1 1 1 0 2 0 2-1 2 1 2 1 1 0 1 2 2 1 2-1 0-1 2-1 0-2 1-2-1-2 0-1 0-1 0-2-1-2-1-1 0-1 0-2 0-1 0-1 0-1 2 0 2 0 2-1 1-1-1-1-1-2-1 0-2 2-1 2-1 1-2 1-2 0-1 1-1 1 0 2-1 2-1 2-1 1-1 1 0 2-1 1-1 1-1zM412 159l-1 1 0 2 1 0 2 2 2 0 1-2-1-2-2-2zM437 150l1-1 2 1 0 2 2 2 1 0 1 0 2 2-2 1-2 0-2 0-2-1-1-2-1-2zM363 154l1-1 2 1 2 0 1 0 1-1 2 0 1 1 1 2 1 0 1 1 2 0 1 1-1 2-2-1-2 1-1 2-1 1-2-1-2-2-1 0-1 0-2-1-1-1-1-2zM0 156l0-1 2 0 1 1-1 1-1 1-1 1 0-1zM464 156l2-1 0 1 0 2-1 0zM440 162l2 0 2 0 2 1 1 1-1 1-1 1-1 2 0 2 0 1-2-1-1-2-1-2 0-2zM380 164l2 0 2-1 2-1 1 2 0 2 0 2 1 2 1 0 1 0 1 0 1 0 1 2-1 2 0 2-1 2-1 1-2 0-1-1-1 0-2-2 0-1-1-1-1-2 0-1 0-1 0-2-1-2zM457 164l1-1 2-1 2 0 2 1 1 1 1 1 1 1 0 2 0 2 1 1 1 1 1 1 1 1 0 2 0 2 0 2 1 1 1 1 0 2 1 1 2 1 2-1 2-1 2-1 2-1 2-1 2-1 2-1 2-1 1 0 1 0 1 0 0 2-1 1-2 1-1 0-1 0-2 2 0 2 0 2 2 2 2 0 2-1 2-1 2 0 2 1 2 1 1 0 1 0 1 0 0-2 0-2 1-1 2 0 2 1 1 2-1 2-2 1-1 1 1 1 2 1 1 0 1 0 2 2 0 1 0 1 0 2 2 1 2 0 2 1 0 1 1 1 1 2 0 1 0 1-2 1-1 1-1 1-1 1-1 2-2 1-2 0-2 1-2 1-2 0-2 0-1-1-1 0-2-1-1-1-1-2-1-2-1-2-1-2-1-2 1-2-1-2-2 0-2 1-1 1-1 0-2 0-2 0-2 0-2 1-2 1 0 1 0 1-2 1-2 1-1-2 1-2 2-1 1-1 1-2 2-2 2-2 1-2 0-2 0-2-1-2-2-1-2 0-2 1-2 1-1 1-1 1-1 1 0 2 0 2 0 2-1 2-2 1-1 1-1 1-2 0-2 0-2 1-1 0-1 1-2 1-2 1-2 1-2-1-1-1-1-1-1-1 1-1 2 0 2 0 2-1 2-2 2-2 1 0 1-1 0-1 2-1 1-1 1 0 2-1 1-1 1-2-1-2-1-1-2 0-2 0-2 1-2 1-1 1-1 1-1 1-1 1-2 1-2 1-1 1-1 1-2 1-2 2-2-1-1-1 0-2-1-2 0-2 0-1-2 1-2 2-2 0-1-2-1-2 0-1-2-1-2-2-2-2-2 0-2 1-2 0-2 1-2 2 0 2-2 1-2 0-2-1-2 2 1 2-1 1-1 1-1 0-2 1-1-1 0-2 1-2 2-2 2-2 1-2-1-2-2-2-2-1-1 1-1 0-2 1-1-1 1-1 2 0 0-1 2-2 0-2 0-2 0-2 2 1 1 1 1 1 1 1 1 1 2 1 2 0 2 1 2 0 1-1 1-2 0-1 1-1 1-1 2 1 2 0 2-2 1 0 1-1 1 1 1 1 0 1 2 2 0 1 1 1 1 1 1 1 1 1 1 1 1 2 0 2 0 2 0 2 2 1 2 0 2 0 2 0 1-1 1-1 1-1 0-2 0-2-1-1-2 0-2 0-2-1 2-2 1 0 1-1 1-1 1-2 1 0 1 0 2 0 2 2 1 2 1 1 2-1 1-2 1-1 2-1 1-2-1-1-2-1-1-2-1-1-1-1-1-1-1-1zM466 180l-2 1-1 1 1 2 1 0 1-1 1-1zM468 193l-2 1-2 1-2 1-1 2-1 1-1 1 1 0 2 1 2 1 2 0 2-2 2-2 0-2 0-1-1-1zM490 192l-1 0-1 0-2 0-1 2-1 2-1 2 0 2 1 0 2 1 2 0 2-1 2-2 2 0 2-2 2-2-1-2-1 0-2-1-2 1zM502 195l-2 1-2 1-1 1 1 1 2 0 2 0 2 0 2-1 0-2-2-1zM508 199l0 1-2 1-2 1-2-1-2 0-2 0-2 1 0 1 0 1 0 1 0 1 2 2 2 2 2 0 1 2 1 2 2 1 2 1 2-1 2-1 2-1 1-1 1-1 1-1 1-2 1-2-1-1 0-1-2-1-2 0-2 0-1-1-1-2 0-2zM412 180l-1 0-1 1 0 1 0 2 2 2 1 0 1 1 1-1 0-2 0-2-1-2-1 0zM428 175l-2 1-2 0-2 1-1 1 0 2 0 2 1 1 2 0 2-1 1 0 1 0 1 0 1 2 0 1 1 1 1 0 2 1 2 0 1-1 1-2-1-2-1-1-2-1-2-2 0-1-1-1-1-1zM442 194l1 2 1 1 2 0 2-1 0-1 0-1-2-1-2-1zM452 178l-1 2 1 1 2 0 0-1zM470 168l2-2 2 1 1 1-1 1-2 0zM366 170l0-1 2-1 2 2 0 2-2 1-2-1 0-1zM71 194l1 0 2-1 1 1 1 1 1 1 1 1 2 1 0 2-2 1-1 1-1 0-2 1-2 0-1-1-1-2-2-2-1-2 1-1 2-1zM47 200l1 0 2 0 2 0 2 0 1 0 0 2-1 1-2 1-2-1-2 0-1-1zM526 200l2-1 2 1 2 2-1 2 0 2 1 1 2-1 2 0 1 2 1 2-1 2-1 1-2 0 0 1 0 2 0 1 0 1 1 2 1 1 2 1 2 0 1 0 1 0 2 0 0 2 0 2 1 2-1 2-2-1-2 0-2-1-2 0-2 0-2 1-2 0-2-1 2-1 2-1-2-2 0-1-1-1-1-1-2 0-1 1-1 1-2 1-2 0-2 1-2 1-2-1-1-1 0-2 1 0 2-2 1-2 1-2 2-2 2-1 2 0 2 0 1-1 1-2-1-2-1-1-1-1-1-1 0-1 0-2zM528 214l-1 0-1 1-1 1-1 1-2-1-2 0-2 2-1 2 1 1 2 1 2 0 2-2 2-1 2 0 1 1 1 0 2 2 0 1 0 1 2 2 2 1 2 0 2 0 2-1-2-1-1-1-1-1-2-1-1 0-1-1-1-1 0-2-1-2-1-2-1-1zM228 202l2-1 2 0 2 0 1 1-1 0-2 1-2 0zM504 206l0-1 1 1 0 2-1 1-1-1zM43 208l1 0 2 0 2 2 2 2 1 0 0 2-1 2-2 2-1 0-1 2-2 2-2 1-2 0-2 0-2-1-2 0-2 0-2 1-2 0-2 1-2 0-2 0-2 0-1 0-1 0-1-2 1 0 2-1 2 0 2 0 2-1 2 0 2 1 1-1 1 0 2-2-1-2 0-2 1-2 1 0 1 0 2 0 2-2 2-2zM44 211l-1 1-1 0-2 1-2 1-1 0 0 2 1 1 2 1 2 0 2-1 2 0 1-1 1-1 0-1 0-1-2-1zM489 208l1 0 2 2-2 2-2 0 0 1-1 1-1 0-1 0 0-2 1-2 2-1zM0 212l1 0 1 1 2 1 2 0 1 0-1 0-2 1-2 0-2 0 0-1zM15 212l1 0 2-1 2 0 2 0 2 1 1 0 1 2 1 0 0 2-1 0-2 0-2 0-2 1-2 0-2-1-1 0 0-2zM337 212l1 0 2-1 2 0 0 1-2 1-2 1zM458 214l2-2 2 1 0 1-2 2-1 0-1 1-1 1-1 1-1-1-1 0-1-2 1-1 2 0zM437 224l1-1 2 0 2 1 2-1 2 0 2 0 1 1-1 1-2 0-2 1-2 2-2 1-2 0-1 1-1 1-2 1-1 0 1 0 1 2 0 2 1 0 2 0 2 1 2-1 2-2 1-2 1-2 2-1 2 0 2 0 2-1 2-1 2-1 1 0-1-2 2-1 1 1 1 1 2 0 1 1-1 2-2-1-2 0 0 1 2 0 2 0 1 2 1 1 2 0 2 0 2 1 1 0 1 0 2-1 1-1 1-1 2 0 2 0 1 1 0 2-1 1-1 1-1 1-1 1-1 1-2 1-1 0 1 0 2 1 2 0 2 0 2 0 2 0 2-1 2 0 2 0 2 0 1 2 1 1 2 0 2 0 1 1 1 2 2-1 2-1 2 2 2 1 2 0 1 1 1 1 2 0 2 0 1 1 1 0 2 0 2 1 1 1-1 2-1 0-1 1-1 1 1 2 2 0 2-1 2 0 2-1 2-1 2-1 2 0 2-1 1-1 1-2 0-2 2-2 2 0 2 0 2 0 1 2-1 2-2 1-1 1-1 0-2 1-1 1-1 1-2 1-2-2 0 2 2 0 2 0 1 2 1 1 2-1 2 0 2 2 0 1 2 0 1 1-1 0-2 1-2-1-2 0-2 0-2 1-2 0-2 0-2 0-2 1-1 0-1 1-2 0-1 1-1 0-2 2-2 1-1 1-1 0-2 1-2 0-2 0-2 0-2 0-2 0-2 1-2 0-2-1-2 0-2 0-1 1-1 0-2 1-2 0-2 0-2 1-1 0-1 0-2 0-2 0-2 1-2-1-2 0-2 1-2 0-2 1-2 0-2 0-2 0-2 0-2 0-2-1-2 0-2-1-1 0 1-1 1-1 1-1 2-1-2-1-2 1-2 0-1 2-1 1-2 0-2 0-2 0-2 0-2 0-2 0-2 0-2 0-2-1-2 0-1-2 1-2-2-1-2-1-2 0-2-1-2-1-2 0-2-1-2 0-2 0-2 0-2 0-2-1 2-1 2-1 1 0 1 0 2-1 2-1 1 0 1 0 2-1 2 0 2-1 2-2 2 1 2 1 2-1 1-1-1-1-1-1-1-1-2 0-2 0-1-1-1 0-2-1-2 0-2 0-2 1-1 0-1 0-2 1-2 0-2 0-1-1 1-2 2-2 1-2-1-1-1-1-1 0-2 0-2 0-2 1-2 0-1 1-1 2 0 2 0 1-1 1-1 2-2 1-2 0-2 0-2-1-1-2 1-2 2-1 1-1 0-2 1-1 1-1 1 0 2-1 2 0 2 0 2-1 2-2 2-2 2 0 2 0 2-1 2 0 2-1 1 0-1 0-2-1-2-1-2 0 2 0 2-2 2-1 2-1 2-1 2 1 2 0 2-1 2 0 2 0 2-1 2 0 2 0zM456 229l-2 1-2 1-2 1 2 2 0 2 2-1 0-1 2-1 1-1 1-1 2 0 2 0 2 0 0-1-2-1-2 0-2-1zM470 232l-1 2 1 1 2 1 2 0 2 0 2-2-2-1-2 0-2 0zM514 250l-1 0 0 2 1 0 1 0 1-2zM520 264l-2 1-2 0-1 1 1 1 2 0 2 0 1-1zM532 256l-2 0-2 1-2 1-1 2 1 0 2 1 2 0 2-1 1 0 1 0 2-1 2 0 2 0 2-1 2 1 2 0 1-1-1-1-2 1-2 0-2-2-2 0-2 0-2-1zM430 226l-2 2-2 0-2-1-2 0-2 0-2 1-1 0 1 1 2 1 2 0 2-1 2-1 2 0 2 1 2 0 2 0 2-1 1-2-1 0-2 0-2 0zM460 233l-2 1-1 2-1 1-2 1-2 1-2 0-2 0-2 1-1 0-1 1-2 1 2 0 2 1 2 0 2 0 2-1 1 0 1 0 2-1 2 0 2 0 2-1 2-1 2-1 2 0 1 0-1-2-2-1-1-1-1-1-2 0zM420 234l-1 0-1 2-2 0-2 0 2 0 2 0 2 2-2 1-2 0-2 1 1 2 1 1 2 0 2 0 2 0 1-1 1 0 2-1 1-1 1-1 1-1 0-2-1-2-2-1-2 0-2 0zM466 240l-2 0-2 1-2 1-1 0-1 0-2 1-2 0-2 1-1 0-1 0-2 1-2 0-2 0-2-1-2 0-2-1-2 1-1 0-1 1-2 1 2 2 1 0 1 0 1 0 1 0 2 0 2-1 2 0 2 1-1 2-1 1-1 1-1 1-2 0-2 1-2 0-2 1-2 1-2 0-1 0-1 0-2 1-2 1 0 2 2 1 1 1 1 0 2 1 1 1 1 0 1 0 1 0 2-2 2-1 2 0 2-1 2-1 2-1 1 0 1 0 2-2 2-2 2-2 1 0 1 0 2-1 2 0 2 0 2-1 1 0 1-1 2-1 1-2 1 0 2-2 2 0 2 0 2 0 2 0 1 0 1 0 2 0 2 0 2-1 2 0 2-1 1 0 1-1 0-1-2 0-2 0-2 0-1 0-1 0-2 0-2 0-2 0-2 1-2 0-2 0-2-1-1 0-1 0-2 0zM430 242l-2 0 2 2 2-1 2-1 1 0-1 0-2 0zM450 260l-1 0 1 2 2-1 2-1 1 0-1-1-2 0zM456 262l-2 1-2 1 2 1 2 0 2 0 2-1 1 0-1 0-2-2zM492 244l-1 0-1 1-2 0-2 1-2 0-2-1-2 1-1 0-1 2 1 2-1 2-2 1-2 1-2 2-2 0-2 1-2 0-2 0-1 1-1 1-1 1 1 1 2 0 2 0 2 0 2 0 2 0 2-1 2-1 2 0 2 0 2-1 1 0-1-2 2-1 1-1 0-2 0-2 1-1 2-1 2 0 2-1 2-1 1 0 1 0 2-1 2 0 2-1-2 0-2-1-2 0-2 1zM460 270l-1 0 1 1 1 1 1 0 2 0 2 0 1-2-1 0-2-1-2 0zM476 262l-2 0 2 1 2 0 1-1-1-1zM482 263l-1 1-1 1-2 0-1 1 1 2 2 0 2-1 2 0 2-1 1 0 1-2-2 0-2-1zM494 254l-1 0-1 1-1 1-1 1-1 1 0 2 0 2 0 2 1 0 1 0 1 0 2 0 2 1 2 1 2 1 1-1 1-1 2-1 2 0 2 1 2 1 2-1 2-1 0-1 1-1-1 0-1-2-1-1 0-1-2-2-2-1-2-1-2 0-2 0-2-1-2 0-2 0zM554 224l2 0 1 0 1 2 0 2 1 2 1 1 2 1 2 0 2 2 1 2-1 1-2 1-2 2-2 1-2 0-2-1 1-2 1 0 2-2-1-2 0-2-1-1-2 0-2 0-2 0-1-1-1-1-1-1 1-2 2-1zM554 225l-2 1-1 2 1 1 2 1 2 0 1-2-1-2-1 0zM506 226l1 0 1 2-2 2-1-2zM46 228l2 0 2 2-1 2-1 0-2 1-2 1-1 0-1 0-2 0-2 0 2-2 2 0 2-2zM64 228l2 0 1 2-1 1-2-1-1 0zM80 228l2-1 2 1 1 0-1 0-2 2zM318 230l2 0 0 2-2 1-2 0-1-1 1-1zM543 232l1-1 1 1 0 2-1 1-2-1 0-1zM274 236l2-1 2 0 2 0 2 0 2 0 2-1 2 0 2 0 2 1 1 1 0 2 1 2 2 2 2 0 2 0 2 0 2 0 2 0 2-1 2 0 2 0 2 0 2 1 1 0 1 1 2 0 2 1 2 0 2 0-2 1-2 0-2 0-2 0-2 1 2 1 2 0 2 0 1 1-1 1-1 1-1 1-2 1-2-1-2 0-2 0-2-1 1-2 1-2-2-1-2 0-2 0-2 1 2 2 2 2-2 1-2 1-2 1-2 0-2-1-2 0-2 0-2 1-2 0-2 0-2 1-2 0-2 0-2 0-2 1-2 0-2 0-2-1-2 1-2 0-2 1-2 0-2 1-2 0-2 0-1-1 1-1 1-1 1-1 1-1-1 0-2-1-2-1 2-2 1 0-1 0-1-2-1 0-2-1-2 0-2 0-2 1-2 0-2 0-2 0-2 1-2 0-2-1-2 0-2 0-2 1-2 0-2 0-2 0-2-1-2 0-2 1-2-1-2 0 2-1 2 0 2 0 1-1 1 0 2 0 2-1 2 0 2 0 2-1 1 0 1 0 2-1 2 0 2 0 2-1 2-1 2-1 2 0 2 1 2 0 2 0 2 0 2 0 2 0 2-1 2 0 2 0 2 0 2-1 2 0zM276 238l-1 0 1 1 2 1 2-1 1-1-1 0-2-1zM284 242l-2 1-2 0-2 0-2-1-2 0-2 1-2 0-1 1-1 1-2 0-2 0-2 1-1 0 1 1 2 0 2 0 2 0 2 0 2 0 2 0 2 0 2-1 1 0 1 0 2-1 2 0 2 0 2-1 1 0 1-1 2-1-2 0-2 0-2 0zM244 242l2 1 2 0 2 0 1-1-1-1-2 0-2 0zM270 250l-1 0-1 1-2 1 2 1 2 0 2 1 2-1 1-1 0-2-1 0-2-1zM282 248l-2 0 0 2 2 2 2 0 2 0 2 0 1 0 1 0 2-1 2 0 2 0 2 0 2 0 1-1-1-2-1 0-1-1-2 0-2 0-2 0-2 0-2 0-2 0-2 0zM352 238l2-1 2 0 2 1 2 2 0 2-2 1-2 0-2 1-1 0-1 0-2 1-2-1-2 0-2 0-2 1-2 1-2 1-2 0-2-1-2-1-2-1 2-1 1-1 1 0 2 0 2 0 2 0 2 0 2 0 2 0 2-1 2-1zM367 240l1 0 2-1 2 0 2 1 0 2-2 1-2 0-2 0-2 0-1-1 1-1zM524 242l2 0 1 0 1 1 2 1-2 2-2 0-2-1 0-1zM576 244l2-1 0 1 0 2-1 0-1-1zM357 248l1 0 2 0 2-1 2 0 2 0 2 0 2 0 2 0 2 0 2 1 1 0-1 1 0 1-2 1-2 0-2 1-2 0-2 0-2 1-2 0-2 1-1 0-1 2-2 1-1-1-1-2-2-1-1-1 1-2 2-1 2-1zM356 250l2 2 2-1 2 0 2 0 2 0 2-1-2-1-2 0-2 0-2 0-2 1zM562 250l2-1 2 0 2 1-2 2-2 0-2 0-2 0-2 0 2 0zM579 252l1-1 2 1-1 2-1 0-2 1-1-1 1-1zM318 256l2-1 2 1 2 0 2 1 2 0 2-1 2 0 2 0 2 1 2 1 1 0-1 2-2 1-2 0-2 0-2 0-2 1-2 0-2 0-2 0-2 0-2 0-2 0-2-1-2 0-2 0-2 0-2-1 2-1 2 0 2 0 1-1 1 0 2-1zM504 260l1 0 0 2-1 1-2-1zM558 266l2-1 2 0 2-1 2 0 2 1 2 1-2 1-2 1-2 2-2 0-1 0-1 0-2 0-1 0-1 0-1 2-1 1-1 1-1 0-2 1-2 0-2 0-2 0-2 1-2 2-2-2-1-2-1 0-2-1-2 0-2 0-1 1-1 0-2 1-1 1 1 1 1 1-1 1-2 1-1 0-1 0-2 0-2-1-2-1 2-1 2-1 2-2 2-1 2 0 1-1 1 0 2-1 2-1 2-1 2-1 1 0 1 0 2 0 2 0 2 0 2-1 2 0 2 0 2 0 2 0 2 0zM583 266l1 0 2 0 2 0-1 2-1 2-2 0-1 0-1-2-1 0 1-1zM497 276l1-1 2 0 2 0 2 0 1 1-1 0-2 1-2 0-2 0zM589 276l1 0 2-1 2-1 2 1 2 1 1 0-1 1-2 1-2 0-2 0-2 2 0 1 0 1 2 2 2 0 2-1 2-1 0-1 1-1 0-2 1-1 2 0 2 0 2 0 1 1 1 1 2 0 2-1 2-2 0-1 1 1-1 2-1 2-1 1-1 1-1 1-1 1-1 1-2 1-1 0-1 0-2 1-2 0-2 1-1 0-1 0-2 0-2 1-1 1-1 1-1 1-1 2-2 1-2 0-2 0-2-1-2 0-2 0-2 0-2 0-2 0-2 0-2 0-2 0-2-1-2-1-2-2-1-2-1-1-2 0-2 0-2 0 0-1 0-1 1-1 1-1 1-1 1 0 2-1 2 0 2-1 2-1 2-1 1 0 1-1 1 1-1 2 0 2 2 2 2-1 2 0 2-1 2-1 2 0 2 0 2 0 2-1 1 0 1-1 1-1 1-1zM574 284l-2 1-2 1-2 2-1 0-1 1-2 1-1 0 1 0 2 2 2 0 2 0 2 0 2 0 2-1 2 0 2-1 1 0 1 0 2-2 0-1 2-1-2-2-2 0-2-1-2 0-2 0zM535 284l1 0 2-1 2 1-2 1-2 0z"/>
<path fill="#a6da70" fill-rule="evenodd" d="M0 0l2 0 2 0-1 2-1 1-2 0 0-1zM36 0l1 0 0 2 1 0 1 2 1 2-1 2-1 1-2 0-1 1-1 1-1 1-1 1-2 1-2 2-1 0-1 0-2-2-1 0-1-2-2 0-2 1-2 0-2-1 2-2 2-1 1-1 1-1 1-1 1-1 2-1 2 0 1 0 0 2 0 2-1 2 0 2 2 1 1-1 1-1 0-1 2-2 2-1 1-1 0-2 0-2zM39 0l1 0 2 0 2 0 1 0 0 2-1 1-2-1-2-2zM87 0l1 0 2 0 1 0 1 0 2 1 2 1 2-1 2 0 2-1 2 0 2 0-2 2-2 2-2 0-2 0-2 0-2 0-2 0-2 0-2 0-2-2zM144 0l2 0 0 2 1 2 1 1 2-1 1-2 0-2 1 0 2 0-1 2-1 2-1 2-1 1-2 0-2-1-2-2-1-2zM194 2l2 0 2-1 2 1 1 0 1 2-2 1-1 1-1 0-1 2 1 2 1 2 1 2-1 2-1 2 0 2 0 2-2 2-2 2-1 2-1 2-1 2-1 2 0 1-1 1-1 1-2 1-2 2 0 1-1 1-1 2-2 2-1 0-1 2-2 1-1 1-1 1-2 1-2 1-2 1-2 1-1 1-1 1-2 0-1-1 0-2-1-2-2-1-2 1-2 2 0 2 2 1 2 1 1 2 0 2 1 2 0 2 0 1-1 1 0 2-1 2-2 2-2 2-1 0-1 0-2-2-2 1-1 1 0 2 0 2 0 2-1 0-2 1-2-1-1-2-1-2-1 0-1 0-2 0-2-1-2 0-1-1 0-2 1-1 1-1 1-1 2-1 1-2 0-2-1-2 2-2 2-1 1-1 1-2 0-1 1-1 1-1 1-1 1-1 1-1 1-1 1-1 1-1 2-1 2-1 2-1 2-1 0-1 2-2 2-2 1-2 1-1 1-1 1-1 2-1 2-2 1-2 1-2 2-1 2 0 1-1 0-2-1 0-2 0-2 1-1-1 0-2 1-2 2-2 2-2 2-2 1-2 1-2 1-2 1-2 1 0 1-1 2 0 1-1 1 0 2-1 2 0zM138 71l-2 1-2 2 1 2 1 0 2 0 2-2-1-2zM142 72l2 2 1-2-1-1zM144 58l-1 2 0 2 0 2 0 2 1 2 2 1 1 1 1 1 2 0 2 1 2 2 2-2 1-2-1-2 1-2 0-2 0-2-1-2 0-1-2 0-2 0-2 0-2-1-1 0-1-1zM190 6l-2 1-2 0-2 0-2 1-1 2-1 2-1 2-1 2-2 2-2 2 2 2 2 0 1 0 1 2-1 2-1 2-1 0-1 1-2 1-1 2-1 1-2 1-2 1-1 1-1 1-1 1-1 2-1 2 1 1 1-1 1 0 2-1 2-1 2-2 1-2 1-1 1-1 1-1 2-1 2-1 2-1 2 1 1 1 0 2 1 1 2 0 1-1 1-2 1-2 0-2 1-1 1-1 1-1 1-1 1-2 0-2 0-2 1-2 0-2-1-2 0-1-1-1-1-2 0-1-1-1-1 0zM180 40l-1 0-1 1-2 1-2 0-2 0-2 1-1 1-1 0-1 2-1 2 0 2 2 1 2 0 2-1 1 0 1-2 0-2 2-1 1-1 1-1 2-1zM204 0l2 0 2 0 1 0-1 1-2 1-2-1zM206 4l0-1 2 1 2 2 0 2-2 1-2 1-2-1 0-1-1-2 1-1zM217 4l1-1 1 1 1 1 1 1 0 2 0 2-1 2-1 0-1 0-2 1-2 0-1-1 0-2 1-2 1-2 1-2zM152 8l2-1 2 0 2 1 1 0 0 2-1 2-2 1-1 1-1 0-2 2-2 2-1 2 0 2-1 2-1 2-1 1 0 1-1 2-1 1-1 1-1 1-1 1-1 0-2 2-1 0-1 1-2 1 0 1-1 1-1 1-2 1-2 2-2 1-2 1-2 0-2 2-1 2-1 2-1 2-1 2-2 2-2 1-2 1-1 0-1 0-2 1-2 0-1 1-1 1 0 1-1 2-1 1-1 1-1 1-1 1 0 2 1 1 1 1-1 2-2 1-1-1 0-2-1-1-2 0-2 0-1 1 0 2 1 1 2 1-1 2-1 2-2 2-2 1-2 0-1 1-1 1-2 1-2 1-2 1-1 0-1 0-2 1-1-1 0-2 0-2 1-2 0-1 2-1 0-2 0-2 0-2-2-2 0-1-1-1 1-2 0-1 1-1 1-1 2-1 2-1 1-1 1-1 1-1 1-2 0-1 1-1 1 0 1 0 1 0 2 1 2 0 2-1 2-2 0-1 2 0 2 1 2 2 0 1 0-1 1-2 0-2 0-2 0-2-1-2-1-2 1-2 1 0 1-1 1-1 1 0 2-1 2 0 2 0 2-1-1-2-1-2 0-2 1-2 1-2 2-1 2 0 2 0 2-1 2-2 2-1 1-1 1-1 1-1 1-2 2-1 2 0 2 0 1-1 1-1 1-1 1-1 2-1 1 0 1-1 2-1 2-1 2 0 1-1 1-1zM154 10l-2 1-2 1-1 0-1 1-2 0-2 1-1 0-1 1-2 1-1 0-1 1-1 1 0 2-1 2-2 0-1 0-1 0-2 2-2 1-1 1-1 1-2 1-2 1-1 1-1 1-2 1-2 0-1 2 1 0 2 0 2-1 2 0 2-1 2 0 1 2 1 2 0 2 0 1 2 1 2-2 2-2 1 0 1-1 2-1 1 0 1-1 2-1 0-1 1-1 1-2 0-1 0-1 2-2 1-2 1-2 0-1 0-1 1-2 1-1 1-1 1-1 2-1 2-2zM76 81l-2 1 2 2 2-1 1-1-1-1zM82 73l-1 1-1 2 2 1 2 0 1-1 1-2-2-2zM86 62l-1 2 1 0 2 2 1 0-1 2 0 2 2 1 2 0 1-1 1-1 1-1 1 0 2-2 1-2-1 0-1 0-1 0-2 1-2 1-2-2 0-2-2-1zM104 48l-1 2 1 2-1 2 1 2 0 1 1 1 1 1 2 0 2-1 2-1 1-1 1-2-1-2 0-2-1 0-2-1-1-1-1-1-2-1zM120 36l-1 0-1 0-2 1-2 1-2 2 0 2 1 2 1 0 2-1 2-1 1 0 1 0 2-1 2-1 2-2-1-2-1-1-2 0zM118 44l-2 2-1 2 1 1 2-1 2-2 2-2-2 0zM86 14l2-1 2 0 2 1-2 2-2 0zM62 16l2 0 1 2-1 1-2 1-2-2zM74 20l2-1 2 1-2 2-2 1-1-1zM220 22l2-1 1 1 0 2 0 2 0 2 1 2 1 2 1 1 1 1 1 1 1 1 1 0 2 2 0 1 0 1 0 2 0 2-2 2-1 0-1 1 0 1-1 2-1 2-1 2-1 2 0 2-1 2-1 2-1 2-1 1-2 1-1 2-1 1-1 1-1 2-1 2 0 2-1 1-2 0-2 0-2 1-1 0 0 2 0 2 0 2-1 2 0 1-1 1-1 2-1 0-1 1-1 1 0 2-1 1-2 0-2 0-2-1-2 0-2 0-2 1-1 1 0 2 0 2-1 2-2 2-2-1-2 0-2 1-2 2-1 0-1 0-2 0-2 1-1 1-1 1-2 0 0-1 0-1 1-1 1-2 0-1 1-1 1-1 2-1 2-2 1-2 0-2 1-1 2-1 0-1 1-1 1-2 0-2 0-2 0-2 0-2 0-1 2-1 2 1 2 0 2 0 2 0 2 0 2 0 2 1 2 0 2-1 1-1 1-1 0-1 0-2 0-1 0-1 0-2 0-2-2-2-2 1-1 1-1 2-2-2 0-2 0-1 2-1 1 0 1 0 1-2 1-2 0-1 0-1 1-2 1-1 2-1 2-1 2 0 1-1 1-1 1-1 1-2 0-1 0-1 0-2 0-1 0-1 0-2 1-2 1-1 1-1 1-1 1-1 0-2 1-1 1-1 0-2 1-1 1-1 0-2zM174 99l0 1 0 2 2-1 2-1-2-1zM180 82l0 2 2 2 0 2 0 1 0 1 2 1 2 1 2-2 0-2 0-1-1-1-1-1-2 0-2-1zM218 31l0 1-2 2 0 1-1 1-1 2-1 0-1 1 0 1-1 2 0 2 1 2 0 2-1 2-1 0-1 2-1 1-1 1-1 0-2 1-2 1-1 0-1 2 1 2 1 2 0 1 0 1 0 2 0 2 0 2 0 2 0 1 0 1 2 2 2-1 2 0 2 0 1-1 1-2 1-2 1-1 1-1 1-1 1-1 1-1 1-1 1-1 1-1 1-2 0-2 0-2 1-2 1-2 1-2 1-2 1-2 1-2 1 0 1-2 0-2-2-1-2-1-1 0-1-1-1-1 0-2-1-1-1-1-1-2zM202 79l-1 1-1 0-1 2-1 2-2 0-2 0-1 0-1 0-1 2 1 2 1 2 1 1 1-1 1-1 2-1 2-1 2-1 0-2 1-2-1-2zM63 28l1-1 2 0 1 1 1 1 1 1 1 1 2 0 0 1-2 2-2 1-2 1-2-1-1-1-1 0-2 0-1 0 0 2-1 2 0 1-1-1 0-2 1-2 0-1 1-1 1-1 0-1 2-2zM5 30l1-2 1 2 1 2 0 2-2 1-2-1-1 0 0-2 1-1zM13 30l1-1 2 0 2 1 1 0 1 1 1 1-1 2-2 2-2 2-2 1-2-1-1 0 0-2 0-2 0-2 1-1zM80 38l2 0 2 2-1 2-1 1-2 0-1 1-1 0-2 2-1-2 0-2 1-1 1-1 1-1zM47 42l1 0 1 0 1 0 1 2 1 2 1 2 1 2 0 2 2-1 2-1 2-1 1-1 1-1 1-1 1-2 1-2 1-1 2 1 2 2 0 2-2 2-2 2-2 1-2 1-1 0-1 2 0 2-2 1-2 0-2 0-2-1 0-1-2-1-1 0-1-1 0-1 0-2-1-2-1-1-1-1 1-2 0-1zM38 48l2-1 1 1 0 2-1 1-2 0 0-1 0-1zM12 50l2 0 1 2-1 2 0 1-2 0-2-1 0-2zM21 50l1-1 2-1 2 1 0 1 0 2 0 1-1 1-1 2-2-1-2 0-2-1 0-1 0-1 2-2zM250 54l2 0 2 1 2 1 2 2 2 1 2 0 2 0 2 1 1 2-1 2 0 1 0 1-1 2 0 2 0 2 0 2-1 1-2 1-2 0-2 0 0 2 0 2-1 2-1 2-2 2-1 2-1 1-1 1-1 1-1 1-1 2-1 2-1 2-1 0-1 1-1-1-1-1-2 0-1 1 1 1 1 1 1 2 2 2-2 2-1 2-1 1-1 1-1 1-2 1-2 1-1 1-1 1-1 1-1 2-2 2-1 0-1 1-2 1-2 0-2 1-2 1-2 2-2 1-2 1-2 1-2-1-1 0-1-1-2 0 0 1-1 2-1 2-1 2-1 1-1 1-1 1-2 1-2 1-2 1-2 1-2 1-1 0-1 1-1 1-1 1-1 1-1 1-2 1-2 0-1 0-1 0-2 0-2 0-2 0-2 2-2 1-1 1-1 1-2 0-1-1 1-2-2-2-2 1-1 1 0 2 0 2 0 2-1 1-2 1-2 1-2 1-2 1-2 0-2 0-1-1-1-1-2-1-2 1-1 1 0 2-1 2 0 1-1 1-1 0-2 0-2 0-2 0-1 0-1-1-2 0-1 1-1 2-2 2-2 1-1 1-1 1-2 1-2 1-2 0-2 0-2 1-1 0-1 0-2 1-2 0-2 0-2 0-2 1-2 0-2 0-2 0-2 1-2 0-2 0-2 0-2 1-2 0-2-1-2 1-1 0-1 1-2 1-2 1-2 0-1 1-1 0-2 1-2 0-2 1-2 0-2 0-2 0-2 1-2 0-2 0-2 0-2 0-2 0-2 0-2 0-1-1 1-1 1-1 1-1 2 0 1-1 1 0 2-1 2 0 2-1 1 0 1 0 2 0 2-1 2 0 2-1 2 0 2-1 2-1 2-1 2 0 2 0 2 0 2-1 2-1 2 0 1-1 1 0 2 0 2-1 2-1 2 0 2-1 2 0 2-1 1 0 1 0 2-1 2-1 1 0 1 0 2 0 2-1 2 0 1-1 1-1 2 0 2-1 2-1 2-1 2 1 2 1 2 0 2-1 1-1 1-1 2-1 2 0 2-1 2 0 1-1 1-1 1-1 1-1 2 0 2 0 1-1 1 0 2-1 0-1 1-2 0-2 1-2 2-2 2 0 1 0 1 0 2 1 2 1 2 0 2 0 2-1 1-1 1-2 0-2 2-1 2-1 1 0 1-1 2-1 2-1 1-1 1 0 2-1 1-1 1-1 1-1 1-2 2 0 1 0 1 0 1 0 1 0 2-1 1-1 1-1 2 0 2-1 2-2 2-1 2-1 2-2 2-2 1-2 1-1 0-1 2-2 1-2 1-1 1-1 1-2 2 0 2-1 1-1 1-2 1 0 1 1 2 1 2 1 2 1 2-1 1-1 0-2-1-2-1-2 0-2 1-2 0-2 1-2 1-2 2-2 1-2-1-2 0-2 0-1 1-1 1-1 1-1 1-1 0-1 2-2 1 0 1 0 2 0 2 0 2 0 2-1 2 0 2-1 0-2-2-1-2 1-1 0-1 0-2-1-2-1-1-2 1-2 0-1 1-1 1-1zM250 56l-2 2 1 2 1 1 2-1 1 0 1-1 1-1-1-1-1-1-1 0zM54 180l-2 1-2 0-2 0-2 0-2 1-2 0-2 1-2 1 1 2 1 0 2 0 2 0 2 0 1 0 1-1 2 0 2-1 2 0 2 0 2 0 2-2 0-1-2-1-2 0zM116 162l-2 0-2 1-2 1-2 1-1 1-1 1-2 0-2 0-2 0-2 1-2 0-2 1-2 0-2 1-2 0-2 1-2 1-1 0-1 0-2 1-2 0-2 1-1 0-1 1-2 1-2 0-2 0-2 0-2 0-1 2 1 1 1 1 1 0 1 0 1 0 2-2 1 0 1-1 2 0 2 1 1 0 1 0 2 0 2 0 2 0 2 0 2-1 2 0 2 0 2 0 2 0 2 0 2-1 2 0 2 0 2-1 2 0 2-1 2 0 2-2 1 0 1-1 1-1 1-1 1-1 0-2 0-2-1-1zM132 161l-2 1 2 1 2 0 0-1 0-1zM152 143l-2 1-1 2 0 2 0 2 0 2 1 2 2 1 2 1 1-2 0-2 0-2 1-2 0-2-2-2zM188 128l-1 0-1 0-2 2-1 2-1 1-2 0-2 1-2 1-2 1-2 2-2 1-1 1 0 2 0 2 1 1 1 1 1 0 2 1 2 0 2 0 2 0 1-1 1 0 2-2 0-1 1-1 1-1 2-1 2-1 2-1 1 0 1 0 2-2 0-1 1-1 0-2 0-2 0-2-1 0-2-1-2 0-2 0zM206 119l-1 1 1 2 2 1 0 1 2 2 2 0 2-1 1-1 0-2-1-1-2 0-2 0-1-1-1-1zM244 69l-2 1-1 2-1 2 0 1-1 1 0 2 0 2-1 2-1 2-1 1-1 1 0 2-1 2 0 1 0 1 0 2 2 2 2-1 2-1 1 0 1 0 2-1 1-1 1 0 2-2 2-1 1-1 1 0 1-2 1-1 1-1 1-2 0-2 0-2 0-2 0-1 1-1 1 0 2 0 2-1 1-1 0-2-1-1-2-1-2 1-2 0-2 1-2 0-2 0-2 0-2-1zM236 101l-1 1-1 1-2 1-1 0-1 1-2-1-1 0-1-1-2 0-2 1-1 0-1 0-2 0-2 2-1 2-1 1-1 1-1 1 0 1 0 2 0 1 1 1 1 1 2 0 1-1 1-1 1-1 1-2 0-2 2 1 2 0 2-1 2-1 2-1 2 1 1 1 1 1 2-1 0-1-2-1 1-2 1-1 1-1 1-2zM222 113l-1 1-1 2 2 1 1-1 0-2zM226 115l-1 1 0 2 1 1 2-1 1-2-1-2zM268 54l0-1 2 0 0 1 0 2-2 1 0-1zM23 60l1-1 2 1-1 2 1 2 2 0 1 0 1 0 2 2-2 2-2 1-2 0-2 1-2 0-2 1-2 1-2 1-1 1-1 1-1 1-1 0-2 1-1-1-1-2 1-2 1-1 2-1 2-2 2-2 2 0 2 1 2 0 1-1 0-2-1-2zM273 70l1-1 2 1 1 2-1 1-2 0-1-1zM20 78l2-1 2 0 1 1-1 1-2 1zM108 80l2 0 0 2-2 0-1 0zM122 82l2 0 0 2 0 1-1 1-1 0-2 0-2 1-1-1 1-1 1-1 1 0zM43 84l1 0 2 0 1 2 1 2 1 2-1 1-2 0-2-1-2 0-2 1-1 1-1 1-1 1-1 1-2 1-2 0-2 1-2-1 2-1 1-1 1-1 0-1 1-2 1-2 2-1 2-1 1 0 1-1 2-1zM36 89l-1 1-1 1 0 1 2 1 1-1 1-1 1-1-1-1zM274 90l2-1 2 1 1 2 0 2-1 2 1 2 1 1 1 1 1 1 2 1 1 0 1 1 2 0 2 1 2-1 2 1-2 2-1 0-1 1-1 1-1 1-1 1-1 1-1 1 0 2-1 2-2 2-2 2-2 1-1 1-1 1-1 1-1 2-2 2-2 2 0 1-2 1-2 1-2 1-2 2-1 0-1 1-1 1-1 2 0 1-1 1-1 0-2 0-2 0-2 1-2 0-2 0-2 1-2 1-2 1-2 1 0 1-2 2-2 2-2 1-2 0-1 1-1 2-2 2-2 1-2 0-1 1-1 0-2 1-1 1-1 1-2 1-2 1-2 1-1 2-1 0-2 2-2 1-2 1-2 1-2 0-2 1-2 1-2 0-2 1-1 0-1 0-2 1-2 0-2 0-2 1-1 0-1 0-2 0-2-1-2 0-2 1-2 2-2 2-2 2-2 2-2 2 0 2-2 1-2 0-2 0-2 0-2 0-2 1-1 0-1 1-2 0-2 0-2-1-2 0-2 0-2 1-2 0-2 1-2 0-2 0-2 1-2 1-2 0-2 0-2 0-2 0 1-2-1-1-1-1 1-2 2-1 2-1 2 0 2 0 2 0 2-2 0-2 2-2 2-1 2-1 2 0 2-1 2 0 2-1 2 0 2-1 2-1 2 0 2 1 2 0 2-1 1 0 1 0 2-1 1-1 1 0 2-2 2 1 2 0 1 1 1 1 2 0 2 1 2-2 1-2 1-1 1-1 1-1 1-1 1-1 2 1 2-1 2 0 2 0 1-1 1-1 2-1 2-1 1-1 1-1 2-1 2-1 2 0 2 0 2 0 1-1 1-1 2-1 2-2 2-2 2-1 1-1 1-1 2-1 1 0 1-1 2 0 2-1 2-2 2-1 2 0 2 0 1-1 1-1 1-1 1-1 1-1 1-1 1-1 1-1 1-1-1-1-1-1 1-2 1 2 1 0 2 0 2-1 2-1 1 0 1-1 2-1 2-2 2-2 2-1 1-1 1-1 0-1 0-2 1-2 1-2 0-1 0-1 2-1 0-1 2-2 1-2 1-1 0-1 1-2 1-2 2-2 1-2 0-2-1-2 0-1zM276 99l-1 1-1 1-1 1-1 2 0 1-1 1-1 1 0 1-1 2-1 1-1 1-1 2-1 2-1 2 0 2-1 2-1 2-2 1-1 1-1 1-1 1-1 1-1 1-1 1-2 0-2 1-2 1-1 1-1 1-2 1-2 2-2 1-1 1-1 1-1 1-1 2-2 1-2 0-2 1-2 2-1 0-1 0-2 0-2 1-2 1-1 0-1 1-2 1-2 1-1 1-1 2-2 2 0 1-2 0-2 1-2 1-2 0-2 0-2 1-2 1-1 1-1 0-2 1-1 1-1 1-2 1-1 0-1 0-2 1-2 1-1 0-1 1-1 1-1 0-2 2 0 2 2 1 2-1 1 0 1 0 2 0 2 0 2-1 2-1 2 0 2 0 2-1 2-1 1 0 1 0 2-1 2-1 2-2 0-1 0-1 0-2 1-2 1-1 2-1 2 1 2 1 2-1 2-1 2-1 2-1 2-1 2-1 1-2 1-1 2-1 2-1 2-1 2-2 0-1 1-1 1-1 2-1 1 0 1-1 2-1 2-1 2 0 2 0 2 0 2-1 1 0 1 0 1-2 1-2 2-2 2-2 2-2 2 0 2 0 2-2 2-1 1-1 1-2 1-2 1-1 1-1 1-1 1-1 1 0 2-2 1-2 0-2 1-2 0-1 1-1 0-2-1-1 0-1-2-2-2-1-2-1zM144 178l-2 1-2 1-1 0-1 0-2 1-2 1-2 0-2 2 2 1 2 0 2 0 2 0 2 1 2 2 2 1 1-1 1 0 2-2 1 0 1 0 2 0 2 0 1 0 1 0 2 0 2-1 2-1 1-2-1-2-1 0-1-1-1-1-1 0-2-1-2 0-2 0-2 1-2-1-2 1zM53 92l1 0 2-1 2 0 2-1 2 1 2 1 0 1 1 1-1 0-2 2-2 1-2 1-1 2 0 2 0 2 0 2-1 2-2 2-1 2 1 1 2 1 1 0 0 2-1 1 0 1-1 2-1 1-1 1-1 1-2 1-2 0 2 0 2 0 2 1 1 1 1 2 1 2-1 2-1 0-1 0-2 1-2 1-1 2-1 2-2 0-2 0-2 0-1 2-1 2-2 2-2 0-2 0-2-2-2 0-1 2-1 2-2 2-2 1 0 1-2 1-1-1 1-2 2-1 0-1 1-2 0-2-1-1-2 0-2 0-1 1-1 1-2 0-2 0-1-1 0-2 1-2 1 0 1 0 2-1 2-1 2-1 2 0 2-1 2-1 0-1 2-2 0-1 2-1 2-1 1-1 1 0 2-2 2-1 1-1 1 0 2-1 1-1 1-1 0-1 1-2-1-1-2-1 1-2 1-1 1-1 1-2 0-1 0-1-2-1-2 1-1 0-1 1-2 0-2 0 0 1-2 2-2 2-2 2-1 0-1 2-2 1-2 0-2 0-2 0-2 0-2 1-1 0-1 1-1 1-1 1-1 1-1 1-2 1-1 0-1 0-2 1-1 1-1 1 0 1 0 2-1 2-1 2-2 1 0-1 2-2 0-2-1-2-1-2 0-2 2-1 1-1 1 0 2-2 1 0 0-2-1 0-2-2-1 0-1 0-2 0 0-2 0-1 2-1 2 0 2-2 2-2 1 0 1 0 2 1 1-1 1-2 1-2 1-1 2 0 2 1 2 0 2 0 2-1 2-1 1 0 1-1 2-1 2 0 2 2 2 1 1-1 1-1 1-1 1-1 1-1 1-1 2-1 2 0 1 0 1-1 1-1 1-1zM54 94l-1 0-1 2-1 2 1 1 2 0 1-1 1-1 1-1 1-2 1 0-1 0-2-1zM50 128l-2 0-2 1-1 1-1 0-2 1-1 1-1 2 2 1 2 0 2-1 2-1 1-1 1-1 1-1 1-2zM36 131l-1 1-1 2-1 0-1 2-2 0-2 0-2 2 2 1 2 0 0-1 2-2 2 0 2 0 2-2 0-1 0-1 0-1zM42 124l-1 0-1 1-1 1 1 1 2 0 2-1 0-2zM28 104l-2 1-2 0-2 1-1 0-1 1-2 1-1 2-1 1-1 1-1 0-2 1-1 1-1 1-1 1-1 2 2 2 2-1 1-1 1 0 2-2 1 0 1-1 2-1 2-1 2 0 1 1 1 1 2 0 1-1 1-1 2-1 2-2 1-2 0-2 0-2-1-1-2-1-2 1zM46 98l-2 1-1 1-1 1-1 1-1 2 2 1 2-1 2-1 2-1 2-2-2-1zM52 105l-1 1-1 2 2 1 2-1 1-2-1-2zM52 116l-1 0-1 2-1 2 1 0 1 0 1-1 1-1 0-2zM137 96l1-2 2 0 1 2-1 1-2 1zM110 98l2 0 2 0 2 0 2 2-2 2-2 2-2 2 0 1-1 1-1 1-2 0-2 0-2 1-2 2-2 0-2 1-2 1-2 1-2 1-2 0-2 0-1 0-1 0-2 1-2 1-1-2-1-1-1-1-1-1-2 0-2 1-2 1-2 0-2 1-2 2-2 1-2 0-2-1 0-1-1-1 0-2 1-1 1-1 1-1 2 0 2 0 1-1 1-1 2-1 2-1 2-1 2 0 2 1 2 0 1 1 1 2 2 0 1 0 1 0 2-1 2-1 1-2 1-1 2 0 2 0 1-1 1 0 2 0 2-1 2-1 2-1 2-1 0-1zM110 100l-2 1-1 1-1 0-2 1-1 1-1 2 2 2 2 0 2 0 2-1 1-1 1-2 1-2-1-2-1 0zM64 114l-1 0-1 1 0 1 2 1 1-1zM72 109l-1 1-1 1 0 1 2 1 2-1 2-2 0-2-2 0zM150 98l2 1 2 0 2 1 1 0-1 2-2 1-1-1-1-1-2-1zM124 104l2 0 1 0-1 2-1 2-1 1-1 1-1 1-1 1-1 1-1 1-1 0-2 1-2 0-2 0-2-1 1-2 1-1 1-1 1-1 2-1 1 0 1-1 2-1 1 0 1-1zM116 110l-1 0-1 1-1 1 1 2 2-1 2-1 2-2-2-1zM150 104l2-1 1 1 1 2-1 2-1 2 0 2 2 1 2 0 1 1 0 2-1 2-1 0-1 1-1 1 0 2-1 2-1 2-1 2 0 1-1 1-1 2-2 1-2-1-2 0-2 1-2 1-2 0-2-2 0-2 2-2 2-1 2-1 2-2 0-1-1-1-1-1-2 1-2 1-2 1-2 0-1 2-1 1-2 0-2-1-2 1-2 0-1 1 1 2 0 2-1 2 0 2-1 1-1 1-1 1-2 0-2 1-1 2-1 1-2 1-2 1-2 0-2 1-2 1-2 0-2-1-1 0 1-1 2-1 2 0 2-2 1-2 0-2-1-2 0-2 2-1 2 0 2 0 2 0 1-1 1-2 1-2 1 0 2-1 1-1 0-2 0-2 1-2 1-2 1-2 2-1 2 0 2 1 0 1 2 1 2-1 1-1 1-1 2 0 2-1 2-1 1-1 1-1 1-1 1-1 0-1 2-1 1-1 1-1zM138 130l-1 0 1 2 2-1 2-1-2-1zM110 136l-1 0-1 2 0 2 0 1 2 0 1-1 1-2 0-1-1-1zM118 130l-2 2 0 2 2 1 1-1 1-2zM134 118l0 2 2 0 2-2-2-1zM275 114l1 0 1 0 0 2-1 2-1-2zM93 122l1-1 1 1 1 1 1 1-1 2-2 1-2 0-1-1 1-2zM304 122l2-1 2 0 2 0 2 0 2 1 0 2 0 1 0 1-1 2 0 2 0 2 0 2 1 1 0 1 2 2 1 2 0 2-1 2-2 2-1 2-1 1-1 1-1 2-1 2-1 1-1 1-1 1-2 1-2 1-2 1-1 2-1 1 0 1-2 2-1 0-1 1-2 0-2 0-2 1-1 0-1 1-2 1-2 1-2 1-2 0-2 1-2 1-2 1-2 1-2 1-2 0-1 1-1 0-2 2-1 0-1 0-2 0-2 0-2-1-1 1-1 0-2 1-1 1-1 0-2 1-2 1-1 0-1 0-2 2-2 0-2 1-1 1-1 0-2 1-2 1-2 0-2 1-2 0-2 1-2 0-2 1-2 0-2 1-2-1-2 1-2 0-1 0-1 0-2 0-2 1-2 0-2 0-2 0-2 0-2 0-2-1-2-2-1 0-1-1-1-1 1 0 2-1 2 0 2 0 2-1 2-1 2 0 2 0 2 0 1-1 1 0 2-1 2 0 2 0 1-1 1 0 2-1 2 0 2 1 2 0 2-1 1-1 1 0 2-2 2-2 2-1 2 1 1 2 1 1 2 1 2-2 2-2 0-1 1-1 1 0 2-2 2-1 2 0 2-1 2-1 2-1 2-1 2 0 2 0 2-1 1 0 1-1 1-1 1 0 2-1 2-1 2-2 2-1 2-1 2-1 2-1 2-1 0-1 1-2 0-2 1-2 2-1 2-1 1 0 1-1 2-1 1-2 1-2 0-1 0-1 0-2 1-2 1-1 1-1 1-2 2-2 0-1 2-1 0-1 1-1 1-2 0-1zM308 123l-1 1 1 2 1 2-1 0-2 0-2 1-2 0-1 1-1 1-1 1-1 1 0 1-2 2 0 2 0 2-1 2 0 2-1 2-2 2-2 1-2 1-2 1-1 1 0 2 0 2 0 2-1 1-2 1-2 1-1 1-1 1-2-1-2 0-2 2-1 0-1 2-1 0-1 1-1 1-1 1-2 1-2 1-2 0-2 0-2 0-2 1-1 0-1 1-2 1-2 0-2 1-2 1-2 2-1 2 1 2 2 0 2 0 2-1 2-1 2-2 0-1 2-1 2 1 1 1 1 1 2 0 2-1 1 0 1-1 1-1 1-1 2 0 2-1 1 0 1-1 2 0 2-1 2-1 2 0 2-1 2-1 1-1 1-1 2-1 2-1 2 0 2 0 2-1 1-2 0-2 1-1 2-1 2-1 2 0 1-1 1 0 2-2 1-2 1-2 1-2 1-1 1-1 1-2 2-2-1-2-1-2 0-1-1-1-1-2 0-2-1-2-1-2 1-2 0-2-1-1zM196 190l-1 0 1 1 1 1 1 1 2 0 1-1-1-1 0-1-2-2zM214 189l-1 1 1 1 2 0 2 0 2-1-2-1-2 0zM234 184l-2 0-2 1-2 0-2 1-1 0-1 1-2 1 2 1 2 0 2-1 2 0 1 0 1 0 2-1 2-1zM320 122l1 0 1 1 0 1-1 2-1 0-1-2zM338 140l1 0 1 0 1 2 0 2-1 1-1 1-1 1-1-1-1-2 1-2zM351 140l1-1 2 0 1 1 1 2 1 2-1 2-1 0-1 0-2-2-1-2zM48 152l2-1 1 1 1 2 1 2-1 2-2 2-2 2-2 1-2 1 0 2 0 1-1 1-1 0-2 1-2 1-2 1-2 1-2 1-2 0-2 0-2 0-2-1 0-2-2 0-1 2-1 1-1 1-1 0-2 2-2 1-1 1-1 0-2 1-2 0-2-1-2-2-1-2 1-1 1-1 1 0 1 0 1 0 2 0 1 0 1-1 2-1 2 0 2-1 2 0 2 1 2 0 1-2 1-1 0-1 1-2 1-1 0-1 2-1 1-1 1-1 2-1 1 0 1-1 1-1 1-2 0-1 2 0 1 1 1 0 1 0 1 0 2-1zM14 172l-2 2-1 0-1 1-2 1 2 1 2 0 2-1 2-2 0-1 0-1zM32 161l-1 1-1 0-1 2-1 1 0 1-1 2 0 2 1 2 1 0 1 0 1 0 1 0 2-1 2-1 2-2 1 0 1-1 1-1-1-2-2-1-1-1-1-2-2 1zM74 152l2-2 2 0 2 0 2 1 1 1-1 2-2 2 0 2-2 2-2 0-1 0-1-2-2-1-1 1-1 1-2 1-1 0-1 0-2 2-2 0-2 1-2 0-1-1 1-2 0-2 2-1 2 1 2 1 2 0 1-1 1-1 1-1 1-1 1-1 1 0zM335 154l1-1 2 0 2 1 2 2 1 2 1 1 0 1 1 2 1 2 0 1 0 1 0 2 0 2-1 2-1 2 0 1-1 1-1 1 0 1-2 2-2 1-1 1-1 1-2 1-1 0-1 0-2 1-2 1-1 0-1 0-2 1-2 0-2 1-1 0-1 0-2 1-2 0-2 1-2 0-1 0-1 0-2 0-2 1-2 0-2 1-2 1-2 0-2 1-1 0-1 0-2 1-2 0-2 0-2 1-2 0-1 0-1 0-2 0-2 0-2 1-2 0-2 0-2 0-2 0-2 0-2-1-2 1-2-1-1 0 1-2 2-1 2-1 1 0 1 0 2-1 2-1 1 0 1 0 2-1 2 0 2-1 1 0 1 0 2-1 2 0 2 0 2-1 2 0 2-1 2 0 2-1 2-1 2 0 2-1 2-2 2-1 2-1 2 0 2-1 1-1 1-1 2-1 2-1 2-1 2-2 2-2 0-1 1-1 1-1 1-1 1-1 2-1 2-1 1-1 1-1 1-1 1-1 0-1zM338 155l-1 1-1 1-1 1-1 2-2 1-1 1-1 0-2 1-2 1-2 2-1 2-1 1-1 1-1 2-2 1-2 1-2 1-1 1-1 1-1 1-1 1-2 0-2 0-2 1-2 2 0 1-1 1-1 1-2-1-2 1-2 0-2 1-2 0-2 1-2 0-2 1-2 0-2 0-2 0-2 1-2 1-1 0-1 0-2 1-2 1-1 0-1 1-2 1 2 0 2 1 2 0 2 0 2-1 2 0 2 0 2 0 2 0 2 0 2 0 2 0 2 0 2-1 2-1 2 0 1 0 1 0 2-1 2-1 1 0 1 0 2-1 2 0 2 0 2 0 2 0 2-1 1 0 1 0 2-1 2 0 2-1 1 0 1 0 2-1 2-1 2-1 2 0 2-1 2-2 1 0 1-2 2-2 1-2 0-2 1-2 1-2-1-2-1-2 0-2-1-2-1-2-1-2-1 0zM411 160l1-1 2-1 2 2 1 2-1 2-2 0-2-2-1 0zM426 176l2-1 2 0 1 1 1 1 0 1 2 2 2 1 1 1 1 2-1 2-1 1-2 0-2-1-1 0-1-1 0-1-1-2-1 0-1 0-1 0-2 1-2 0-1-1 0-2 0-2 1-1 2-1zM452 178l2 2 0 1-2 0-1-1zM411 180l1 0 1 0 1 0 1 2 0 2 0 2-1 1-1-1-1 0-2-2 0-2 0-1zM466 180l1 2-1 1-1 1-1 0-1-2 1-1zM370 184l1 0 1 0 1 2 1 1 1 1 1 1 2 0 2 1 0 2-2 2 0 1-1 1-1 1-2-1-1 0-1-2-1 2 0 2 1 1 2 0 2 0 0 1 0 1-2 1-2 0-2 2-1 0 1 2-2 0-2 1-2 1-1 0-1 0-2 1-2 0-2 0-2 1-1 0-1 1-1-1-1 0-2-2-2-1-1-1-1-2 0-1-1-1 1-1 1-1 1 0 2-2 2-1 2-1 2-2 2-2 0-1 1-1 1-1 1-1 1-1 2 0 2-1 2-1 2 0zM362 188l-1 0-1 1-2 1 0 1-1 1-1 2-2 2-2 1-2 1-2 2-1 0-1 2 2 2 2 1 2 1 2 0 2 0 1 0 1 0 2 0 2-1 1-1 1-1 2-1 2-1 1-1-1-1 0-1 1-2 1-2 0-2 1-2 0-2-1-1-2-1-2 0-2 1zM11 192l1 0 2-1 2-1 2 0 2 1 1 1 1 1 1 1-1 1 0 1-2 2 2 1 2 1 0 2-2 0-2 1-2-1-1 0-1-2 0-2-2-2-2-2-1 2-1 1 0 1-2 1-2 0-2 0-2 0-2 0 0-1 0-2 2 0 2-1 0-1 2-1 2-1 2 0zM489 192l1 0 2 0 2-1 2 1 1 0 1 2-2 2-2 2-2 0-2 2-2 1-2 0-2-1-1 0 0-2 1-2 1-2 1-2 2 0zM486 197l-1 1 1 1 2 0 1-1-1-1zM442 194l2-2 2 1 2 1 0 1 0 1-2 1-2 0-1-1zM466 194l2-1 1 1 1 1 0 1 0 2-2 2-2 2-2 0-2-1-2-1-1 0 1-1 1-1 1-2 2-1zM466 196l-1 0-1 0-1 2 0 2 1 0 2 0 2-2 0-2zM247 196l1 0 2 0 2-1 2 1 1 0-1 1-1 1-1 1-2 1-2-1-2 0-2 0-2 0-1-1 1 0 2-1 2 0zM96 198l2-1 2 0 2 1 1 0-1 1-2 0-2-1zM139 198l1-1 2 0 1 1 0 2-1 1-2 0-2 0-2-1-2 0 0 2-1 2-1 1-1-1-1-2 2-2 2 0 2 0 2-1zM317 198l1 0 2-1 0 1-2 2-2 0-2 2-2-2-1 0 1 0 2 0 2-1zM224 200l2-1 2 0 2 0 2 0 2 0 2 0 2 1 2 1 2 0 2 1 2 1 1-1 1 0 1 0 1 2 2 1 2 0 2 0 1 1-1 0-2 1-2 0-2 1-2 0-2 0-2 1-2 0-2 0-2 0-2 1-2 1-2 1-2 0-2 0-2-1-1-1-1-1-2 0-2 1-1 2-1 1-1 1 0 2 0 2 0 2 1 0 2 1 2 1 2 0 2-1 2 0 2 0 2 0 2 0 2-1 2 0 2 0 1 0 1 0 2 0 2 0 2 0 1 0 1 0 2 0 2 0 2 0 2-1 2 0 1-1-1-2 0-1-1-1 1 0 2-1 2-1 2-1 2 0 2-1 2-1 2-1 2 0 2 1 0 1-2 2 1 2-1 1-1 1 1 1 0 1 1 2 1 2-2 1-2 0-2 0-2 0-2 0-2 0-2 0-2 0-2 0-2 0-2 1-2 0-2 1-2 0-2 1-2 2-2-1-2 0-2 0-2-1-2 0-2 0-2 0-2 0-1 0-1 0-2-1-2 0-2 0-2 0-2 0-2-1-2 0-2 0-2 0 0-2 1-2-1-2 0-2-2 0-2-1 0-1 1-2 0-2 1-2-2-1-1-1-1 0-1 0-1 0-2 0-2 0-2 0-2 1-2 0-2 1-2 0-2 0-2 0-2 0-2 0-2 1-2 1-2 0-2 1-2 0-2 1-2 0-1 0-1 0-2 0-2 0-2 0-1 0-1 0-2 0-2 1-2 0-2-1-2-2 0-1 0-1 1-2 1-1 2-1 2-1 2 0 2 0 2 1 1 0 1 1 2 0 2 1 2-1 2 0 2-1 1 0 1 0 2 0 2 0 2 0 2 0 2 0 2-1 2-1 2 0 2 0 2 1 2 0 2 0 2-1 1 0 1 0 2 0 1 0 1 0 2 0 2 0 2 0 1 0 0 2-1 1-1 1 0 2 1 0 2 1 2-1 2-1 2-1 2 0 2 0 2-1 2-1 1 0-1-1-1-1-1-1zM230 201l-2 1 2 1 2 0 2-1 1 0-1-1-2 0zM236 204l-1 0-1 1-2 1-2 0-2 0-1 0 0 2 1 1 1 1 1 0 2 0 2-1 2-1 2 0 2 0 1-2-1-1-1-1-1-1zM236 222l1 2 1 1 2 0 2 0 2-1 0-1 2 0 2-1 2 0 1 0-1 0-2 0-2 0-2 0-2 0-2-1-2 0zM270 214l-1 0-1 1-1 1 1 0 2 0 1 0 1-1 2-1-2-1zM188 204l-2 0 2 2 2 0 1 0 0-2-1 0zM389 200l1-1 2-1 1 2-1 0-2 2-2 2 2 2-2 1-2-1-1 0 1-1 2-1 0-2 0-1zM395 200l1-1 2 0 2 1 0 1-1 1-1 1-2-1 0-1zM508 200l0-1 2-1 0 2 1 2 1 1 2 0 2 0 2 1 0 1 1 1-1 2-1 2-1 1-1 1-1 1-2 1-2 1-2 1-2-1-2-1-1-2-1-2-2 0-2-2-2-2 0-1 0-1 0-1 0-1 2-1 2 0 2 0 2 1 2-1zM512 205l-2 1-2 2-2 2 0 2 2 2 2 0 2-1 2-1 1-2 1-2 0-1 0-1-2-1zM498 203l-1 1 1 2 2 0 1-2-1-1zM504 205l0 1-1 2 1 1 1-1 0-2zM290 202l2 0 2 0 2 0 2 0 2 0 2-1 2 0 1 1-1 1-2 0-2 0-1 1 0 2-1 0-2 1-2 0-2 0-2 1-2 0-2-2-1-2 1 0 2-2zM85 204l1 0 2 0 1 0 1 0 2 1 2 0 2 0 2-1 1 0 1 0 2-1 2 0 2 0 2 1 2 0 2 0 2 1 2 0 2 0 2 1 2 0 2 0 2 0-2 0-2 1-2 0-2 1-1 0-1 0-2 0-2 1-2 0-2 0-2 0-2 1-2 1-2 0-2 0-2 0-2 1-1 0-1 1-2 0-2 0-2 0-2 0-2-1-2-1-1-1-1-2 2-1 0-1 2-1 2-1zM96 208l2 0 2 1 2-1-2-2-2 1zM84 206l-1 2 0 2 1 1 2 0 2 1 2-1 2-1 2-2-2-2-2 0-2-1-2 0zM330 208l2 0 2 0 2 0 2 0 1 0 1 1 2 1 1 0 1 0 2 1 2 0 1 1 1 2-2 1-1 1-1 0-2 1-2 0-2-1-2-2-2 0-2 1-2 1-2-1-2 1-2 1 0 1-1 2-1 1 0 1-2 2-2 0-2 0-2 0-1 0-1 0-2 0-2 1-2 0-2 0-2 1-2 0-2 1-2 0-2 0-2 0-2 1-2 0-2 0-2 1-2-1-2 0-2 0-2 0 2-1 1-1 1 0 2-1 2-1 1 0 1-1 2-1 1 0-1-2 2-1 2 0 2 0 2 0 2 1 0 2 2 0 2 0 1 0 1-1 2-1 2-1 1-1 1 0 2-1 2-1 2-1 2 0 2-1 2-2 2-2 2-1zM338 212l-1 0 1 2 2-1 2-1 0-1-2 0zM296 224l-2 0-2 0-2 1-2 0-2 1 2 1 2 0 2-1 2 0 2 0 2 0 1 0 1-2-2 0zM318 217l-2 1 0 1-1 1 1 1 2 1 2-1 1-1 0-2-1-1zM43 212l1-1 2 1 2 1 0 1 0 1-1 1-1 1-2 0-2 1-2 0-2-1-1-1 0-2 1 0 2-1 2-1zM527 214l1 0 2-1 1 1 1 2 1 2 0 2 1 1 1 1 1 0 2 1 1 1 1 1 2 1-2 1-2 0-2 0-2-1-2-2 0-1 0-1-2-2-1 0-1-1-2 0-2 1-2 2-2 0-2-1-1-1 1-2 2-2 2 0 2 1 1-1 1-1zM191 216l1 0 2 0 0 1-1 1-1 1-2 0-2 0-1-1 1 0 2-2zM422 216l2-1 2 1 2 0 2 1 1 1-1 2-2 0-1 0-1 0-2 0-2 0-1 0-1 0-2 0-2 0-2 0-2 0-2 0 2-1 2-1 2 0 2 0 2-1zM156 218l2 0 1 0 1 0 2 0 2 0 1 0 1 0 2 0 2 0 1 0 0 2-1 0-2 0-2 0-2 1-2 0-2 1-1 0-1 0-2 0-2 0-2-2 2-2zM350 224l2-1 2 0 1 1 0 2-1 1-2 0-1-1zM117 226l1 0 2-1 2 1 1 0-1 1-2 1-2 0zM430 226l2 0 2 0 2 0 1 0-1 2-2 1-2 0-2 0-2-1-2 0-2 1-2 1-2 0-2-1-1-1 1 0 2-1 2 0 2 0 2 1 2 0zM552 226l2-1 1 1 1 0 1 2-1 2-2 0-2-1-1-1zM454 230l2-1 2-1 2 1 2 0 2 1 0 1-2 0-2 0-2 0-1 1-1 1-2 1 0 1-2 1 0-2-2-2 2-1zM143 232l1-1 2 1 2 2-2 1-2 0-2 0-2-1 2-1zM153 234l1 0 2-1 2 1 2 0 2 0 2 0 2 0 1 0-1 0-2 0-2 0-2 0-2 1-2 0-2-1zM419 234l1 0 2-1 2 0 2 0 2 1 1 2 0 2-1 1-1 1-1 1-2 1-1 0-1 1-2 0-2 0-2 0-1-1-1-2 2-1 2 0 2-1-2-2-2 0-2 0 2 0 2 0zM469 234l1-2 2 1 2 0 2 0 2 1-2 2-2 0-2 0-2-1zM275 238l1 0 2-1 2 1 1 0-1 1-2 1-2-1zM466 240l2 0 2 0 1 0 1 0 2 1 2 0 2 0 2-1 2 0 2 0 2 0 1 0 1 0 2 0 2 0 2 0 0 1-1 1-1 0-2 1-2 0-2 1-2 0-2 0-1 0-1 0-2 0-2 0-2 0-2 0-2 2-1 0-1 2-2 1-1 1-1 0-2 1-2 0-2 0-2 1-1 0-1 0-2 2-2 2-2 2-1 0-1 0-2 1-2 1-2 1-2 0-2 1-2 2-1 0-1 0-1 0-1-1-2-1-1 0-1-1-2-1 0-2 2-1 2-1 1 0 1 0 2 0 2-1 2-1 2 0 2-1 2 0 1-1 1-1 1-1 1-2-2-1-2 0-2 1-2 0-1 0-1 0-1 0-1 0-2-2 2-1 1-1 1 0 2-1 2 1 2 0 2 1 2 0 2 0 2-1 1 0 1 0 2-1 2 0 2-1 1 0 1 0 2-1 2-1zM464 242l-1 0-1 1-2 0-2 1-1 2 1 0 2 1 2 0 2 0 1-1 1 0 2-2 1-2-1 0-2 0zM244 242l2-1 2 0 2 0 1 1-1 1-2 0-2 0zM280 248l2 0 2-1 2 0 2 0 2 0 2 0 2 0 2 0 2 0 1 1 1 0 1 2-1 1-2 0-2 0-2 0-2 0-2 1-1 0-1 0-2 0-2 0-2 0-2-2zM356 250l2 0 2-1 2 0 2 0 2 0 2 1-2 1-2 0-2 0-2 0-2 1zM513 250l1 0 2 0-1 2-1 0-1 0zM530 256l2 0 2-1 2 1 2 0 2 0 2 2 2 0 2-1 1 1-1 1-2 0-2-1-2 1-2 0-2 0-2 1-1 0-1 0-2 1-2 0-2-1-1 0 1-2 2-1zM456 262l2 0 2 2 1 0-1 0-2 1-2 0-2 0-2-1 2-1zM474 262l2 0 2-1 1 1-1 1-2 0zM520 264l1 2-1 1-2 0-2 0-1-1 1-1 2 0zM459 270l1 0 2-1 2 0 2 1 1 0-1 2-2 0-2 0-1 0-1-1zM574 284l2-1 2 0 2 0 2 1 2 0 2 2-2 1 0 1-2 2-1 0-1 0-2 1-2 0-2 1-2 0-2 0-2 0-2 0-2-2-1 0 1 0 2-1 1-1 1 0 2-2 2-1z"/>
<path fill="#cfe772" fill-rule="evenodd" d="M91 0l1 0 2 0 2 0 2 0 2 0 2 0-2 1-2 0-2 1-2-1-2-1zM146 2l0-2 2 0 2 0 1 0 0 2-1 2-2 1-1-1zM190 6l2 0 1 0 1 1 0 1 1 2 1 1 0 1 1 2 0 2-1 2 0 2 0 2-1 2-1 1-1 1-1 1-1 1 0 2-1 2-1 2-1 1-2 0-1-1 0-2-1-1-2-1-2 1-2 1-2 1-1 1-1 1-1 1-1 2-2 2-2 1-2 1-1 0-1 1-1-1 1-2 1-2 1-1 1-1 1-1 2-1 2-1 1-1 1-2 2-1 1-1 1 0 1-2 1-2-1-2-1 0-2 0-2-2 2-2 2-2 1-2 1-2 1-2 1-2 2-1 2 0 2 0zM184 9l-2 1-1 2 0 2-1 2 0 1-1 1 1 1 1 1 1 2 0 2 0 2 0 1 2 1 2 1 2 1 1-2 1-1 1-1 1-1 1-1 1-2 0-2 0-1-2-1-2-1-1-1 1-2 1-2 1-2-2-1-2 0-2-1zM154 10l2 0-2 2-2 1-1 1-1 1-1 1-1 2 0 1 0 1-1 2-1 2-2 2 0 1 0 1-1 2-1 1 0 1-2 1-1 1-1 0-2 1-1 1-1 0-2 2-2 2-2-1 0-1 0-2-1-2-1-2-2 0-2 1-2 0-2 1-2 0-1 0 1-2 2 0 2-1 1-1 1-1 2-1 2-1 1-1 1-1 2-1 2-2 1 0 1 0 2 0 1-2 0-2 1-1 1-1 1 0 2-1 1-1 1 0 2-1 2 0 1-1 1 0 2-1zM132 26l-2 2-1 2 0 2 1 2 2 0 2-2 2 1 2 0 1-1 1-1 1-1 0-2-1-1-2-1-2-1-2 0zM144 16l-1 0-1 0-2 1-1 1 1 2 2 0 1 0 1 0 2-2 0-2zM218 32l0-1 2-1 1 2 1 1 1 1 0 2 1 1 1 1 1 0 2 1 2 1 0 2-1 2-1 0-1 2-1 2-1 2-1 2-1 2-1 2 0 2 0 2-1 2-1 1-1 1-1 1-1 1-1 1-1 1-1 1-1 1-1 2-1 2-1 1-2 0-2 0-2 1-2-2 0-1 0-1 0-2 0-2 0-2 0-2 0-1 0-1-1-2-1-2 1-2 1 0 2-1 2-1 1 0 1-1 1-1 1-2 1 0 1-2 0-2-1-2 0-2 1-2 0-1 1-1 1 0 1-2 1-1 0-1zM218 37l-1 1-1 1-1 1-1 2-1 2 1 1 1 1 1 1 1 1 1 2 1 0-1 1-2 0-2 0-2 0-2 1-1 2-1 1-2 1-1 0-1 1-1 1 1 1 0 1 2 2 0 2 0 2-1 2 1 2 1 0 1 0 1 0 1 0 2-1 1-1 1-1 1-1 1-1 1-1 1-1 1-1 0-2 0-2 1-1 0-1 1-2-1-2-1 0 1-1 2 0 1-1 1-1 1-1 0-2 1-2 0-2-2-2-2-1-1-1-1-1zM179 40l1 0 0 2-2 1-1 1-1 1-2 1 0 2-1 2-1 0-2 1-2 0-2-1 0-2 1-2 1-2 1 0 1-1 2-1 2 0 2 0 2-1zM118 44l2 0 2 0-2 2-2 2-2 1-1-1 1-2zM104 48l2-2 2 1 1 1 1 1 2 1 1 0 0 2 1 2-1 2-1 1-2 1-2 1-2 0-1-1-1-1 0-1-1-2 1-2-1-2zM108 51l-2 1 0 2 2 2 2-2 0-2zM250 56l2 0 1 0 1 1 1 1-1 1-1 1-1 0-2 1-1-1-1-2zM144 58l2-1 1 1 1 0 2 1 2 0 2 0 2 0 0 1 1 2 0 2 0 2-1 2 1 2-1 2-2 2-2-2-2-1-2 0-1-1-1-1-2-1-1-2 0-2 0-2 0-2zM146 62l-1 2 0 2 1 2 1 0 1 1 2 0 2-1 2-2 0-1 0-1 0-2 0-1-2 1-2 0-2-1zM86 62l2-1 2 1 0 2 2 2 2-1 2-1 1 0 1 0 1 0-1 2-2 2-1 0-1 1-1 1-1 1-2 0-2-1 0-2 1-2-1 0-2-2-1 0zM242 70l2-1 2 0 2 1 2 0 2 0 2 0 2-1 2 0 2-1 2 1 1 1 0 2-1 1-2 1-2 0-1 0-1 1 0 1 0 2 0 2 0 2-1 2-1 1-1 1-1 2-1 0-1 1-2 1-2 2-1 0-1 1-2 1-1 0-1 0-2 1-2 1-2-2 0-2 0-1 0-1 1-2 0-2 1-1 1-1 1-2 1-2 0-2 0-2 1-1 0-1 1-2zM244 71l-1 1 0 2-1 2 0 2 0 1 0 1-1 2-1 1 0 1-2 2 0 1-1 1 0 2 0 2 1 1 2 0 2-1 2-1 1-1 1 0 2-2 1 0 1-1 2-1 1-2 1-1 0-1 1-2-1-2 0-1-1-1-1-1-1-1-1-1-1-1-1-1-2 0zM136 72l2-1 1 1 1 2-2 2-2 0-1 0-1-2zM81 74l1-1 2-1 2 2-1 2-1 1-2 0-2-1zM201 80l1-1 0 1 1 2-1 2 0 2-2 1-2 1-2 1-1 1-1 1-1-1-1-2-1-2 1-2 1 0 1 0 2 0 2 0 1-2 1-2zM180 82l2 2 2 1 2 0 1 1 1 1 0 1 0 2-2 2-2-1-2-1 0-1 0-1 0-2-2-2zM35 90l1-1 2 0 1 1-1 1-1 1-1 1-2-1 0-1zM53 94l1 0 2-1 2 1 1 0-1 0-1 2-1 1-1 1-1 1-2 0-1-1 1-2zM46 98l2 1 2 1-2 2-2 1-2 1-2 1-2-1 1-2 1-1 1-1 1-1zM110 100l1 0 1 0 1 2-1 2-1 2-1 1-2 1-2 0-2 0-2-2 1-2 1-1 2-1 1 0 1-1zM108 103l-2 1-1 2 1 0 2 0 1-2zM174 100l0-1 2 0 2 1-2 1-2 1zM275 100l1-1 2 1 2 1 2 1 2 2 0 1 1 1 0 2-1 1 0 1-1 2 0 2-1 2-2 2-1 0-1 1-1 1-1 1-1 1-1 2-1 2-1 1-2 1-2 2-2 0-2 0-2 2-2 2-2 2-1 2-1 2-1 0-1 0-2 1-2 0-2 0-2 0-2 1-2 1-1 1-1 0-2 1-1 1-1 1 0 1-2 2-2 1-2 1-2 1-1 1-1 2-2 1-2 1-2 1-2 1-2 1-2 1-2-1-2-1-2 1-1 1-1 2 0 2 0 1 0 1-2 2-2 1-2 1-1 0-1 0-2 1-2 1-2 0-2 0-2 1-2 1-2 0-2 0-1 0-1 0-2 1-2-1 0-2 2-2 1 0 1-1 1-1 1 0 2-1 2-1 1 0 1 0 2-1 1-1 1-1 2-1 1 0 1-1 2-1 2-1 2 0 2 0 2-1 2-1 2 0 0-1 2-2 1-2 1-1 2-1 2-1 1-1 1 0 2-1 2-1 2 0 1 0 1 0 2-2 2-1 2 0 2-1 1-2 1-1 1-1 1-1 2-1 2-2 2-1 1-1 1-1 2-1 2-1 2 0 1-1 1-1 1-1 1-1 1-1 1-1 2-1 1-2 1-2 0-2 1-2 1-2 1-2 1-1 1-1 1-2 0-1 1-1 1-1 0-1 1-2 1-1zM278 102l-2 1-1 1-1 1-1 1-1 1 0 1-1 2-1 2-1 2-1 1-1 1-1 2 0 2-1 2 0 2 1 1 2 1 2 0 2-2 1-2 1-1 0-1 0-1 0-1-1-2-1-2 2-1 2-1 1 0 1 0 1 0 1 2 0-2 1-2 1-2 0-1 1-1-1-1 0-1-2-1zM200 164l-1 0-1 1-2 0-2 1-1 0-1 1-2 1-2 1-2 1-1 0-1 1-1 1 0 2 1 0 2 0 2 0 2-1 2 0 2-1 1 0 1-1 2 0 2-1 1 0 1-1 1-1-1-2 0-1-1-1zM220 152l-1 0-1 0-2 1-1 1-1 1-1 1 1 2 2 1 2 0 2-1 2-2 1 0 1-1 1-1 1-1 0-1 0-1-2 0-2 0zM252 134l-2 0-2 1-1 1-1 2 2 1 2 0 2-1 1 0 1-2zM276 114l-1 0 0 2 1 2 1-2 0-2zM235 102l1-1 2 1-1 2-1 1-1 1-1 2 2 1 0 1-2 1-1-1-1-1-2-1-2 1-2 1-2 1-2 0-2-1 0 2-1 2-1 1-1 1-1 1-2 0-1-1-1-1 0-1 0-2 0-1 1-1 1-1 1-1 1-2 2-2 2 0 1 0 1 0 2-1 2 0 1 1 1 0 2 1 1-1 1 0 2-1zM28 104l2-1 2-1 2 1 1 1 0 2 0 2-1 2-2 2-2 1-1 1-1 1-2 0-1-1-1-1-2 0-2 1-2 1-1 1-1 0-2 2-1 0-1 1-2 1-2-2 1-2 1-1 1-1 1-1 2-1 1 0 1-1 1-1 1-2 2-1 1-1 1 0 2-1 2 0zM28 106l-1 0-1 1-2 1-1 0 1 1 2 1 2 0 2-1 2-1 0-2 0-1-2 0zM51 106l1-1 2-1 1 2-1 2-2 1-2-1zM71 110l1-1 2-1 2 0 0 2-2 2-2 1-2-1 0-1zM115 110l1 0 2-1 2 1-2 2-2 1-2 1-1-2 1-1zM63 114l1 0 1 2-1 1-2-1 0-1zM0 116l2 0 1 0 1 0 2 2 1 0 0 2-1 0-2 2-1 0-1 1-2 1 0-2 0-2 0-2zM51 116l1 0 1 0 0 2-1 1-1 1-1 0-1 0 1-2zM225 116l1-1 2-1 1 2-1 2-2 1-1-1zM134 118l2-1 2 1-2 2-2 0zM205 120l1-1 2 0 1 1 1 1 2 0 2 0 1 1 0 2-1 1-2 1-2 0-2-2 0-1-2-1zM41 124l1 0 2 0 0 2-2 1-2 0-1-1 1-1zM307 124l1-1 2 0 1 1 0 2-1 2 1 2 1 2 0 2 1 2 1 1 0 1 1 2 1 2-2 2-1 2-1 1-1 1-1 2-1 2-1 2-2 2-1 0-1 1-2 0-2 1-2 1-1 1 0 2-1 2-2 1-2 0-2 0-2 1-2 1-1 1-1 1-2 1-2 1-2 0-2 1-2 1-2 0-1 1-1 0-2 1-2 0-1 1-1 1-1 1-1 0-2 1-2 0-1-1-1-1-2-1-2 1 0 1-2 2-2 1-2 1-2 0-2 0-1-2 1-2 2-2 2-1 2-1 2 0 2-1 1-1 1 0 2-1 2 0 2 0 2 0 2-1 2-1 1-1 1-1 1-1 1 0 1-2 1 0 2-2 2 0 2 1 1-1 1-1 2-1 2-1 1-1 0-2 0-2 0-2 1-1 2-1 2-1 2-1 2-2 1-2 0-2 1-2 0-2 0-2 2-2 0-1 1-1 1-1 1-1 1-1 2 0 2-1 2 0 1 0-1-2zM246 177l-1 1 1 2 2-2 0-1zM258 174l0 1 0 1 2 1 1-1 0-2-1 0zM280 164l-2 1-2 0-2 0-2 1 0 2 0 1 2 1 2-1 2 1 1 0 1 0 2-1 1-1 1-1 1-1 1-1 1-1-1-1-2-1-2 0zM302 131l-2 1-1 2 0 2 0 2-1 2-1 2-1 2-1 2 0 2 0 2-1 0-2 1-2 0-1 1-1 2 0 2 1 2 0 2-1 1 0 1 0 1 2 0 2 0 2-1 1-2 1-2 2-1 2-1 1 0 1 0 2-1 1-1 1-1 0-1 1-2 1-1 1-1 1-1 1-1 1-2 2-2 0-2-1-2-1-2-1-2-1-2-2-1-2-1-2 0zM0 126l0-2 0 2 1 2 1 2 0 2-2 2 0-2 0-2 0-2zM48 128l2 0 2 0-1 2-1 1-1 1-1 1-2 1-2 1-2 0-2-1 1-2 1-1 2-1 1 0 1-1zM187 128l1 0 2-1 2 0 2 0 2 1 1 0 0 2 0 2 0 2-1 1 0 1-2 2-1 0-1 0-2 1-2 1-2 1-1 1-1 1 0 1-2 2-1 0-1 1-2 0-2 0-2 0-2-1-1 0-1-1-1-1 0-2 0-2 1-1 2-1 2-2 2-1 2-1 2-1 2 0 1-1 1-2 2-2zM190 129l-2 1 0 1 0 1 1 2 1 1 2 1 2-2-1-2-1-2zM178 136l-2 1-1 1-1 2-1 2 0 2 1 1 2 1 2 0 2-1 2-1 0-1 1-1 0-2 1-1 2-1-2-1-2-1-1 0-1 0zM118 130l2 2-1 2-1 1-2-1 0-2zM137 130l1 0 2-1 2 1-2 1-2 1zM109 136l1 0 1 0 1 1 0 1-1 2-1 1-2 0 0-1 0-2zM301 138l1-1 2 0 1 1-1 2-2-1zM150 144l2-1 2 1 2 2 0 2-1 2 0 2 0 2-1 2-2-1-2-1-1-2 0-2 0-2 0-2zM337 156l1-1 1 1 1 0 1 2 1 2 1 2 0 2 1 2 1 2-1 2-1 2 0 2-1 2-2 2-1 2-1 0-2 2-2 1-2 0-2 1-2 1-2 1-1 0-1 0-2 1-2 0-2 1-1 0-1 0-2 1-2 0-2 0-2 0-2 0-2 1-1 0-1 0-2 1-2 1-1 0-1 0-2 0-2 1-2 1-2 0-2 0-2 0-2 0-2 0-2 0-2 0-2 0-2 1-2 0-2 0-2-1-2 0 2-1 1-1 1 0 2-1 2-1 1 0 1 0 2-1 2-1 2 0 2 0 2 0 2-1 2 0 2-1 2 0 2-1 2 0 2-1 2 1 1-1 1-1 0-1 2-2 2-1 2 0 2 0 1-1 1-1 1-1 1-1 2-1 2-1 2-1 1-2 1-1 1-1 1-2 2-2 2-1 2-1 1 0 1-1 2-1 1-2 1-1zM338 159l-1 1-1 0-2 2-2 1-2 1-1 0-1 0-2 2-2 2 0 1-1 1-1 2-1 2-1 1-2 0-2 0-1 1-1 1-1 1-1 1-1 1-1 1-2 0-2 0-2 1 0 1 0 1-1 2 1 2 2 0 2 0 2 0 2 0 2 0 2-1 2 0 2-1 1 0 1 0 2-1 2 0 1-1 1 0 2-1 2-1 2-1 2 0 1-1 1-1 1-1 1-2 1-2 0-2 1-2 0-2 0-1 0-1-2-2-1 0-1-2 0-2zM290 188l-1 0-1 1-2 0-2 0-2 0-2 0-2 1-2 0 2 2 2 0 2 0 2-1 2 0 2 0 1-1 1 0 2-1 2 1 2 1 2 0 1-1 1-2 1 0-1 0-2-2-2 0-2 1-2 0zM31 162l1-1 2 0 2-1 1 2 1 1 2 1 1 2-1 1-1 1-1 0-2 2-2 1-2 1-1 0-1 0-1 0-1 0-1-2 0-2 1-2 0-1 1-1 1-2zM32 164l-2 2-1 2 1 2 2 0 2-1 2-1 0-1 1-1-1-1-2-1zM116 162l2 1 1 1 0 2 0 2-1 1-1 1-1 1-1 1-1 0-2 2-2 0-2 1-2 0-2 1-2 0-2 0-2 1-2 0-2 0-2 0-2 0-2 0-2 1-2 0-2 0-2 0-2 0-1 0-1 0-2-1-2 0-1 1-1 0-2 2-1 0-1 0-1 0-1-1-1-1 1-2 2 0 2 0 2 0 2 0 2-1 1-1 1 0 2-1 2 0 2-1 1 0 1 0 2-1 2-1 2 0 2-1 2 0 2-1 2 0 2-1 2 0 2 0 2 0 1-1 1-1 2-1 2-1 2-1zM114 164l-2 1-2 1-1 0-1 1-1 1-1 1-2 1-2-1-2 0-2 0-2 0-2 1-1 0-1 0-2 1-2 1-1 0-1 0-2 1-2 1-2 0-1 0-1 2 2 0 2 0 2 0 2 0 2 0 2 0 2 0 2 0 2 0 1 0 1 0 2-1 2 0 2 0 2-1 2 0 1 0 1-1 1-1 1-1 2-1 2-2 1-2-1-2zM130 162l2-1 2 0 0 1 0 1-2 0zM14 172l2 0 0 1 0 1-2 2-2 1-2 0-2-1 2-1 1-1 1 0zM144 178l2 0 2-1 2 1 2-1 2 0 2 0 2 1 1 0 1 1 1 1 1 0 1 2-1 2-2 1-2 1-2 0-1 0-1 0-2 0-2 0-1 0-1 0-2 2-1 0-1 1-2-1-2-2-2-1-2 0-2 0-2 0-2-1 2-2 2 0 2-1 2-1 1 0 1 0 2-1zM148 180l-1 0-1 1-1 1 1 1 2 1 2 0 2 0 2 0 2 0 2-2-2-1-2-1-1 0-1 0-2-1zM54 180l2 0 2 0 2 1 0 1-2 2-2 0-2 0-2 0-2 1-2 0-1 1-1 0-2 0-2 0-2 0-1 0-1-2 2-1 2-1 2 0 2-1 2 0 2 0 2 0zM234 184l2 2-2 1-2 1-1 0-1 0-2 0-2 1-2 0-2-1 2-1 1-1 1 0 2-1 2 0 2-1zM361 188l1 0 2-1 2-1 2 0 2 1 1 1 0 2-1 2 0 2-1 2-1 2 0 1 1 1-1 1-2 1-2 1-1 1-1 1-2 1-2 0-1 0-1 0-2 0-2 0-2-1-2-1-2-2 1-2 1 0 2-2 2-1 2-1 2-2 1-2 1-1 0-1 2-1zM364 188l-2 1-2 1-1 2-1 1 0 1-1 2-1 0-2 1-1 1-1 1-2 1 0 1 0 1 2 1 2 0 2 0 2 0 2 0 2-1 2-1 1-1 0-2 0-2 1-1 2 0 0-1 1-2 0-2-1-2-2-1zM195 190l1 0 2-2 2 2 0 1 1 1-1 1-2 0-1-1-1-1zM213 190l1-1 2 0 2 0 2 1-2 1-2 0-2 0zM465 196l1 0 2 0 0 2-2 2-2 0-1 0 0-2 1-2zM485 198l1-1 2 0 1 1-1 1-2 0zM186 204l2 0 2 0 1 0 0 2-1 0-2 0zM235 204l1 0 2-1 1 1 1 1 1 1-1 2-2 0-2 0-2 1-2 1-2 0-1 0-1-1-1-1 0-2 1 0 2 0 2 0 2-1zM497 204l1-1 2 0 1 1-1 2-2 0zM84 206l2-1 2 0 2 1 2 0 2 2-2 2-2 1-2 1-2-1-2 0-1-1 0-2zM510 206l2-1 2 0 2 1 0 1 0 1-1 2-1 2-2 1-2 1-2 0-2-2 0-2 2-2zM512 207l-1 1-1 1-1 1 1 2 2-1 1-1 0-2zM96 208l2-1 2-1 2 2-2 1-2-1zM269 214l1 0 2-1 2 1-2 1-1 1-1 0-2 0-1 0 1-1zM316 218l2-1 2 0 1 1 0 2-1 1-2 1-2-1-1-1 1-1zM236 222l2-1 2 0 2 1 2 0 2 0 2 0 2 0 1 0-1 0-2 0-2 1-2 0 0 1-2 1-2 0-2 0-1-1zM294 224l2 0 2 0 2 0-1 2-1 0-2 0-2 0-2 0-2 1-2 0-2-1 2-1 2 0 2-1zM463 242l1 0 2 0 2 0 1 0-1 2-2 2-1 0-1 1-2 0-2 0-2-1-1 0 1-2 2-1 2 0z"/>
<path fill="#eeee70" fill-rule="evenodd" d="M182 10l2-1 2-1 2 1 2 0 2 1-1 2-1 2-1 2 1 1 2 1 2 1 0 1 0 2-1 2-1 1-1 1-1 1-1 1-1 2-2-1-2-1-2-1 0-1 0-2 0-2-1-2-1-1-1-1 1-1 0-1 1-2 0-2zM184 24l2 2 2-2 0-1-2-1zM143 16l1 0 2 0 0 2-2 2-1 0-1 0-2 0-1-2 1-1 2-1zM132 26l2-1 2 0 2 1 2 1 1 1 0 2-1 1-1 1-1 1-2 0-2-1-2 2-2 0-1-2 0-2 1-2zM217 38l1-1 2 0 1 1 1 1 2 1 2 2 0 2-1 2 0 2-1 1-1 1-1 1-2 0-1 1 1 0 1 2-1 2 0 1-1 1 0 2 0 2-1 1-1 1-1 1-1 1-1 1-1 1-1 1-2 1-1 0-1 0-1 0-1 0-1-2 1-2 0-2 0-2-2-2 0-1-1-1 1-1 1-1 1 0 2-1 1-1 1-2 2-1 2 0 2 0 2 0 1-1-1 0-1-2-1-1-1-1-1-1-1-1 1-2 1-2 1-1zM212 53l-1 1-1 2 1 2 1 1 2 0 2-1 0-2-2-2zM106 52l2-1 2 1 0 2-2 2-2-2zM146 62l2-1 2 1 2 0 2-1 0 1 0 2 0 1 0 1-2 2-2 1-2 0-1-1-1 0-1-2 0-2zM148 64l-1 2 1 0 2 0 1 0-1-2zM243 72l1-1 2 0 2 0 1 1 1 1 1 1 1 1 1 1 1 1 0 1 1 2-1 2 0 1-1 1-1 2-2 1-1 1-1 0-2 2-1 0-1 1-2 1-2 1-2 0-1-1 0-2 0-2 1-1 0-1 2-2 0-1 1-1 1-2 0-1 0-1 0-2 1-2zM252 80l-1 0-1 0-2 1-2 0-1 1-1 1 0 1-1 2 0 2 1 0 2-1 2-1 2-1 1-1 1-2zM278 102l2 1 2 1 0 1 1 1-1 1 0 1-1 2-1 2 0 2-1-2-1 0-1 0-1 0-2 1-2 1 1 2 1 2 0 1 0 1 0 1-1 1-1 2-2 2-2 0-2-1-1-1 0-2 1-2 0-2 1-2 1-1 1-1 1-2 1-2 1-2 0-1 1-1 1-1 1-1 1-1zM106 104l2-1 1 1-1 2-2 0-1 0zM27 106l1 0 2-1 2 0 0 1 0 2-2 1-2 1-2 0-2-1-1-1 1 0 2-1zM188 130l2-1 2 1 1 2 1 2-2 2-2-1-1-1-1-2 0-1zM300 132l2-1 2-1 2 0 2 1 2 1 1 2 1 2 1 2 1 2 0 2-2 2-1 2-1 1-1 1-1 1-1 1-1 2 0 1-1 1-1 1-2 1-1 0-1 0-2 1-2 1-1 2-1 2-2 1-2 0-2 0 0-1 0-1 1-1 0-2-1-2 0-2 1-2 1-1 2 0 2-1 1 0 0-2 0-2 1-2 1-2 1-2 1-2 0-2 0-2zM302 137l-1 1 1 1 2 1 1-2-1-1zM300 142l-1 0 1 1 2 1 1 0 1 1 2 1 2 0 1-2-1-1-2 0-1-1-1 0-2 0zM250 134l2 0 2 2-1 2-1 0-2 1-2 0-2-1 1-2 1-1zM178 136l2 0 1 0 1 0 2 1 2 1-2 1-1 1 0 2-1 1 0 1-2 1-2 1-2 0-2-1-1-1 0-2 1-2 1-2 1-1zM219 152l1 0 2-1 2 0 2 0 0 1 0 1-1 1-1 1-1 1-1 0-2 2-2 1-2 0-2-1-1-2 1-1 1-1 1-1 2-1zM337 160l1-1 0 1 0 2 1 2 1 0 2 2 0 1 0 1 0 2-1 2 0 2-1 2-1 2-1 1-1 1-1 1-2 0-2 1-2 1-2 1-1 0-1 1-2 0-2 1-1 0-1 0-2 1-2 0-2 1-2 0-2 0-2 0-2 0-2 0-1-2 1-2 0-1 0-1 2-1 2 0 2 0 1-1 1-1 1-1 1-1 1-1 1-1 2 0 2 0 1-1 1-2 1-2 1-1 0-1 2-2 2-2 1 0 1 0 2-1 2-1 2-2zM316 181l-2 1 0 1-1 1 1 0 2 0 2 0 2-1 0-1-2-1zM330 166l-1 0-1 1-1 1 1 1 2 1 2 2 1 0 1 2-2 2-1 2 1 1 2-1 1 0 1-1 1-1-1-1-2-1 0-2 1-2 1-1 0-1 2-2-2-1-2 0-2 0zM32 164l2 0 2 1 1 1-1 1 0 1-2 1-2 1-2 0-1-2 1-2zM114 164l2 0 1 2-1 2-2 2-2 1-1 1-1 1-1 1-1 0-2 0-2 1-2 0-2 0-2 1-1 0-1 0-2 0-2 0-2 0-2 0-2 0-2 0-2 0-2 0-2 0 1-2 1 0 2 0 2-1 2-1 1 0 1 0 2-1 2-1 1 0 1 0 2-1 2 0 2 0 2 0 2 1 2-1 1-1 1-1 1-1 1 0 2-1zM94 172l-1 0-1 2 2 0 2 0 2 0 2 0 0-2-2-1-2 0zM199 164l1 0 1 0 1 1 0 1 1 2-1 1-1 1-1 0-2 1-2 0-1 1-1 0-2 1-2 0-2 1-2 0-2 0-1 0 0-2 1-1 1-1 1 0 2-1 2-1 2-1 1-1 1 0 2-1 2 0zM280 164l2-2 2 0 2 1 1 1-1 1-1 1-1 1-1 1-1 1-2 1-1 0-1 0-2-1-2 1-2-1 0-1 0-2 2-1 2 0 2 0zM258 174l2 0 1 0 0 2-1 1-2-1 0-1zM245 178l1-1 2 0 0 1-2 2zM147 180l1 0 2-1 2 1 1 0 1 0 2 1 2 1-2 2-2 0-2 0-2 0-2 0-2-1-1-1 1-1zM289 188l1 0 2-1 2 0 2-1 2 0 2 2 1 0-1 0-1 2-1 1-2 0-2-1-2-1-2 1-1 0-1 1-2 0-2 0-2 1-2 0-2 0-2-2 2 0 2-1 2 0 2 0 2 0 2 0zM364 188l2-1 2 1 1 2 0 2-1 2 0 1-2 0-1 1 0 2 0 2-1 1-2 1-2 1-2 0-2 0-2 0-2 0-2-1 0-1 0-1 2-1 1-1 1-1 2-1 1 0 1-2 0-1 1-1 1-2 2-1zM364 190l-1 0-1 2 0 2 2 0 2 0 0-2 0-2zM511 208l1-1 1 1 0 2-1 1-2 1-1-2 1-1z"/>
<path fill="#f2b24e" fill-rule="evenodd" d="M184 24l2-2 2 1 0 1-2 2zM211 54l1-1 2 1 2 2 0 2-2 1-2 0-1-1-1-2zM148 64l2 0 1 2-1 0-2 0-1 0zM251 80l1 0 0 2-1 2-1 1-2 1-2 1-2 1-1 0 0-2 1-2 0-1 1-1 1-1 2 0 2-1zM299 142l1 0 2 0 2 0 1 0 1 1 2 0 1 1-1 2-2 0-2-1-1-1-1 0-2-1zM329 166l1 0 2-1 2 0 2 0 2 1-2 2 0 1-1 1-1 2 0 2 2 1 1 1-1 1-1 1-1 0-2 1-1-1 1-2 2-2-1-2-1 0-2-2-2-1-1-1 1-1zM93 172l1 0 2-1 2 0 2 1 0 2-2 0-2 0-2 0-2 0zM314 182l2-1 2 0 2 1 0 1-2 1-2 0-2 0-1 0 1-1zM363 190l1 0 2 0 0 2 0 2-2 0-2 0 0-2z"/>
<path fill="#e0703c" fill-rule="evenodd" d=""/>
</g>
<g fill="none" stroke-linecap="round">
<path d="M241 33Q237 83 141 104.4M247 35Q243 85 147 106.4M253 37Q249 87 153 108.4M258 37Q254 84.5 163.1 104.8M264 39Q260 86.5 169.1 106.8M270 41Q266 88.5 175.1 108.8M275 49Q271 94 185 113.3M281 51Q277 96 191 115.3M287 53Q283 98 197 117.3M292 62Q288 104.6 206.9 122.8M298 64Q294 106.6 212.9 124.8M304 66Q300 108.6 218.9 126.8M309 67Q305 107.1 228.8 124.3M315 69Q311 109.1 234.8 126.3M321 71Q317 111.1 240.8 128.3M325 90Q321 127.7 249.6 143.9M331 92Q327 129.7 255.6 145.9M337 94Q333 131.7 261.6 147.9M343 93Q339 128.3 272.3 143.5M349 95Q345 130.3 278.3 145.5M355 97Q351 132.3 284.3 147.5M360 116.9Q356 149.9 294 164.1M366 118.9Q362 151.9 300 166.1M372 120.9Q368 153.9 306 168.1M382 122.9Q378 153.6 320.6 166.7M388 124.9Q384 155.6 326.6 168.7M394 126.9Q390 157.6 332.6 170.7M402 145.8Q398 174.2 345.2 186.4M408 147.8Q404 176.2 351.2 188.4M414 149.8Q410 178.2 357.2 190.4M420 153.7Q416 179.9 367.6 191.1M426 155.7Q422 181.9 373.6 193.1M432 157.7Q428 183.9 379.6 195.1M436 167.6Q432 191.6 388 201.9M442 169.6Q438 193.6 394 203.9M448 171.6Q444 195.6 400 205.9M452 185.5Q448 207.3 408.3 216.6M458 187.5Q454 209.3 414.3 218.6M464 189.5Q460 211.3 420.3 220.6M469 194.3Q465 214 429.5 222.5M475 196.3Q471 216 435.5 224.5M481 198.3Q477 218 441.5 226.5M486 211.1Q482 228.8 450.6 236.4M492 213.1Q488 230.8 456.6 238.4M498 215.1Q494 232.8 462.6 240.4M503 219.9Q499 235.6 471.6 242.3M509 221.9Q505 237.6 477.6 244.3M515 223.9Q511 239.6 483.6 246.3M519 229.6Q515 243.4 491.5 249.3M525 231.6Q521 245.4 497.5 251.3M531 233.6Q527 247.4 503.5 253.3M536 240.3Q532 252.3 512.2 257.4M542 242.3Q538 254.3 518.2 259.4M548 244.3Q544 256.3 524.2 261.4M551 248Q547 258.1 530.7 262.5M557 250Q553 260.1 536.7 264.5M563 252Q559 262.1 542.7 266.5M564 252.5Q560 261 547 264.7M570 254.5Q566 263 553 266.7M576 256.5Q572 265 559 268.7M577 261Q573 268 563 271M583 263Q579 270 569 273M589 265Q585 272 575 275M589 267Q585 272.9 577.2 275.4M595 269Q591 274.9 583.2 277.4M601 271Q597 276.9 589.2 279.4" stroke="#6ccfc4" stroke-width="0.8" opacity="0.6"/>
<path d="M240.9 27Q239.9 62.2 165.2 79.8M245 20.4Q244 62.2 169.3 79.8M247.5 16Q246.5 62.2 171.8 79.8M250 14.9Q249 62.2 174.3 79.8M252.5 16Q251.5 62.2 176.8 79.8M255 20.4Q254 62.2 179.3 79.8M258.6 27Q257.6 62.2 182.9 79.8M258.1 31Q257.1 64.9 185.3 81.8M262.1 24.7Q261.1 64.9 189.3 81.8M264.6 20.4Q263.6 64.9 191.7 81.8M267 19.4Q266 64.9 194.2 81.8M269.4 20.4Q268.4 64.9 196.6 81.8M271.9 24.7Q270.9 64.9 199.1 81.8M275.4 31Q274.4 64.9 202.6 81.8M275.3 43Q274.3 75.6 205.4 91.8M279.2 36.9Q278.2 75.6 209.3 91.8M281.6 32.8Q280.6 75.6 211.7 91.8M284 31.8Q283 75.6 214.1 91.8M286.4 32.8Q285.4 75.6 216.4 91.8M288.8 36.9Q287.8 75.6 218.8 91.8M292.2 43Q291.2 75.6 222.3 91.8M292.5 56Q291.5 87.2 225.4 102.8M296.4 50.2Q295.4 87.2 229.3 102.8M298.7 46.2Q297.7 87.2 231.6 102.8M301 45.3Q300 87.2 233.9 102.8M303.3 46.2Q302.3 87.2 236.2 102.8M305.6 50.2Q304.6 87.2 238.5 102.8M309 56Q308 87.2 241.9 102.8M309.7 61Q308.7 90.9 245.5 105.8M313.5 55.4Q312.5 90.9 249.3 105.8M315.8 51.6Q314.8 90.9 251.5 105.8M318 50.7Q317 90.9 253.8 105.8M320.2 51.6Q319.2 90.9 256 105.8M322.5 55.4Q321.5 90.9 258.3 105.8M325.8 61Q324.8 90.9 261.6 105.8M325.9 84Q324.9 112.5 264.5 126.8M329.6 78.6Q328.6 112.5 268.3 126.8M331.8 75Q330.8 112.5 270.5 126.8M334 74.1Q333 112.5 272.7 126.8M336.2 75Q335.2 112.5 274.8 126.8M338.4 78.6Q337.4 112.5 277 126.8M341.6 84Q340.6 112.5 280.3 126.8M344.1 87Q343.1 114.2 285.6 127.8M347.8 81.8Q346.8 114.2 289.3 127.8M349.9 78.4Q348.9 114.2 291.4 127.8M352 77.5Q351 114.2 293.5 127.8M354.1 78.4Q353.1 114.2 295.6 127.8M356.2 81.8Q355.2 114.2 297.7 127.8M359.4 87Q358.4 114.2 300.9 127.8M361.3 110.9Q360.3 136.8 305.7 149.7M364.9 106Q363.9 136.8 309.3 149.7M367 102.7Q366 136.8 311.3 149.7M369 101.9Q368 136.8 313.4 149.7M371 102.7Q370 136.8 315.4 149.7M373.1 106Q372.1 136.8 317.5 149.7M376.2 110.9Q375.2 136.8 320.6 149.7M383.5 116.9Q382.5 141.4 330.7 153.7M387 112.2Q386 141.4 334.3 153.7M389 109.1Q388 141.4 336.3 153.7M391 108.3Q390 141.4 338.3 153.7M393 109.1Q392 141.4 340.2 153.7M395 112.2Q394 141.4 342.2 153.7M398 116.9Q397 141.4 345.3 153.7M403.7 139.8Q402.7 163 353.8 174.6M407.2 135.4Q406.2 163 357.3 174.6M409.1 132.4Q408.1 163 359.2 174.6M411 131.7Q410 163 361.1 174.6M412.9 132.4Q411.9 163 363 174.6M414.8 135.4Q413.8 163 365 174.6M417.8 139.8Q416.8 163 367.9 174.6M421.9 147.7Q420.9 169.6 374.9 180.5M425.3 143.5Q424.3 169.6 378.3 180.5M427.1 140.8Q426.1 169.6 380.1 180.5M429 140.1Q428 169.6 382 180.5M430.9 140.8Q429.9 169.6 383.8 180.5M432.7 143.5Q431.7 169.6 385.7 180.5M435.6 147.7Q434.6 169.6 388.6 180.5M438.1 161.6Q437.1 182.1 393.9 192.4M441.4 157.7Q440.4 182.1 397.3 192.4M443.2 155.1Q442.2 182.1 399.1 192.4M445 154.4Q444 182.1 400.9 192.4M446.8 155.1Q445.8 182.1 402.6 192.4M448.6 157.7Q447.6 182.1 404.4 192.4M451.4 161.6Q450.4 182.1 407.3 192.4M454.3 179.5Q453.3 198.7 413 208.3M457.6 175.8Q456.6 198.7 416.3 208.3M459.3 173.4Q458.3 198.7 418 208.3M461 172.8Q460 198.7 419.7 208.3M462.7 173.4Q461.7 198.7 421.4 208.3M464.4 175.8Q463.4 198.7 423.2 208.3M467.2 179.5Q466.2 198.7 425.9 208.3M471.5 188.3Q470.5 206.2 433.1 215.1M474.7 184.9Q473.7 206.2 436.3 215.1M476.3 182.6Q475.3 206.2 437.9 215.1M478 182.1Q477 206.2 439.6 215.1M479.7 182.6Q478.7 206.2 441.2 215.1M481.3 184.9Q480.3 206.2 442.9 215.1M484 188.3Q483 206.2 445.6 215.1M488.7 205.1Q487.7 221.6 453.1 229.9M491.8 202Q490.8 221.6 456.3 229.9M493.4 199.9Q492.4 221.6 457.9 229.9M495 199.4Q494 221.6 459.5 229.9M496.6 199.9Q495.6 221.6 461 229.9M498.2 202Q497.2 221.6 462.6 229.9M500.8 205.1Q499.8 221.6 465.3 229.9M505.9 213.9Q504.9 229.1 473.2 236.7M509 211Q508 229.1 476.3 236.7M510.5 209.1Q509.5 229.1 477.8 236.7M512 208.6Q511 229.1 479.3 236.7M513.5 209.1Q512.5 229.1 480.8 236.7M515 211Q514 229.1 482.4 236.7M517.6 213.9Q516.6 229.1 484.9 236.7M522.1 223.6Q521.1 237.5 492.3 244.4M525.1 221Q524.1 237.5 495.3 244.4M526.5 219.3Q525.5 237.5 496.7 244.4M528 218.9Q527 237.5 498.2 244.4M529.5 219.3Q528.5 237.5 499.6 244.4M530.9 221Q529.9 237.5 501.1 244.4M533.4 223.6Q532.4 237.5 503.6 244.4M539.3 234.3Q538.3 246.9 512.3 253.1M542.2 232Q541.2 246.9 515.3 253.1M543.6 230.5Q542.6 246.9 516.7 253.1M545 230.1Q544 246.9 518.1 253.1M546.4 230.5Q545.4 246.9 519.4 253.1M547.8 232Q546.8 246.9 520.8 253.1M550.2 234.3Q549.2 246.9 523.3 253.1M554.5 242Q553.5 253.2 530.4 258.8M557.3 239.9Q556.3 253.2 533.3 258.8M558.7 238.6Q557.7 253.2 534.6 258.8M560 238.2Q559 253.2 535.9 258.8M561.3 238.6Q560.3 253.2 537.2 258.8M562.7 239.9Q561.7 253.2 538.6 258.8M565 242Q564 253.2 540.9 258.8M567.7 246.5Q566.7 256.4 546.5 261.3M570.5 244.8Q569.5 256.4 549.3 261.3M571.7 243.6Q570.7 256.4 550.5 261.3M573 243.3Q572 256.4 551.8 261.3M574.3 243.6Q573.3 256.4 553 261.3M575.5 244.8Q574.5 256.4 554.3 261.3M577.8 246.5Q576.8 256.4 556.6 261.3M580.9 255Q579.9 263.5 562.5 267.8M583.6 253.5Q582.6 263.5 565.3 267.8M584.8 252.6Q583.8 263.5 566.5 267.8M586 252.3Q585 263.5 567.7 267.8M587.2 252.6Q586.2 263.5 568.8 267.8M588.4 253.5Q587.4 263.5 570 267.8M590.6 255Q589.6 263.5 572.3 267.8M593.1 261Q592.1 268.2 577.6 271.8M595.7 259.9Q594.7 268.2 580.3 271.8M596.9 259.2Q595.9 268.2 581.4 271.8M598 259Q597 268.2 582.5 271.8M599.1 259.2Q598.1 268.2 583.6 271.8M600.3 259.9Q599.3 268.2 584.8 271.8M602.4 261Q601.4 268.2 586.9 271.8" stroke="#78dcc4" stroke-width="0.9" opacity="0.85"/>
<path d="M240.9 27C241.8 -8.8 240.4 -28 248 -28S257.6 -8.8 258.6 27M258.1 31C259 -3.4 257.6 -22 265 -22S274.4 -3.4 275.4 31M275.3 43C276.2 9.9 274.8 -8 282 -8S291.2 9.9 292.2 43M292.5 56C293.4 24.2 292 7 299 7S308 24.2 309 56M309.7 61C310.6 30.5 309.2 14 316 14S324.8 30.5 325.8 61M325.9 84C326.8 54.8 325.4 39 332 39S340.6 54.8 341.6 84M344.1 87C345 59 343.6 44 350 44S358.4 59 359.4 87M361.3 110.9C362.2 84.3 360.8 70 367 70S375.2 84.3 376.2 110.9M383.5 116.9C384.4 91.6 383 78 389 78S397 91.6 398 116.9M403.7 139.8C404.6 115.9 403.2 103 409 103S416.8 115.9 417.8 139.8M421.9 147.7C422.8 125.1 421.4 113 427 113S434.6 125.1 435.6 147.7M438.1 161.6C439 140.4 437.6 129 443 129S450.4 140.4 451.4 161.6M454.3 179.5C455.2 159.7 453.8 149 459 149S466.2 159.7 467.2 179.5M471.5 188.3C472.4 169.9 471 160 476 160S483 169.9 484 188.3M488.7 205.1C489.6 188.1 488.2 179 493 179S499.8 188.1 500.8 205.1M505.9 213.9C506.8 198.4 505.4 190 510 190S516.6 198.4 517.6 213.9M522.1 223.6C523 209.6 521.6 202 526 202S532.4 209.6 533.4 223.6M539.3 234.3C540.2 221.8 538.8 215 543 215S549.2 221.8 550.2 234.3M554.5 242C555.4 230.9 554 225 558 225S564 230.9 565 242M567.7 246.5C568.6 237.1 567.2 232 571 232S576.8 237.1 577.8 246.5M580.9 255C581.8 247.2 580.4 243 584 243S589.6 247.2 590.6 255M593.1 261C594 255.2 592.6 252 596 252S601.4 255.2 602.4 261" stroke="#80e2cc" stroke-width="1.45"/>
<path d="M250 -14.8c5.4 0 5.4 30.8 0 30.8c-5.4 0 -5.4 -30.8 0 -30.8zM267 -9.3c5.3 0 5.3 29.7 0 29.7c-5.3 0 -5.3 -29.7 0 -29.7zM284 4.2c5.1 0 5.1 28.6 0 28.6c-5.1 0 -5.1 -28.6 0 -28.6zM301 18.8c5 0 5 27.5 0 27.5c-5 0 -5 -27.5 0 -27.5zM318 25.3c4.9 0 4.9 26.3 0 26.3c-4.9 0 -4.9 -26.3 0 -26.3zM334 49.8c4.7 0 4.7 25.2 0 25.2c-4.7 0 -4.7 -25.2 0 -25.2zM352 54.3c4.6 0 4.6 24.1 0 24.1c-4.6 0 -4.6 -24.1 0 -24.1zM369 79.8c4.4 0 4.4 22.9 0 22.9c-4.4 0 -4.4 -22.9 0 -22.9zM391 87.3c4.3 0 4.3 21.8 0 21.8c-4.3 0 -4.3 -21.8 0 -21.8zM411 111.8c4.2 0 4.2 20.6 0 20.6c-4.2 0 -4.2 -20.6 0 -20.6zM429 121.3c4 0 4 19.4 0 19.4c-4 0 -4 -19.4 0 -19.4zM445 136.8c3.9 0 3.9 18.3 0 18.3c-3.9 0 -3.9 -18.3 0 -18.3zM461 156.3c3.7 0 3.7 17.1 0 17.1c-3.7 0 -3.7 -17.1 0 -17.1zM478 166.8c3.6 0 3.6 15.8 0 15.8c-3.6 0 -3.6 -15.8 0 -15.8zM495 185.3c3.4 0 3.4 14.6 0 14.6c-3.4 0 -3.4 -14.6 0 -14.6zM512 195.7c3.3 0 3.3 13.4 0 13.4c-3.3 0 -3.3 -13.4 0 -13.4zM528 207.2c3.2 0 3.2 12.1 0 12.1c-3.2 0 -3.2 -12.1 0 -12.1zM545 219.6c3 0 3 10.8 0 10.8c-3 0 -3 -10.8 0 -10.8zM560 229.1c2.9 0 2.9 9.5 0 9.5c-2.9 0 -2.9 -9.5 0 -9.5zM573 235.5c2.7 0 2.7 8.1 0 8.1c-2.7 0 -2.7 -8.1 0 -8.1zM586 245.9c2.6 0 2.6 6.7 0 6.7c-2.6 0 -2.6 -6.7 0 -6.7z" stroke="#92dea6" stroke-width="1.25" fill="#2c8c88" fill-opacity="0.5"/>
<path d="M267 -1v13.1M301 26.5v12.1M334 56.9v11.1M369 86.2v10.1M411 117.6v9.1M445 141.9v8M478 171.2v7M512 199.5v5.9" stroke="#8fdcf0" stroke-width="2.2"/>
<path d="M10 232.8c4.8 -3.9 27.2 -1 32 2.9c-4.8 3.1 -27.2 0.2 -32 -2.9zM19.6 225.8c3.2 -3 16 -2 19.2 1c-3.2 2.500 -16 2 -19.2 -1zM32.1 236.9c4.7 -3.7 26.8 -0.9 31.5 2.8c-4.7 3 -26.8 0.1 -31.5 -2.8zM60.3 240.3c3.9 -3.7 22.2 -1.4 26.1 2.3c-3.9 3 -22.2 0.6 -26.1 -2.3zM68.1 233.3c2.6 -3 13 -2 15.6 1c-2.6 2.500 -13 2 -15.6 -1zM78.9 243c5.5 -5.4 31.4 -2 36.9 3.3c-5.5 4.3 -31.4 1 -36.9 -3.3zM90 236c3.7 -3 18.4 -2 22.1 1c-3.7 2.500 -18.4 2 -22.1 -1zM102 241.5c6.3 -5.3 35.8 -1.6 42.1 3.8c-6.3 4.3 -35.8 0.5 -42.1 -3.8zM126.2 246.3c7.3 -5.2 41.2 -0.9 48.5 4.4c-7.3 4.2 -41.2 -0.2 -48.5 -4.4zM140.8 239.3c4.8 -3 24.2 -2 29.1 1c-4.8 2.500 -24.2 2 -29.1 -1zM157.2 248.9c6.8 -5.1 38.3 -1 45 4.1c-6.8 4 -38.3 -0 -45 -4.1zM170.7 241.9c4.5 -3 22.5 -2 27 1c-4.5 2.500 -22.5 2 -27 -1zM184.3 256.3c6.6 -5.4 37.7 -1.4 44.3 4c-6.6 4.3 -37.7 0.3 -44.3 -4zM197.6 249.3c4.4 -3 22.2 -2 26.6 1c-4.4 2.500 -22.2 2 -26.6 -1zM219.4 256.3c5.4 -3.8 30.6 -0.6 36.1 3.2c-5.4 3.1 -30.6 -0.2 -36.1 -3.2zM252.4 257c6.5 -4.9 37 -1 43.5 3.9c-6.5 3.9 -37 0 -43.5 -3.9zM286 262.3c7.2 -3.9 40.6 0.4 47.7 4.3c-7.2 3.2 -40.6 -1.1 -47.7 -4.3zM330.3 260.5c5.6 -5 31.8 -1.6 37.4 3.4c-5.6 4 -31.8 0.6 -37.4 -3.4zM352.1 264.1c7.1 -4.4 40.4 -0.1 47.6 4.3c-7.1 3.5 -40.4 -0.8 -47.6 -4.3zM390 267.2c5.5 -5.3 31 -2.1 36.5 3.3c-5.5 4.3 -31 1 -36.5 -3.3zM411.5 264.9c5.4 -5.3 30.4 -2 35.7 3.2c-5.4 4.2 -30.4 1 -35.7 -3.2zM434.6 268.3c7.1 -3.6 40.3 0.6 47.4 4.3c-7.1 2.9 -40.3 -1.4 -47.4 -4.3zM448.8 261.3c4.7 -3 23.7 -2 28.4 1c-4.7 2.500 -23.7 2 -28.4 -1zM464.3 270.3c4.2 -4.1 23.7 -1.6 27.9 2.5c-4.2 3.3 -23.7 0.8 -27.9 -2.5zM480.5 272.7c7 -5.1 39.9 -0.8 46.9 4.2c-7 4.1 -39.9 -0.2 -46.9 -4.2zM514.9 277.3c4.6 -3.8 26 -1 30.6 2.8c-4.6 3 -26 0.3 -30.6 -2.8zM533.2 284.5c4.3 -5.3 24.3 -2.7 28.6 2.6c-4.3 4.2 -24.3 1.6 -28.6 -2.6zM541.8 277.5c2.9 -3 14.3 -2 17.2 1c-2.9 2.500 -14.3 2 -17.2 -1z" stroke="#84e6c0" stroke-width="1" fill="#5fbf9a" fill-opacity="0.35"/>
</g>
<g opacity="0.95"><path fill="url(#hatch_dark)" fill-rule="evenodd" d="M46 2l0-2 4 0 4 0 4 0 4 0 4 0 4 0 4 0 4 0 4 0 0 2-1 2-1 2-2 3-1 3-1 2-2 4-1 2-2 2-2 2-3 2-2 0-4 2-2 0-4 2-2 1-3 1-3 2-2 1-2 1-3 2-2 2-2 2-2 2-2 2-2 2-2 2-2 2-3 2-2 0-2 0-1-4-1-3-1-3 0-4-3-2-4 2-2 1-4 1-2 1 0-3 0-4 0-4 0-4 0-4 2 0 4-2 2 0 2 0 3 2 1 3 1 3 1 3 4-1 2-1 2-1 3-2 3-2 2-1 2-2 2-2 2-2 2-2 2-3 1-2 1-2 1-4zM112 0l2 0 4 0 4 0 4 0 3 0-1 4-1 2-1 3-1 3-1 2-2 3-2 2-2 3-2 2-2 2-2 2-2 2-2 1-2 2-2 2-2 3-1 2-1 2-2 4 0 2-2 4-2 2-2 1-4 1-2 0-4 0-4 0-2 0-3-2-2-2-1-4 0-4 1-4 1-3 2-3 2-2 2-1 2-1 4-2 2-1 2-2 2-2 2-2 2-2 2-2 2-3 2-2 1-2 2-2 2-2 3-2 2-2zM155 18l3-1 2 1 2 2 2 3 1 3-1 3-1 3-2 2-1 2-2 3-2 3-1 2-2 2-1 2-2 4-1 2-1 2-2 3-2 3-2 2-2 1-2 1-4 1-4 1-4 0-2 0-4 1-4 1-2 0-3 2-2 2-1 2-1 4 0 4-1 3-1 3-2 2-3 2-2 1-2 1-4 2-2 1-2 1-3 2-3 2-2 1-2 1-2 2-2 2-2 3-1 3-1 4-1 2-3 2-2 1-4 1-4-1-2-2-2-3 0-2 0-2 1-4-1-2-4 0-2 0-2 4 1 4-1 2-2 3-2 2-2 1-2 2-3 2-3 1-2 1-3 2-3 1-2 1-4 1-2 1-4 2-2 0-4 2-2 0-2 0 0-4 0-4 0-4 2-2 2 0 4-2 2-1 3-1 3-2 2-1 2-1 4-2 2-1 2-1 4-2 2-1 3-1 3-1 2-1 1-4 1-4 1-2 1-2 4-2 2 0 2 0 4 1 4 0 2-1 4-2 2-1 2-1 3-2 3-2 2-1 2-2 2-1 3-2 2-2 3-2 2-1 2-1 2-2 3-2 2-2 1-4 0-2 1-4 1-2 4-2 2-1 3-1 3-1 2-2 2-1 2-2 2-2 2-2 2-2 2-2 2-2 2-2 2-2 2-2 2-2 2-2 2-2 2-2 2-2 2-2zM175 56l3-1 4-1 4 1 2 3 0 4-1 4-1 2-2 3-2 3-2 2-1 2-3 2-2 2-2 2-2 1-2 2-2 1-3 2-2 2-2 2-2 2-1 2-2 4-1 2-3 0 0-2-1-4-1-4 0-2-1-4 0-4 1-3 1-3 1-2 2-3 2-3 2-2 2-2 2-1 2-2 2-1 3-2 3-2 2-1zM59 62l3 0 2 0 1 4-1 4-2 2-2 2-2 2-2 1-2 1-3 2-3 1-2 2-2 1-3 2-2 2-2 2-3 2-2 2-2 1-2 1-3 2-3 1-2 1-4 2-2 1-3 1-3 1-2 1-4 2-2 0 0-2 0-4 0-4 0-4 0-4 2-1 2-1 2-2 3-2 3-2 2-2 2-1 2-2 3-1 3-2 2-1 4-1 2 0 4-1 4-1 2 0 4-2 2-1 2-1 4-2 2-1zM208 80l4-1 3 1 3 2 1 2 2 2 1 4-1 4-1 2-2 2-2 3-2 2-2 2-2 1-2 2-2 2-3 2-3 2-2 2-2 2-2 1-2 2-2 2-2 1-2 2-3 2-3 2-2 1-2 1-3 2-3 2-2 1-2 1-4 2-2 1-2 1-4 2-2 1-4 1-2 0-4 1-4 0-4 1-2 0-4 1-3 1-3 2-2 2-2 1-2 2-2 1-3 2-3 1-2 1-4 1-4 1-2 0-4 1-4 0-4 0-4 0-4-1-2 0-2-2-2-4-4 1-3 1-3 1-2 1-4 1-2 1-4 1-4 1-4 0-4 0-4 0-4-1-3-1-3-1-4-1-2 0-4-1-1-3 1-2 3-2 2-2 3-1 2-1 4-1 3-1 2 0 3 1 0 3 0 4 4 2 4-1 4 0 4-1 2 0 4-1 2-1 4-1 2-1 4 0 2 1 1 3 3 1 3-1 3-1 4 0 3-1 3-1 4 0 4-1 2 0 4-1 4 0 4-1 2 0 4-1 4 0 2-1 3-2 2-2 2-2 3-2 2-2 2-2 2-1 2-1 4-2 2-1 2-1 4-2 2-1 2-2 2-1 2-2 3-2 2-2 3-2 2-1 2-1 2-2 3-2 3-2 2-2 2-2 2-2 2-2 2-2 2-2 2-2 1-2 2-2 2-2 1-2 2-2 2-2zM114 96l2-1 1 3-1 3-1 3 0 4 0 4 0 4 1 2 2 2 2 2-2 1-4 0-4 0-4 1-2 0-4 2-2 1-2 1-4 2-2 1-4 1-3-2 1-3 2-3 2-1 2-1 3-2 3-2 2-1 2-2 2-3 2-2 1-2 1-2 2-4 1-2 2-2zM238 112l4-1 3 1 3 2 2 2 2 2 1 2-1 4-2 2-2 2-2 1-2 1-4 2-2 1-3 1-3 2-2 2-2 1-2 2-2 1-2 2-3 2-3 2-2 1-2 1-3 2-3 2-2 2-2 1-2 1-4 2-2 1-3 1-3 1-4 1-4-1-4 0-4 0-4 0-2 1-4 2-2 1-4 1-4 0-3-2 2-2 2-2 3-2 2-1 2-1 4-2 2-1 2-1 3-2 3-2 2-1 3-1 3-1 2-1 4-2 2-1 2-1 4-2 2-1 3-1 3-1 2-1 4-2 2-1 2-1 3-2 3-2 2-1 2-2 2-2 2-2 2-2 2-2 2-2 2-2zM270 138l2-1 4 0 2 1 2 2 2 4-2 4-1 2-2 2-3 2-2 2-2 1-2 2-3 1-3 2-2 1-4 1-2 1-4 1-2 0-4 0-2 0-4-2 2-4 2-2 2-1 2-2 2-2 2-1 3-2 3-2 2-1 2-2 2-1 2-2 3-2zM290 170l2-1 4-1 4 2 0 2-1 2-2 2-2 2-3 1-2 1-4 1-4 0-4 0-3-1 1-2 2-2 3-2 3-1 2-1z"/></g>
<g opacity="0.6"><path fill="url(#hatch_lite)" fill-rule="evenodd" d="M0 0l4 0 4 0 4 0 4 0 3 0 0 4 0 4-1 2-2 2-3 2-3 2-2 1-2 1-4 2-2 0 0-2 0-4 0-4 0-4 0-4zM89 2l1-2 4 0 4 0 4 0 4 0 0 1-2 2-2 2-2 2-2 2-2 2-2 2-2 2-2 2-2 1-4 1-1-3 1-3 1-3 1-2 2-4zM136 2l2-1 4 1 2 1 2 2 2 2 1 3 1 4-1 4-1 2-2 3-2 3-2 2-2 2-2 2-2 2-2 2-2 2-2 2-2 1-2 2-2 2-2 1-3 2-3 2-2 0-4 0-2 0-3-2-1-4 1-4 1-2 2-3 2-2 2-2 2-2 2-2 2-2 2-3 2-2 1-2 2-2 1-2 2-3 2-3 1-2 2-2zM30 4l2-1 4 0 2 1 1 4-1 4-1 2-2 2-1 2-3 2-3 2-2 1-4-1-2-2 0-2-1-4 1-3 2-2 2-2 2-1zM55 34l3 0 3 0 2 2 1 2 0 4 0 4 0 2-2 4-1 2-3 2-2 1-2 1-3 2-3 2-2 1-3 1-3 1-4 0-4 0-4-1 0-2 0-2 2-4 1-2 1-2 2-4 2-2 1-2 3-2 2-2 2-1 2-1 3-2 3-1zM167 36l3 0 2 1 2 2 2 3 0 2 0 4-1 2-2 2-2 2-3 2-2 1-2 1-4 2-2 0-4 0-1-2 0-4 1-3 1-3 1-2 2-3 2-2 2-2 2-2zM80 64l2 0 4-1 4 1 2 1 1 3-1 3-2 3-2 2-2 2-2 2-2 1-2 2-2 1-4 2-2 1-2 1-4 1-4-1-2-2 1-4 1-2 2-2 2-2 2-3 2-2 2-2 2-2 2-2zM192 66l4-1 3 1 3 2 1 2 1 3 0 3 0 2-2 4-1 2-2 2-1 2-2 3-2 2-2 2-2 2-2 2-2 2-2 2-2 2-2 1-3 2-3 2-2 1-4 1-4-1-2-3 0-2-1-4 1-3 1-3 2-2 1-2 2-2 3-2 2-2 2-2 3-2 2-2 2-2 1-2 2-2 1-2 2-2 2-2zM131 96l3-2 4 1 2 2 1 3 0 4-1 4-1 2-1 2-4 2-2 0-2 0-4-1-2-2-1-3 0-4 1-2 2-2 2-2zM222 100l4-1 3 1 2 2 1 2 1 4-1 3-2 3-1 2-2 2-2 2-2 2-3 2-2 2-2 1-2 2-2 1-4 2-2 1-2 1-4 2-2 1-3 1-3 1-2 1-4 2-2 1-3 1-3 1-3 1-3 1-2 1-4 2-2 1-2 1-3 2-3 2-2 2-2 1-2 1-3 2-3 2-2 1-4 1-2 0-4 0-4 0-3 0-3 0-4-2-1-2 1-2 2-2 3-2 3-2 2-1 2-1 4-1 3-1 3-1 4 0 4-1 2 0 4-1 3-1 3-1 2-1 4-2 2-1 2-1 2-2 4-2 2-2 2-1 2-1 3-2 2-2 3-2 2-2 2-1 2-2 2-2 2-2 2-1 2-2 3-2 2-2 3-2 2-2 2-2 2-1 2-2zM24 102l4-1 4 1 0 2 0 2-2 3-2 2-2 2-2 1-2 2-3 2-3 2-2 1-2 1-4 2-2 1-4 1-2 1 0-3 0-4 0-4 0-4 1-2 3-1 3-1 3-1 3-1 3-1 2-1 4-1zM91 104l3-1 3 1-1 4-1 2-3 2-2 1-4 1-2-2 0-2 2-3 2-1zM141 120l3-1 4 0 4 0 1 3-2 2-3 2-2 1-2 1-4 2-2 1-3 1-2 2-2 2-2 2-2 2-3 2-2 1-2 1-4 1-3 1-3 0-4 1-4 0-4 0-4 0-4-1-1-2 1-2 2-2 3-2 3-2 2-1 2-1 4-1 4-1 3 0 3 0 4 0 4-1 4 0 2-1 4-2 2-2 1-2 2-2zM252 130l4-1 4 0 2 1 2 3 0 3-1 2-1 2-2 2-3 2-3 2-2 1-2 1-3 2-3 2-2 1-2 1-3 2-3 2-2 1-2 1-3 2-3 1-2 1-4 2-2 0-4 1-2 1-4 1-4 1-4 0-4-1-1-3 2-2 3-2 2-1 2-1 2-2 4-2 2-2 2-1 2-1 3-2 3-1 2-1 3-2 3-2 2-2 2-1 2-2 2-1 3-2 3-1 2-1 4-2 2-1zM32 136l2-1 4 0 0 2-2 2-2 1-4 1-2 1-4 1-2 1-4 2-2 1-2 2-2 1-3 2-2 2-3 2-2 1-2-1 0-4 0-4 0-2 4-1 3-1 3-1 4-1 2 0 4-2 2 0 4-2 2-1zM55 138l3 0 2 0 1 4-1 2-2 2-4 2-2 1-4-1 0-2 0-2 2-4 2-1zM283 152l3 0 2 0 2 2 2 3 1 3-1 2-2 3-2 2-2 2-2 1-4 2-2 1-2 1-4 2-2 0-4 2-4 0-4 0-4-1-4-1-2 0-3-2 1-2 3-2 3-1 2-1 4-2 2-1 2-1 4-2 2-1 2-1 2-2 3-2 3-2 2-1z"/></g>
<path d="M0 0 L300 0 L366 120 L372 204 L520 264 L600 290 L596 300 L557 292 L511 279 L419 269 L328 264 L200 253 L0 235 Z" fill="#000" filter="url(#spk)" opacity="0.8"/>
<path d="M0 194 L100 186 L250 199 L366 207 L520 264 L600 290 L596 300 L557 292 L511 279 L419 269 L328 264 L200 253 L0 235 Z" fill="#000" filter="url(#spk2)" opacity="0.85"/>
<path d="M380 175 L590 244 L598 249 L585 239 L560 226 L500 190 L440 158 L392 150 Z" fill="#000" filter="url(#spk)" opacity="0.7"/>
<!-- bow contours -->
<g fill="none" stroke="#86e6c0" stroke-width="1.1" stroke-linejoin="round">
<path d="M604 250 l10 -2 l14 1 l9 7 l3 9 l-7 10 l-9 10 l-5 -2 l6 -11 l3 -9 l-6 -6 l-10 -1 z"/>
<path d="M560 290 l16 -2 l20 1 l20 -1 l-8 8 l-14 8 l-12 5 l-12 -3 l-7 1 l-5 -8 z"/>
<path d="M571 238 l8 -3 l9 3 l6 6 l-4 4 l-8 -2 l-6 -1 z"/>
<path d="M524 282 l10 2 l3 6 l-8 3 l-8 -4 z"/>
<path d="M536 272 l12 3 l6 5 l-10 1 l-9 -4 z"/>
<path d="M578 252 l9 4 l8 8 l9 7" stroke="#9af0d8"/>
<circle cx="623" cy="240.500" r="2.600"/><circle cx="550" cy="305" r="2.800"/><circle cx="540" cy="231" r="2.200"/>
<path d="M486 262 l9 1 l6 5 l-7 4 l-9 -3 z"/><path d="M470 271 l7 -1 l5 4 l-6 3 z"/>
</g>
<!-- hull interior -->
<path d="M368.500 194.500 L384 182.500 L586 252.500 Q603 261 613 271 L617.500 276.500 L568 276 L369 201.500 Z" fill="url(#mesh)"/>
<!-- hull -->
<path d="M354 199.500 L381.500 177 L590 245.800 Q609 254.500 618.500 265.500 Q622.500 272 624.500 280 L622.500 285 L586 286.500 L553.500 280.400 L359.500 206.500 Z M368.500 194.500 L384.500 183 L586 252.700 Q602 261.600 612.600 270.600 L617.500 276.800 L586 281 L553.700 275.500 L369.500 201.500 Z" fill="#7c7a1f" fill-rule="evenodd" stroke="#5e5c14" stroke-width="1.700" stroke-linejoin="round"/>
<path d="M381.500 177.600 L590 246.300 Q609 255 618.500 266 Q622 272 624 279" fill="none" stroke="#4e500e" stroke-width="1.300"/>
<path d="M384 181.500 L588 250.500 Q604 258.500 614 268.500" fill="none" stroke="#a5a53a" stroke-width="2"/>
<path d="M356 203 L553.700 277.700 L586 283.500 L621 283" fill="none" stroke="#6c6e16" stroke-width="2.400"/>
<path d="M362 203.500 L369.500 201.800 L553.700 275.800 L586 281.200 L617 277.300" fill="none" stroke="#c9c944" stroke-width="1.100"/>
<path d="M383 180.200 L589 249 Q606 257 616 267.500" fill="none" stroke="#3e3c0a" stroke-width="0.900"/>
<path d="M358.500 203.500 L553.600 278.800 L586 284.600 L621 283.800" fill="none" stroke="#3e3c0a" stroke-width="0.900"/>
<ellipse cx="383" cy="190.500" rx="7" ry="3" transform="rotate(-38 383 190.500)" fill="#c4dc6a" stroke="#8fe0b0" stroke-width="0.800"/>
<ellipse cx="377" cy="198" rx="5" ry="2.200" transform="rotate(-30 377 198)" fill="#d6e070" stroke="#8fe0b0" stroke-width="0.800"/>
<!-- axis icon -->
<path d="M744.800 310.200 L750.100 320.600 L738.500 332.200 L733.200 318.800 Z" fill="#1f3a3c" stroke="#9fb7b5" stroke-width="0.800"/>
<path d="M742.100 321.500 L753.700 325" stroke="#e03ad0" stroke-width="1.200" fill="none"/>
<rect x="0.5" y="0.5" width="766" height="345" fill="none" stroke="#1c6b3c" stroke-width="1"/>
</g>
</svg>
<svg class="chart" viewBox="0 0 1400 990">
<line x1="189" y1="480.6" x2="821.5" y2="480.6" stroke="#d4d4d4" stroke-width="1.5"/>
<line x1="189" y1="549.1" x2="821.5" y2="549.1" stroke="#d4d4d4" stroke-width="1.5"/>
<line x1="189" y1="617.6" x2="821.5" y2="617.6" stroke="#d4d4d4" stroke-width="1.5"/>
<line x1="189" y1="686.2" x2="821.5" y2="686.2" stroke="#d4d4d4" stroke-width="1.5"/>
<line x1="189" y1="754.6" x2="821.5" y2="754.6" stroke="#d4d4d4" stroke-width="1.5"/>
<line x1="189" y1="823.1" x2="810" y2="823.1" stroke="#d4d4d4" stroke-width="1.4"/>
<path d="M808 816.6 L821 823.1 L808 829.6 Z" fill="#d4d4d4"/>
<line x1="189" y1="823.8" x2="189" y2="478" stroke="#d4d4d4" stroke-width="1.4"/>
<path d="M183.2 487.5 L189 474.5 L194.8 487.5 L189 483.5 Z" fill="#d9d9d9"/>
<path d="M205.1 823.1 L236.7 823.1 L268.3 822.9 L299.9 821.4 L331.5 818.3 L363.2 814.6 L394.8 810.0 L426.4 804.9 L458.0 796.6 L489.6 786.3 L521.2 775.7 L552.8 760.9 L584.4 742.9 L616.0 722.9 L647.6 699.3 L679.3 669.1 L710.9 634.0 L742.5 593.4 L774.1 544.9 L805.7 488.0" fill="none" stroke="#ed7d31" stroke-width="4.6" stroke-linejoin="round" stroke-linecap="round"/>
<circle cx="205.1" cy="823.1" r="5.4" fill="#ed7d31"/>
<circle cx="236.7" cy="823.1" r="5.4" fill="#ed7d31"/>
<circle cx="268.3" cy="822.9" r="5.4" fill="#ed7d31"/>
<circle cx="299.9" cy="821.4" r="5.4" fill="#ed7d31"/>
<circle cx="331.5" cy="818.3" r="5.4" fill="#ed7d31"/>
<circle cx="363.2" cy="814.6" r="5.4" fill="#ed7d31"/>
<circle cx="394.8" cy="810.0" r="5.4" fill="#ed7d31"/>
<circle cx="426.4" cy="804.9" r="5.4" fill="#ed7d31"/>
<circle cx="458.0" cy="796.6" r="5.4" fill="#ed7d31"/>
<circle cx="489.6" cy="786.3" r="5.4" fill="#ed7d31"/>
<circle cx="521.2" cy="775.7" r="5.4" fill="#ed7d31"/>
<circle cx="552.8" cy="760.9" r="5.4" fill="#ed7d31"/>
<circle cx="584.4" cy="742.9" r="5.4" fill="#ed7d31"/>
<circle cx="616.0" cy="722.9" r="5.4" fill="#ed7d31"/>
<circle cx="647.6" cy="699.3" r="5.4" fill="#ed7d31"/>
<circle cx="679.3" cy="669.1" r="5.4" fill="#ed7d31"/>
<circle cx="710.9" cy="634.0" r="5.4" fill="#ed7d31"/>
<circle cx="742.5" cy="593.4" r="5.4" fill="#ed7d31"/>
<circle cx="774.1" cy="544.9" r="5.4" fill="#ed7d31"/>
<circle cx="805.7" cy="488.0" r="5.4" fill="#ed7d31"/>
<text x="171" y="486.7" text-anchor="end" class="ax">25000</text>
<text x="171" y="555.2" text-anchor="end" class="ax">20000</text>
<text x="171" y="623.7" text-anchor="end" class="ax">15000</text>
<text x="171" y="692.3" text-anchor="end" class="ax">10000</text>
<text x="171" y="760.7" text-anchor="end" class="ax">5000</text>
<text x="171" y="829.2" text-anchor="end" class="ax">0</text>
<text x="205.1" y="855.1" text-anchor="middle" class="ax">1</text>
<text x="236.7" y="855.1" text-anchor="middle" class="ax">2</text>
<text x="268.3" y="855.1" text-anchor="middle" class="ax">3</text>
<text x="299.9" y="855.1" text-anchor="middle" class="ax">4</text>
<text x="331.5" y="855.1" text-anchor="middle" class="ax">5</text>
<text x="363.2" y="855.1" text-anchor="middle" class="ax">6</text>
<text x="394.8" y="855.1" text-anchor="middle" class="ax">7</text>
<text x="426.4" y="855.1" text-anchor="middle" class="ax">8</text>
<text x="458.0" y="855.1" text-anchor="middle" class="ax">9</text>
<text x="489.6" y="855.1" text-anchor="middle" class="ax">10</text>
<text x="521.2" y="855.1" text-anchor="middle" class="ax">11</text>
<text x="552.8" y="855.1" text-anchor="middle" class="ax">12</text>
<text x="584.4" y="855.1" text-anchor="middle" class="ax">13</text>
<text x="616.0" y="855.1" text-anchor="middle" class="ax">14</text>
<text x="647.6" y="855.1" text-anchor="middle" class="ax">15</text>
<text x="679.3" y="855.1" text-anchor="middle" class="ax">16</text>
<text x="710.9" y="855.1" text-anchor="middle" class="ax">17</text>
<text x="742.5" y="855.1" text-anchor="middle" class="ax">18</text>
<text x="774.1" y="855.1" text-anchor="middle" class="ax">19</text>
<text x="805.7" y="855.1" text-anchor="middle" class="ax">20</text>
<text x="505" y="886.3" text-anchor="middle" class="at">Speed (kN)</text>
<text transform="translate(107.8 648.6) rotate(-90)" text-anchor="middle" class="at">Power (kW)</text>
</svg>
<div class="stat" style="left:915px;top:564.7px;"><div class="num">14 <span class="unit">kn</span></div><div class="lab" style="letter-spacing:-0.78px">Service Speed</div></div>
<div class="stat" style="left:1119px;top:564.7px;"><div class="num" style="letter-spacing:0.9px">7.500 <span class="unit">kW</span></div><div class="lab" style="letter-spacing:-0.62px">Required Power</div></div>
<div class="stat" style="left:915px;top:681.2px;"><div class="num">20 <span class="unit">kn</span></div><div class="lab">Max Speed</div></div>
<div class="stat" style="left:1119px;top:681.2px;"><div class="num" style="letter-spacing:1.0px">24.500 <span class="unit">kW</span></div><div class="lab" style="letter-spacing:-0.62px">Required Power</div></div>
</body></html>
